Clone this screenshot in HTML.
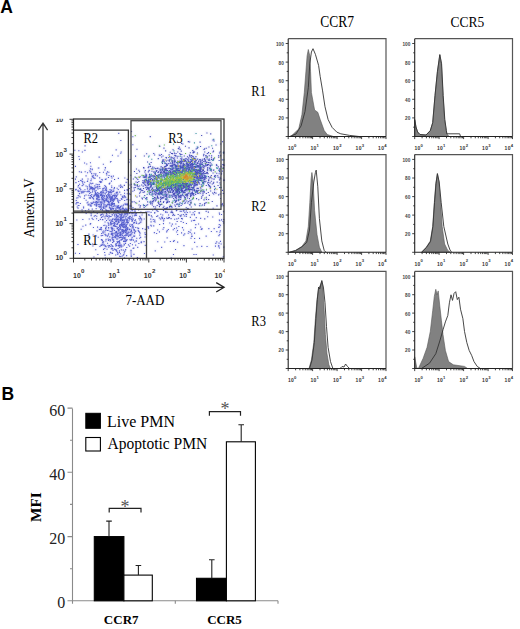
<!DOCTYPE html>
<html><head><meta charset="utf-8"><style>
html,body{margin:0;padding:0;background:#fff;width:520px;height:629px;overflow:hidden;}
svg{display:block;font-family:"Liberation Serif",serif;}
</style></head><body>
<svg width="520" height="629" viewBox="0 0 520 629">
<text x="0.3" y="12.6" font-family="Liberation Sans" font-weight="bold" font-size="17.5">A</text>
<text x="1.5" y="399.6" font-family="Liberation Sans" font-weight="bold" font-size="17.5">B</text>
<defs><filter id="bl" x="-5%" y="-5%" width="110%" height="110%"><feGaussianBlur stdDeviation="0.55"/></filter><filter id="hz" x="-5%" y="-5%" width="110%" height="110%"><feGaussianBlur stdDeviation="1.3"/></filter></defs>
<path filter="url(#hz)" fill="rgb(130,130,230)" opacity="0.75" d="M179 175h1v1h-1zM185 199h1v1h-1zM174 160h1v1h-1zM161 203h1v1h-1zM170 173h1v1h-1zM159 146h1v1h-1zM180 216h1v1h-1zM206 197h1v1h-1zM169 168h1v1h-1zM167 184h1v1h-1zM189 175h1v1h-1zM186 180h1v1h-1zM181 160h1v1h-1zM160 174h1v1h-1zM178 186h1v1h-1zM193 181h1v1h-1zM152 201h1v1h-1zM170 183h1v1h-1zM141 218h1v1h-1zM153 175h1v1h-1zM142 190h1v1h-1zM174 155h1v1h-1zM154 167h1v1h-1zM184 197h1v1h-1zM182 167h1v1h-1zM175 188h1v1h-1zM129 188h1v1h-1zM168 168h1v1h-1zM178 175h1v1h-1zM181 173h1v1h-1zM148 179h1v1h-1zM169 192h1v1h-1zM159 192h1v1h-1zM163 175h1v1h-1zM200 164h1v1h-1zM163 187h1v1h-1zM178 179h1v1h-1zM197 191h1v1h-1zM167 218h1v1h-1zM177 192h1v1h-1zM181 179h1v1h-1zM180 177h1v1h-1zM154 173h1v1h-1zM181 167h1v1h-1zM206 162h1v1h-1zM148 180h1v1h-1zM196 171h1v1h-1zM181 190h1v1h-1zM166 177h1v1h-1zM219 170h1v1h-1zM194 161h1v1h-1zM155 206h1v1h-1zM180 187h1v1h-1zM191 202h1v1h-1zM175 191h1v1h-1zM193 198h1v1h-1zM178 177h1v1h-1zM192 187h1v1h-1zM208 212h1v1h-1zM165 166h1v1h-1zM183 195h1v1h-1zM170 205h1v1h-1zM182 185h1v1h-1zM155 195h1v1h-1zM167 199h1v1h-1zM175 172h1v1h-1zM197 183h1v1h-1zM202 164h1v1h-1zM153 175h1v1h-1zM163 174h1v1h-1zM192 176h1v1h-1zM139 189h1v1h-1zM170 188h1v1h-1zM177 161h1v1h-1zM204 203h1v1h-1zM193 194h1v1h-1zM172 191h1v1h-1zM172 176h1v1h-1zM174 180h1v1h-1zM209 182h1v1h-1zM170 187h1v1h-1zM173 158h1v1h-1zM186 189h1v1h-1zM177 221h1v1h-1zM175 155h1v1h-1zM157 198h1v1h-1zM179 185h1v1h-1zM170 180h1v1h-1zM202 195h1v1h-1zM192 161h1v1h-1zM179 182h1v1h-1zM192 198h1v1h-1zM172 178h1v1h-1zM200 170h1v1h-1zM179 182h1v1h-1zM191 172h1v1h-1zM153 206h1v1h-1zM186 166h1v1h-1zM145 198h1v1h-1zM138 170h1v1h-1zM173 190h1v1h-1zM161 182h1v1h-1zM182 143h1v1h-1zM162 168h1v1h-1zM167 176h1v1h-1zM183 201h1v1h-1zM189 163h1v1h-1zM175 166h1v1h-1zM175 201h1v1h-1zM193 179h1v1h-1zM189 200h1v1h-1zM158 188h1v1h-1zM177 168h1v1h-1zM180 179h1v1h-1zM158 201h1v1h-1zM184 192h1v1h-1zM162 183h1v1h-1zM198 177h1v1h-1zM183 178h1v1h-1zM181 172h1v1h-1zM167 209h1v1h-1zM177 181h1v1h-1zM139 171h1v1h-1zM156 177h1v1h-1zM186 189h1v1h-1zM136 196h1v1h-1zM196 175h1v1h-1zM144 177h1v1h-1zM194 178h1v1h-1zM162 160h1v1h-1zM195 159h1v1h-1zM182 191h1v1h-1zM148 179h1v1h-1zM204 181h1v1h-1zM208 192h1v1h-1zM178 189h1v1h-1zM174 181h1v1h-1zM176 210h1v1h-1zM159 193h1v1h-1zM201 171h1v1h-1zM168 192h1v1h-1zM178 186h1v1h-1zM163 171h1v1h-1zM166 183h1v1h-1zM153 182h1v1h-1zM204 148h1v1h-1zM176 178h1v1h-1zM198 173h1v1h-1zM179 174h1v1h-1zM165 160h1v1h-1zM172 176h1v1h-1zM168 181h1v1h-1zM179 181h1v1h-1zM171 165h1v1h-1zM173 190h1v1h-1zM151 168h1v1h-1zM163 180h1v1h-1zM212 192h1v1h-1zM166 173h1v1h-1zM158 177h1v1h-1zM186 194h1v1h-1zM207 170h1v1h-1zM150 181h1v1h-1zM175 184h1v1h-1zM166 197h1v1h-1zM144 155h1v1h-1zM194 166h1v1h-1zM179 166h1v1h-1zM180 165h1v1h-1zM164 171h1v1h-1zM188 167h1v1h-1zM168 186h1v1h-1zM176 168h1v1h-1zM157 186h1v1h-1zM155 190h1v1h-1zM206 165h1v1h-1zM169 184h1v1h-1zM185 202h1v1h-1zM178 185h1v1h-1zM170 173h1v1h-1zM169 181h1v1h-1zM192 165h1v1h-1zM173 185h1v1h-1zM176 192h1v1h-1zM179 169h1v1h-1zM203 173h1v1h-1zM193 193h1v1h-1zM187 172h1v1h-1zM168 185h1v1h-1zM151 171h1v1h-1zM198 165h1v1h-1zM198 170h1v1h-1zM176 210h1v1h-1zM190 173h1v1h-1zM195 170h1v1h-1zM196 169h1v1h-1zM197 175h1v1h-1zM170 190h1v1h-1zM209 177h1v1h-1zM154 212h1v1h-1zM196 180h1v1h-1zM189 198h1v1h-1zM196 181h1v1h-1zM217 182h1v1h-1zM209 155h1v1h-1zM156 182h1v1h-1zM145 185h1v1h-1zM195 174h1v1h-1zM159 154h1v1h-1zM179 192h1v1h-1zM196 172h1v1h-1zM146 180h1v1h-1zM137 184h1v1h-1zM184 176h1v1h-1zM180 185h1v1h-1zM174 164h1v1h-1zM180 167h1v1h-1zM162 187h1v1h-1zM149 187h1v1h-1zM176 175h1v1h-1zM160 176h1v1h-1zM146 174h1v1h-1zM189 177h1v1h-1zM178 196h1v1h-1zM187 164h1v1h-1zM159 204h1v1h-1zM166 194h1v1h-1zM159 177h1v1h-1zM161 194h1v1h-1zM183 159h1v1h-1zM163 159h1v1h-1zM186 161h1v1h-1zM186 173h1v1h-1zM220 169h1v1h-1zM151 178h1v1h-1zM197 178h1v1h-1zM177 151h1v1h-1zM179 187h1v1h-1zM150 166h1v1h-1zM170 173h1v1h-1zM194 172h1v1h-1zM177 165h1v1h-1zM181 161h1v1h-1zM173 167h1v1h-1zM202 176h1v1h-1zM179 188h1v1h-1zM135 195h1v1h-1zM165 169h1v1h-1zM140 176h1v1h-1zM114 179h1v1h-1zM168 188h1v1h-1zM206 148h1v1h-1zM180 197h1v1h-1zM156 178h1v1h-1zM160 173h1v1h-1zM202 181h1v1h-1zM182 193h1v1h-1zM180 184h1v1h-1zM178 194h1v1h-1zM180 182h1v1h-1zM195 194h1v1h-1zM190 195h1v1h-1zM183 178h1v1h-1zM158 203h1v1h-1zM189 180h1v1h-1zM165 184h1v1h-1zM201 164h1v1h-1zM154 181h1v1h-1zM176 191h1v1h-1zM179 162h1v1h-1zM153 193h1v1h-1zM213 179h1v1h-1zM208 179h1v1h-1zM170 152h1v1h-1zM194 176h1v1h-1zM187 187h1v1h-1zM127 179h1v1h-1zM184 180h1v1h-1zM178 148h1v1h-1zM181 189h1v1h-1zM157 175h1v1h-1zM174 193h1v1h-1zM175 156h1v1h-1zM203 185h1v1h-1zM186 176h1v1h-1zM179 191h1v1h-1zM210 162h1v1h-1zM168 174h1v1h-1zM171 212h1v1h-1zM143 175h1v1h-1zM210 165h1v1h-1zM198 173h1v1h-1zM197 163h1v1h-1zM192 194h1v1h-1zM181 203h1v1h-1zM183 170h1v1h-1zM174 157h1v1h-1zM175 197h1v1h-1zM180 195h1v1h-1zM209 186h1v1h-1zM190 194h1v1h-1zM178 168h1v1h-1zM167 180h1v1h-1zM166 163h1v1h-1zM211 155h1v1h-1zM189 192h1v1h-1zM180 171h1v1h-1zM172 212h1v1h-1zM157 185h1v1h-1zM178 172h1v1h-1zM196 188h1v1h-1zM171 206h1v1h-1zM174 187h1v1h-1zM175 164h1v1h-1zM181 185h1v1h-1zM147 204h1v1h-1zM174 174h1v1h-1zM162 173h1v1h-1zM197 191h1v1h-1zM164 185h1v1h-1zM191 163h1v1h-1zM209 170h1v1h-1zM173 171h1v1h-1zM167 186h1v1h-1zM183 181h1v1h-1zM179 196h1v1h-1zM159 193h1v1h-1zM188 157h1v1h-1zM219 178h1v1h-1zM174 193h1v1h-1zM175 187h1v1h-1zM158 198h1v1h-1zM185 171h1v1h-1zM154 171h1v1h-1zM157 196h1v1h-1zM205 161h1v1h-1zM161 154h1v1h-1zM201 190h1v1h-1zM209 165h1v1h-1zM184 175h1v1h-1zM190 159h1v1h-1zM218 155h1v1h-1zM175 165h1v1h-1zM167 177h1v1h-1zM152 190h1v1h-1zM180 149h1v1h-1zM209 185h1v1h-1zM198 161h1v1h-1zM160 169h1v1h-1zM162 192h1v1h-1zM169 181h1v1h-1zM185 158h1v1h-1zM175 206h1v1h-1zM183 168h1v1h-1zM185 182h1v1h-1zM173 184h1v1h-1zM178 199h1v1h-1zM183 173h1v1h-1zM177 194h1v1h-1zM189 168h1v1h-1zM216 189h1v1h-1zM191 168h1v1h-1zM180 175h1v1h-1zM145 212h1v1h-1zM187 183h1v1h-1zM140 188h1v1h-1zM151 215h1v1h-1zM196 182h1v1h-1zM193 166h1v1h-1zM176 190h1v1h-1zM145 170h1v1h-1zM172 197h1v1h-1zM165 199h1v1h-1zM192 170h1v1h-1zM183 182h1v1h-1zM163 183h1v1h-1zM156 171h1v1h-1zM178 188h1v1h-1zM175 153h1v1h-1zM156 178h1v1h-1zM181 174h1v1h-1zM156 180h1v1h-1zM201 180h1v1h-1zM200 160h1v1h-1zM201 184h1v1h-1zM170 179h1v1h-1zM189 169h1v1h-1zM176 162h1v1h-1zM171 165h1v1h-1zM172 186h1v1h-1zM153 171h1v1h-1zM150 186h1v1h-1zM195 192h1v1h-1zM175 195h1v1h-1zM183 200h1v1h-1zM199 172h1v1h-1zM144 171h1v1h-1zM163 197h1v1h-1zM183 184h1v1h-1zM187 194h1v1h-1zM171 181h1v1h-1zM200 193h1v1h-1zM183 191h1v1h-1zM155 194h1v1h-1zM160 190h1v1h-1zM195 183h1v1h-1zM188 182h1v1h-1zM141 190h1v1h-1zM206 189h1v1h-1zM191 171h1v1h-1zM206 199h1v1h-1zM171 180h1v1h-1zM173 194h1v1h-1zM156 183h1v1h-1zM175 208h1v1h-1zM211 170h1v1h-1zM166 165h1v1h-1zM182 170h1v1h-1zM146 182h1v1h-1zM171 211h1v1h-1zM199 179h1v1h-1zM154 197h1v1h-1zM200 163h1v1h-1zM186 184h1v1h-1zM158 193h1v1h-1zM169 206h1v1h-1zM170 172h1v1h-1zM178 188h1v1h-1zM168 186h1v1h-1zM162 169h1v1h-1zM173 181h1v1h-1zM158 180h1v1h-1zM153 153h1v1h-1zM178 188h1v1h-1zM197 184h1v1h-1zM148 179h1v1h-1zM179 162h1v1h-1zM166 202h1v1h-1zM159 187h1v1h-1zM196 191h1v1h-1zM169 201h1v1h-1zM209 168h1v1h-1zM163 194h1v1h-1zM187 175h1v1h-1zM174 180h1v1h-1zM164 181h1v1h-1zM191 178h1v1h-1zM176 196h1v1h-1zM191 180h1v1h-1zM178 178h1v1h-1zM157 180h1v1h-1zM177 185h1v1h-1zM180 168h1v1h-1zM198 170h1v1h-1zM161 182h1v1h-1zM178 172h1v1h-1zM145 184h1v1h-1zM192 169h1v1h-1zM157 211h1v1h-1zM143 204h1v1h-1zM178 186h1v1h-1zM201 175h1v1h-1zM149 215h1v1h-1zM157 188h1v1h-1zM164 181h1v1h-1zM156 188h1v1h-1zM187 183h1v1h-1zM163 202h1v1h-1zM165 182h1v1h-1zM191 206h1v1h-1zM164 171h1v1h-1zM188 188h1v1h-1zM160 170h1v1h-1zM155 209h1v1h-1zM142 182h1v1h-1zM216 173h1v1h-1zM173 194h1v1h-1zM184 196h1v1h-1zM178 165h1v1h-1zM182 175h1v1h-1zM180 161h1v1h-1zM217 175h1v1h-1zM158 182h1v1h-1zM148 181h1v1h-1zM159 174h1v1h-1zM152 179h1v1h-1zM194 167h1v1h-1zM195 184h1v1h-1zM160 204h1v1h-1zM151 159h1v1h-1zM172 180h1v1h-1zM207 169h1v1h-1zM123 197h1v1h-1zM190 165h1v1h-1zM157 182h1v1h-1zM200 162h1v1h-1zM157 193h1v1h-1zM173 182h1v1h-1zM149 183h1v1h-1zM159 188h1v1h-1zM207 172h1v1h-1zM195 156h1v1h-1zM171 189h1v1h-1zM162 187h1v1h-1zM141 185h1v1h-1zM171 195h1v1h-1zM178 197h1v1h-1zM177 165h1v1h-1zM177 170h1v1h-1zM157 205h1v1h-1zM178 199h1v1h-1zM178 170h1v1h-1zM205 159h1v1h-1zM216 165h1v1h-1zM176 174h1v1h-1zM164 161h1v1h-1zM178 181h1v1h-1zM167 165h1v1h-1zM164 166h1v1h-1zM178 193h1v1h-1zM158 174h1v1h-1zM191 177h1v1h-1zM177 189h1v1h-1zM184 190h1v1h-1zM175 176h1v1h-1zM164 183h1v1h-1zM160 172h1v1h-1zM174 205h1v1h-1zM168 191h1v1h-1zM184 164h1v1h-1zM179 180h1v1h-1zM152 194h1v1h-1zM180 186h1v1h-1zM152 209h1v1h-1zM167 201h1v1h-1zM173 174h1v1h-1zM137 186h1v1h-1zM181 162h1v1h-1zM182 183h1v1h-1zM176 183h1v1h-1zM171 218h1v1h-1zM172 183h1v1h-1zM159 155h1v1h-1zM174 172h1v1h-1zM168 183h1v1h-1zM181 163h1v1h-1zM155 172h1v1h-1zM184 174h1v1h-1zM182 184h1v1h-1zM176 178h1v1h-1zM170 169h1v1h-1zM190 189h1v1h-1zM146 179h1v1h-1zM188 172h1v1h-1zM184 160h1v1h-1zM185 168h1v1h-1zM187 187h1v1h-1zM166 160h1v1h-1zM174 180h1v1h-1zM192 187h1v1h-1zM188 173h1v1h-1zM183 183h1v1h-1zM149 170h1v1h-1zM190 196h1v1h-1zM202 191h1v1h-1zM199 180h1v1h-1zM184 155h1v1h-1zM148 171h1v1h-1zM198 190h1v1h-1zM176 204h1v1h-1zM128 193h1v1h-1zM187 196h1v1h-1zM149 177h1v1h-1zM153 182h1v1h-1zM166 182h1v1h-1zM204 181h1v1h-1zM172 161h1v1h-1zM184 192h1v1h-1zM214 192h1v1h-1zM211 159h1v1h-1zM177 162h1v1h-1zM174 186h1v1h-1zM154 176h1v1h-1zM165 150h1v1h-1zM188 189h1v1h-1zM187 181h1v1h-1zM181 173h1v1h-1zM199 205h1v1h-1zM164 185h1v1h-1zM178 170h1v1h-1zM194 179h1v1h-1zM191 164h1v1h-1zM200 166h1v1h-1zM187 184h1v1h-1zM173 174h1v1h-1zM186 173h1v1h-1zM159 206h1v1h-1zM146 197h1v1h-1zM191 189h1v1h-1zM178 187h1v1h-1zM185 185h1v1h-1zM145 206h1v1h-1zM172 181h1v1h-1zM167 207h1v1h-1zM162 170h1v1h-1zM134 184h1v1h-1zM172 162h1v1h-1zM197 172h1v1h-1zM187 186h1v1h-1zM167 202h1v1h-1zM179 171h1v1h-1zM194 177h1v1h-1zM124 185h1v1h-1zM177 170h1v1h-1zM190 162h1v1h-1zM193 178h1v1h-1zM213 151h1v1h-1zM202 178h1v1h-1zM185 179h1v1h-1zM185 170h1v1h-1zM195 164h1v1h-1zM168 163h1v1h-1zM178 206h1v1h-1zM197 159h1v1h-1zM218 194h1v1h-1zM176 189h1v1h-1zM178 175h1v1h-1zM183 164h1v1h-1zM206 189h1v1h-1zM178 204h1v1h-1zM208 162h1v1h-1zM160 179h1v1h-1zM175 195h1v1h-1zM175 185h1v1h-1zM195 204h1v1h-1zM200 169h1v1h-1zM149 193h1v1h-1zM161 166h1v1h-1zM186 207h1v1h-1zM166 172h1v1h-1zM149 155h1v1h-1zM200 175h1v1h-1zM189 176h1v1h-1zM189 204h1v1h-1zM169 177h1v1h-1zM200 176h1v1h-1zM174 189h1v1h-1zM201 198h1v1h-1zM161 182h1v1h-1zM162 197h1v1h-1zM183 186h1v1h-1zM165 178h1v1h-1zM193 179h1v1h-1zM184 179h1v1h-1zM161 171h1v1h-1zM180 196h1v1h-1zM172 162h1v1h-1zM197 193h1v1h-1zM166 195h1v1h-1zM170 180h1v1h-1zM203 165h1v1h-1zM219 179h1v1h-1zM180 190h1v1h-1zM183 183h1v1h-1zM210 188h1v1h-1zM177 173h1v1h-1zM159 187h1v1h-1zM181 158h1v1h-1zM188 189h1v1h-1zM162 185h1v1h-1zM146 180h1v1h-1zM150 201h1v1h-1zM192 187h1v1h-1zM164 144h1v1h-1zM176 181h1v1h-1zM183 160h1v1h-1zM191 192h1v1h-1zM172 215h1v1h-1zM189 171h1v1h-1zM161 184h1v1h-1zM172 178h1v1h-1zM159 188h1v1h-1zM202 185h1v1h-1zM178 198h1v1h-1zM164 169h1v1h-1zM172 203h1v1h-1zM175 168h1v1h-1zM193 181h1v1h-1zM147 201h1v1h-1zM158 193h1v1h-1zM171 169h1v1h-1zM198 170h1v1h-1zM177 180h1v1h-1zM193 193h1v1h-1zM220 155h1v1h-1zM174 187h1v1h-1zM172 190h1v1h-1zM203 183h1v1h-1zM189 185h1v1h-1zM192 198h1v1h-1zM169 188h1v1h-1zM217 185h1v1h-1zM213 182h1v1h-1zM190 202h1v1h-1zM193 152h1v1h-1zM138 204h1v1h-1zM192 174h1v1h-1zM175 177h1v1h-1zM188 165h1v1h-1zM193 152h1v1h-1zM172 176h1v1h-1zM145 177h1v1h-1zM186 185h1v1h-1zM164 163h1v1h-1zM172 201h1v1h-1zM167 186h1v1h-1zM172 178h1v1h-1zM133 178h1v1h-1zM203 165h1v1h-1zM184 164h1v1h-1zM201 169h1v1h-1zM219 173h1v1h-1zM179 178h1v1h-1zM143 167h1v1h-1zM161 180h1v1h-1zM155 172h1v1h-1zM169 184h1v1h-1zM181 205h1v1h-1zM139 195h1v1h-1zM186 175h1v1h-1zM149 163h1v1h-1zM185 160h1v1h-1zM177 158h1v1h-1zM173 191h1v1h-1zM178 170h1v1h-1zM168 183h1v1h-1zM167 174h1v1h-1zM145 187h1v1h-1zM178 199h1v1h-1zM216 164h1v1h-1zM219 168h1v1h-1zM205 164h1v1h-1zM193 189h1v1h-1zM165 168h1v1h-1zM208 160h1v1h-1zM178 161h1v1h-1zM178 161h1v1h-1zM173 187h1v1h-1zM181 215h1v1h-1zM170 168h1v1h-1zM177 193h1v1h-1zM157 187h1v1h-1zM172 166h1v1h-1zM178 177h1v1h-1zM174 171h1v1h-1zM190 204h1v1h-1zM193 152h1v1h-1zM157 189h1v1h-1zM175 185h1v1h-1zM197 169h1v1h-1zM184 181h1v1h-1zM181 191h1v1h-1zM210 177h1v1h-1zM165 188h1v1h-1zM181 189h1v1h-1zM169 154h1v1h-1zM209 195h1v1h-1zM140 218h1v1h-1zM166 196h1v1h-1zM168 196h1v1h-1zM192 159h1v1h-1zM191 176h1v1h-1zM207 164h1v1h-1zM148 178h1v1h-1zM194 190h1v1h-1zM173 170h1v1h-1zM166 181h1v1h-1zM190 152h1v1h-1zM161 181h1v1h-1zM137 188h1v1h-1zM172 172h1v1h-1zM149 175h1v1h-1zM166 208h1v1h-1zM186 162h1v1h-1zM185 165h1v1h-1zM211 163h1v1h-1zM175 197h1v1h-1zM148 214h1v1h-1zM164 187h1v1h-1zM161 173h1v1h-1zM155 178h1v1h-1zM188 193h1v1h-1zM166 170h1v1h-1zM139 207h1v1h-1zM193 197h1v1h-1zM177 181h1v1h-1zM186 188h1v1h-1zM181 190h1v1h-1zM192 199h1v1h-1zM180 166h1v1h-1zM204 192h1v1h-1zM187 173h1v1h-1zM187 168h1v1h-1zM187 180h1v1h-1zM150 182h1v1h-1zM176 167h1v1h-1zM174 159h1v1h-1zM183 167h1v1h-1zM152 204h1v1h-1zM212 201h1v1h-1zM181 188h1v1h-1zM155 200h1v1h-1zM145 179h1v1h-1zM173 180h1v1h-1zM177 184h1v1h-1zM165 168h1v1h-1zM181 166h1v1h-1zM166 184h1v1h-1zM190 174h1v1h-1zM165 168h1v1h-1zM178 185h1v1h-1zM199 173h1v1h-1zM159 183h1v1h-1zM170 178h1v1h-1zM162 185h1v1h-1zM195 175h1v1h-1zM156 175h1v1h-1zM169 176h1v1h-1zM178 190h1v1h-1zM159 192h1v1h-1zM160 201h1v1h-1zM169 159h1v1h-1zM137 182h1v1h-1zM150 179h1v1h-1zM171 184h1v1h-1zM182 173h1v1h-1zM175 174h1v1h-1zM144 197h1v1h-1zM170 184h1v1h-1zM195 161h1v1h-1zM190 196h1v1h-1zM177 194h1v1h-1zM161 175h1v1h-1zM192 189h1v1h-1zM167 172h1v1h-1zM156 199h1v1h-1zM163 180h1v1h-1zM208 164h1v1h-1zM183 174h1v1h-1zM202 166h1v1h-1zM169 184h1v1h-1zM198 179h1v1h-1zM167 183h1v1h-1zM176 173h1v1h-1zM194 179h1v1h-1zM169 156h1v1h-1zM177 184h1v1h-1zM186 194h1v1h-1zM203 179h1v1h-1zM169 176h1v1h-1zM144 184h1v1h-1zM173 179h1v1h-1zM179 173h1v1h-1zM181 172h1v1h-1zM205 163h1v1h-1zM185 195h1v1h-1zM195 177h1v1h-1zM157 197h1v1h-1zM196 174h1v1h-1zM221 174h1v1h-1zM194 175h1v1h-1zM184 185h1v1h-1zM182 191h1v1h-1zM215 177h1v1h-1zM160 174h1v1h-1zM177 170h1v1h-1zM188 201h1v1h-1zM194 174h1v1h-1zM170 178h1v1h-1zM185 199h1v1h-1zM173 196h1v1h-1zM181 187h1v1h-1zM176 175h1v1h-1zM156 216h1v1h-1zM179 185h1v1h-1zM197 184h1v1h-1zM160 181h1v1h-1zM174 162h1v1h-1zM192 160h1v1h-1zM158 189h1v1h-1zM183 185h1v1h-1zM158 180h1v1h-1zM202 160h1v1h-1zM219 168h1v1h-1zM175 161h1v1h-1zM194 190h1v1h-1zM181 195h1v1h-1zM181 218h1v1h-1zM210 186h1v1h-1zM153 177h1v1h-1zM200 164h1v1h-1zM178 133h1v1h-1zM207 167h1v1h-1zM183 177h1v1h-1zM166 195h1v1h-1zM185 187h1v1h-1zM194 185h1v1h-1zM180 183h1v1h-1zM189 187h1v1h-1zM169 201h1v1h-1zM136 173h1v1h-1zM197 171h1v1h-1zM193 159h1v1h-1zM182 201h1v1h-1zM180 197h1v1h-1zM200 187h1v1h-1zM170 165h1v1h-1zM165 185h1v1h-1zM175 177h1v1h-1zM203 177h1v1h-1zM151 182h1v1h-1zM203 183h1v1h-1zM166 177h1v1h-1zM157 195h1v1h-1zM204 179h1v1h-1zM177 176h1v1h-1zM153 183h1v1h-1zM172 175h1v1h-1zM198 188h1v1h-1zM203 172h1v1h-1zM170 185h1v1h-1zM187 173h1v1h-1zM193 157h1v1h-1zM166 195h1v1h-1zM186 164h1v1h-1zM178 189h1v1h-1zM168 188h1v1h-1zM169 159h1v1h-1zM180 167h1v1h-1zM180 173h1v1h-1zM168 171h1v1h-1zM170 165h1v1h-1zM201 186h1v1h-1zM183 176h1v1h-1zM197 182h1v1h-1zM203 170h1v1h-1zM191 182h1v1h-1zM162 183h1v1h-1zM195 185h1v1h-1zM173 182h1v1h-1zM216 167h1v1h-1zM213 159h1v1h-1zM140 189h1v1h-1zM160 188h1v1h-1zM192 174h1v1h-1zM195 167h1v1h-1zM194 185h1v1h-1zM178 214h1v1h-1zM188 174h1v1h-1zM192 182h1v1h-1zM177 185h1v1h-1zM200 142h1v1h-1zM134 190h1v1h-1zM192 168h1v1h-1zM158 202h1v1h-1zM198 173h1v1h-1zM174 170h1v1h-1zM161 180h1v1h-1zM186 181h1v1h-1zM161 176h1v1h-1zM161 182h1v1h-1zM148 167h1v1h-1zM178 177h1v1h-1zM189 189h1v1h-1zM199 203h1v1h-1zM176 190h1v1h-1zM200 180h1v1h-1zM179 196h1v1h-1zM177 194h1v1h-1zM190 201h1v1h-1zM200 191h1v1h-1zM172 180h1v1h-1zM174 184h1v1h-1zM176 183h1v1h-1zM181 184h1v1h-1zM161 186h1v1h-1zM200 166h1v1h-1zM171 153h1v1h-1zM188 169h1v1h-1zM162 155h1v1h-1zM186 180h1v1h-1zM187 179h1v1h-1zM171 159h1v1h-1zM219 182h1v1h-1zM186 190h1v1h-1zM215 175h1v1h-1zM198 199h1v1h-1zM166 208h1v1h-1zM171 165h1v1h-1zM188 193h1v1h-1zM180 186h1v1h-1zM180 185h1v1h-1zM173 194h1v1h-1zM143 177h1v1h-1zM174 173h1v1h-1zM135 177h1v1h-1zM186 168h1v1h-1zM164 181h1v1h-1zM165 163h1v1h-1zM175 167h1v1h-1zM184 187h1v1h-1zM150 184h1v1h-1zM144 191h1v1h-1zM158 158h1v1h-1zM138 177h1v1h-1zM160 176h1v1h-1zM211 175h1v1h-1zM158 176h1v1h-1zM192 190h1v1h-1zM152 184h1v1h-1zM185 179h1v1h-1zM173 181h1v1h-1zM178 190h1v1h-1zM190 172h1v1h-1zM214 189h1v1h-1zM183 186h1v1h-1zM181 182h1v1h-1zM160 184h1v1h-1zM191 185h1v1h-1zM174 195h1v1h-1zM196 190h1v1h-1zM178 185h1v1h-1zM214 186h1v1h-1zM139 189h1v1h-1zM173 198h1v1h-1zM197 177h1v1h-1zM172 153h1v1h-1zM163 201h1v1h-1zM174 182h1v1h-1zM151 169h1v1h-1zM181 177h1v1h-1zM202 204h1v1h-1zM157 191h1v1h-1zM162 162h1v1h-1zM171 189h1v1h-1zM199 171h1v1h-1zM163 209h1v1h-1zM165 168h1v1h-1zM197 146h1v1h-1zM196 178h1v1h-1zM172 177h1v1h-1zM157 178h1v1h-1zM148 156h1v1h-1zM165 188h1v1h-1zM134 210h1v1h-1zM194 151h1v1h-1zM166 198h1v1h-1zM189 171h1v1h-1zM216 205h1v1h-1zM202 182h1v1h-1zM156 181h1v1h-1zM196 192h1v1h-1zM202 183h1v1h-1zM164 175h1v1h-1zM160 193h1v1h-1zM177 173h1v1h-1zM147 161h1v1h-1zM208 202h1v1h-1zM131 184h1v1h-1zM157 176h1v1h-1zM174 186h1v1h-1zM174 160h1v1h-1zM182 161h1v1h-1zM184 172h1v1h-1zM175 174h1v1h-1zM202 177h1v1h-1zM136 203h1v1h-1zM179 174h1v1h-1zM165 189h1v1h-1zM182 188h1v1h-1zM183 165h1v1h-1zM161 186h1v1h-1zM166 169h1v1h-1zM195 192h1v1h-1zM186 185h1v1h-1zM165 183h1v1h-1zM220 155h1v1h-1zM150 175h1v1h-1zM185 189h1v1h-1zM195 166h1v1h-1zM183 192h1v1h-1zM175 191h1v1h-1zM168 174h1v1h-1zM175 196h1v1h-1zM168 178h1v1h-1zM194 173h1v1h-1zM171 183h1v1h-1zM170 171h1v1h-1zM155 178h1v1h-1zM178 178h1v1h-1zM161 204h1v1h-1zM175 201h1v1h-1zM200 173h1v1h-1zM186 201h1v1h-1zM189 178h1v1h-1zM186 184h1v1h-1zM180 192h1v1h-1zM176 184h1v1h-1zM173 214h1v1h-1zM194 181h1v1h-1zM157 168h1v1h-1zM206 193h1v1h-1zM180 174h1v1h-1zM164 178h1v1h-1zM169 141h1v1h-1zM165 196h1v1h-1zM182 191h1v1h-1zM165 193h1v1h-1zM202 189h1v1h-1zM163 206h1v1h-1zM134 187h1v1h-1zM164 195h1v1h-1zM139 177h1v1h-1zM178 175h1v1h-1zM200 191h1v1h-1zM192 183h1v1h-1zM152 167h1v1h-1zM164 188h1v1h-1zM215 171h1v1h-1zM185 168h1v1h-1zM179 186h1v1h-1zM200 171h1v1h-1zM205 160h1v1h-1zM182 203h1v1h-1zM186 158h1v1h-1zM191 181h1v1h-1zM167 190h1v1h-1zM158 192h1v1h-1zM180 163h1v1h-1zM160 179h1v1h-1zM178 182h1v1h-1zM181 191h1v1h-1zM162 167h1v1h-1zM177 194h1v1h-1zM176 196h1v1h-1zM188 183h1v1h-1zM200 168h1v1h-1zM169 187h1v1h-1zM163 184h1v1h-1zM146 197h1v1h-1zM160 166h1v1h-1zM190 180h1v1h-1zM180 178h1v1h-1zM159 169h1v1h-1zM172 184h1v1h-1zM180 180h1v1h-1zM189 173h1v1h-1zM167 187h1v1h-1zM174 162h1v1h-1zM143 186h1v1h-1zM156 190h1v1h-1zM211 178h1v1h-1zM135 202h1v1h-1zM172 165h1v1h-1zM183 159h1v1h-1zM172 185h1v1h-1zM163 189h1v1h-1zM178 209h1v1h-1zM179 188h1v1h-1zM177 168h1v1h-1zM141 197h1v1h-1zM176 169h1v1h-1zM162 163h1v1h-1zM168 217h1v1h-1zM184 184h1v1h-1zM192 187h1v1h-1zM197 185h1v1h-1zM169 206h1v1h-1zM197 181h1v1h-1zM202 192h1v1h-1zM202 162h1v1h-1zM207 156h1v1h-1zM176 200h1v1h-1zM176 201h1v1h-1zM196 184h1v1h-1zM152 188h1v1h-1zM183 182h1v1h-1zM168 173h1v1h-1zM172 202h1v1h-1zM144 195h1v1h-1zM161 190h1v1h-1zM179 185h1v1h-1zM197 191h1v1h-1zM199 183h1v1h-1zM177 190h1v1h-1zM175 165h1v1h-1zM162 190h1v1h-1zM187 208h1v1h-1zM174 174h1v1h-1zM191 176h1v1h-1zM214 186h1v1h-1zM178 193h1v1h-1zM149 194h1v1h-1zM162 161h1v1h-1zM150 192h1v1h-1zM155 168h1v1h-1zM205 164h1v1h-1zM184 187h1v1h-1zM149 181h1v1h-1zM192 189h1v1h-1zM204 218h1v1h-1zM172 192h1v1h-1zM165 192h1v1h-1zM172 169h1v1h-1zM185 170h1v1h-1zM192 163h1v1h-1zM203 169h1v1h-1zM203 161h1v1h-1zM203 167h1v1h-1zM206 172h1v1h-1zM192 164h1v1h-1zM148 166h1v1h-1zM176 162h1v1h-1zM185 185h1v1h-1zM171 182h1v1h-1zM197 191h1v1h-1zM172 195h1v1h-1zM160 179h1v1h-1zM208 184h1v1h-1zM192 158h1v1h-1zM183 210h1v1h-1zM198 193h1v1h-1zM200 173h1v1h-1zM186 163h1v1h-1zM130 194h1v1h-1zM165 157h1v1h-1zM170 171h1v1h-1zM159 194h1v1h-1zM183 180h1v1h-1zM203 169h1v1h-1zM169 195h1v1h-1zM156 170h1v1h-1zM220 177h1v1h-1zM170 175h1v1h-1zM154 173h1v1h-1zM184 185h1v1h-1zM188 165h1v1h-1zM165 208h1v1h-1zM195 169h1v1h-1zM169 209h1v1h-1zM161 168h1v1h-1zM183 188h1v1h-1zM194 161h1v1h-1zM166 164h1v1h-1zM186 181h1v1h-1zM177 190h1v1h-1zM165 199h1v1h-1zM207 164h1v1h-1zM178 182h1v1h-1zM176 186h1v1h-1zM193 186h1v1h-1zM197 153h1v1h-1zM204 198h1v1h-1zM186 186h1v1h-1zM167 176h1v1h-1zM168 168h1v1h-1zM189 155h1v1h-1zM191 160h1v1h-1zM207 182h1v1h-1zM187 174h1v1h-1zM200 161h1v1h-1zM209 168h1v1h-1zM182 201h1v1h-1zM149 181h1v1h-1zM155 176h1v1h-1zM150 203h1v1h-1zM211 181h1v1h-1zM162 184h1v1h-1zM204 167h1v1h-1zM191 157h1v1h-1zM213 158h1v1h-1zM199 170h1v1h-1zM177 177h1v1h-1zM175 186h1v1h-1zM181 187h1v1h-1zM183 182h1v1h-1zM168 185h1v1h-1zM178 166h1v1h-1zM211 145h1v1h-1zM145 179h1v1h-1zM184 166h1v1h-1zM161 174h1v1h-1zM183 176h1v1h-1zM196 160h1v1h-1zM178 165h1v1h-1zM194 176h1v1h-1zM147 187h1v1h-1zM201 167h1v1h-1zM167 189h1v1h-1zM191 175h1v1h-1zM183 166h1v1h-1zM127 190h1v1h-1zM164 208h1v1h-1zM183 170h1v1h-1zM210 190h1v1h-1zM185 198h1v1h-1zM184 199h1v1h-1zM151 174h1v1h-1zM208 202h1v1h-1zM215 175h1v1h-1zM180 176h1v1h-1zM175 178h1v1h-1zM147 194h1v1h-1zM197 178h1v1h-1zM193 195h1v1h-1zM204 166h1v1h-1zM190 164h1v1h-1zM159 194h1v1h-1zM206 185h1v1h-1zM154 199h1v1h-1zM175 166h1v1h-1zM185 194h1v1h-1zM197 183h1v1h-1zM187 202h1v1h-1zM187 162h1v1h-1zM164 186h1v1h-1zM153 181h1v1h-1zM180 158h1v1h-1zM165 173h1v1h-1zM153 200h1v1h-1zM154 178h1v1h-1zM169 172h1v1h-1zM142 198h1v1h-1zM152 198h1v1h-1zM146 199h1v1h-1zM183 169h1v1h-1zM187 178h1v1h-1zM219 187h1v1h-1zM149 176h1v1h-1zM165 172h1v1h-1zM197 188h1v1h-1zM175 202h1v1h-1zM172 166h1v1h-1zM213 139h1v1h-1zM172 162h1v1h-1zM156 170h1v1h-1zM153 183h1v1h-1zM186 187h1v1h-1zM185 177h1v1h-1zM152 175h1v1h-1zM159 186h1v1h-1zM190 165h1v1h-1zM191 177h1v1h-1zM166 174h1v1h-1zM191 214h1v1h-1zM190 189h1v1h-1zM143 175h1v1h-1zM173 168h1v1h-1zM187 173h1v1h-1zM168 160h1v1h-1zM136 178h1v1h-1zM173 171h1v1h-1zM194 189h1v1h-1zM211 169h1v1h-1zM135 177h1v1h-1zM156 168h1v1h-1zM198 176h1v1h-1zM204 173h1v1h-1zM199 192h1v1h-1zM182 171h1v1h-1zM156 198h1v1h-1zM192 181h1v1h-1zM165 182h1v1h-1zM129 162h1v1h-1zM193 188h1v1h-1zM215 193h1v1h-1zM161 186h1v1h-1zM208 185h1v1h-1zM211 169h1v1h-1zM210 170h1v1h-1zM179 171h1v1h-1zM155 197h1v1h-1zM175 185h1v1h-1zM135 185h1v1h-1zM145 182h1v1h-1zM181 187h1v1h-1zM159 188h1v1h-1zM176 169h1v1h-1zM177 204h1v1h-1zM218 177h1v1h-1zM205 176h1v1h-1zM178 200h1v1h-1zM203 190h1v1h-1zM163 182h1v1h-1zM172 188h1v1h-1zM197 162h1v1h-1zM154 176h1v1h-1zM173 150h1v1h-1zM153 201h1v1h-1zM181 154h1v1h-1zM212 184h1v1h-1zM164 171h1v1h-1zM184 166h1v1h-1zM161 180h1v1h-1zM156 188h1v1h-1zM154 193h1v1h-1zM208 199h1v1h-1zM189 190h1v1h-1zM165 174h1v1h-1zM193 187h1v1h-1zM172 183h1v1h-1zM195 171h1v1h-1zM185 178h1v1h-1zM185 178h1v1h-1zM191 180h1v1h-1zM167 187h1v1h-1zM171 175h1v1h-1zM145 176h1v1h-1zM170 192h1v1h-1zM151 162h1v1h-1zM176 172h1v1h-1zM160 204h1v1h-1zM181 143h1v1h-1zM188 169h1v1h-1zM151 194h1v1h-1zM163 160h1v1h-1zM160 219h1v1h-1zM194 142h1v1h-1zM213 194h1v1h-1zM196 198h1v1h-1zM199 164h1v1h-1zM185 169h1v1h-1zM192 169h1v1h-1zM177 173h1v1h-1zM198 167h1v1h-1zM175 182h1v1h-1zM185 170h1v1h-1zM200 170h1v1h-1zM175 172h1v1h-1zM184 161h1v1h-1zM190 162h1v1h-1zM172 162h1v1h-1zM202 170h1v1h-1zM192 162h1v1h-1zM170 163h1v1h-1zM187 172h1v1h-1zM179 177h1v1h-1zM180 154h1v1h-1zM189 186h1v1h-1zM179 172h1v1h-1zM200 167h1v1h-1zM180 182h1v1h-1zM200 169h1v1h-1zM187 164h1v1h-1zM198 190h1v1h-1zM182 161h1v1h-1zM182 170h1v1h-1zM174 181h1v1h-1zM195 158h1v1h-1zM199 167h1v1h-1zM213 170h1v1h-1zM203 191h1v1h-1zM191 161h1v1h-1zM185 170h1v1h-1zM193 176h1v1h-1zM188 171h1v1h-1zM206 155h1v1h-1zM199 172h1v1h-1zM178 173h1v1h-1zM180 176h1v1h-1zM204 178h1v1h-1zM192 179h1v1h-1zM185 174h1v1h-1zM202 171h1v1h-1zM183 160h1v1h-1zM185 169h1v1h-1zM182 173h1v1h-1zM164 170h1v1h-1zM198 169h1v1h-1zM173 164h1v1h-1zM181 186h1v1h-1zM179 193h1v1h-1zM197 165h1v1h-1zM187 174h1v1h-1zM188 168h1v1h-1zM168 186h1v1h-1zM187 174h1v1h-1zM170 174h1v1h-1zM192 167h1v1h-1zM192 171h1v1h-1zM188 160h1v1h-1zM213 173h1v1h-1zM194 162h1v1h-1zM195 174h1v1h-1zM190 171h1v1h-1zM186 181h1v1h-1zM200 168h1v1h-1zM201 178h1v1h-1zM172 164h1v1h-1zM201 174h1v1h-1zM194 167h1v1h-1zM200 170h1v1h-1zM194 170h1v1h-1zM173 182h1v1h-1zM174 153h1v1h-1zM210 170h1v1h-1zM191 155h1v1h-1zM171 185h1v1h-1zM192 150h1v1h-1zM184 161h1v1h-1zM166 157h1v1h-1zM161 191h1v1h-1zM169 161h1v1h-1zM191 171h1v1h-1zM187 165h1v1h-1zM185 153h1v1h-1zM191 166h1v1h-1zM195 175h1v1h-1zM163 172h1v1h-1zM184 180h1v1h-1zM178 168h1v1h-1zM173 173h1v1h-1zM181 167h1v1h-1zM187 174h1v1h-1zM185 189h1v1h-1zM171 176h1v1h-1zM182 173h1v1h-1zM212 160h1v1h-1zM175 165h1v1h-1zM168 188h1v1h-1zM191 159h1v1h-1zM195 160h1v1h-1zM194 168h1v1h-1zM175 168h1v1h-1zM200 187h1v1h-1zM179 148h1v1h-1zM174 176h1v1h-1zM181 178h1v1h-1zM187 159h1v1h-1zM197 162h1v1h-1zM195 173h1v1h-1zM188 186h1v1h-1zM199 159h1v1h-1zM189 154h1v1h-1zM199 178h1v1h-1zM171 188h1v1h-1zM169 170h1v1h-1zM197 147h1v1h-1zM171 187h1v1h-1zM184 169h1v1h-1zM187 181h1v1h-1zM182 171h1v1h-1zM183 167h1v1h-1zM205 163h1v1h-1zM158 189h1v1h-1zM199 182h1v1h-1zM216 144h1v1h-1zM188 161h1v1h-1zM188 187h1v1h-1zM197 165h1v1h-1zM210 153h1v1h-1zM174 172h1v1h-1zM189 169h1v1h-1zM186 169h1v1h-1zM195 164h1v1h-1zM190 167h1v1h-1zM196 164h1v1h-1zM183 174h1v1h-1zM189 162h1v1h-1zM180 169h1v1h-1zM180 170h1v1h-1zM186 183h1v1h-1zM186 174h1v1h-1zM174 171h1v1h-1zM207 172h1v1h-1zM186 174h1v1h-1zM171 183h1v1h-1zM201 173h1v1h-1zM179 189h1v1h-1zM194 182h1v1h-1zM188 170h1v1h-1zM191 165h1v1h-1zM190 178h1v1h-1zM181 176h1v1h-1zM188 169h1v1h-1zM212 151h1v1h-1zM161 157h1v1h-1zM189 173h1v1h-1zM193 177h1v1h-1zM175 180h1v1h-1zM172 160h1v1h-1zM214 176h1v1h-1zM184 166h1v1h-1zM213 170h1v1h-1zM194 173h1v1h-1zM189 162h1v1h-1zM194 163h1v1h-1zM196 148h1v1h-1zM202 159h1v1h-1zM193 151h1v1h-1zM190 174h1v1h-1zM190 170h1v1h-1zM204 176h1v1h-1zM198 172h1v1h-1zM176 166h1v1h-1zM180 175h1v1h-1zM192 166h1v1h-1zM181 177h1v1h-1zM183 174h1v1h-1zM177 162h1v1h-1zM185 171h1v1h-1zM193 170h1v1h-1zM200 165h1v1h-1zM188 179h1v1h-1zM213 183h1v1h-1zM187 167h1v1h-1zM200 146h1v1h-1zM194 168h1v1h-1zM182 167h1v1h-1zM154 154h1v1h-1zM186 173h1v1h-1zM190 175h1v1h-1zM211 159h1v1h-1zM171 169h1v1h-1zM211 157h1v1h-1zM185 178h1v1h-1zM197 154h1v1h-1zM158 172h1v1h-1zM190 189h1v1h-1zM184 171h1v1h-1zM196 173h1v1h-1zM189 168h1v1h-1zM174 161h1v1h-1zM199 168h1v1h-1zM196 173h1v1h-1zM195 159h1v1h-1zM200 171h1v1h-1zM201 180h1v1h-1zM188 181h1v1h-1zM172 157h1v1h-1zM171 163h1v1h-1zM204 151h1v1h-1zM197 179h1v1h-1zM189 176h1v1h-1zM183 178h1v1h-1zM188 161h1v1h-1zM188 159h1v1h-1zM184 171h1v1h-1zM180 172h1v1h-1zM214 157h1v1h-1zM191 171h1v1h-1zM181 178h1v1h-1zM172 175h1v1h-1zM179 161h1v1h-1zM197 148h1v1h-1zM197 166h1v1h-1zM185 172h1v1h-1zM189 167h1v1h-1zM184 166h1v1h-1zM175 165h1v1h-1zM204 174h1v1h-1zM192 169h1v1h-1zM218 166h1v1h-1zM179 162h1v1h-1zM186 164h1v1h-1zM199 170h1v1h-1zM185 161h1v1h-1zM171 160h1v1h-1zM177 169h1v1h-1zM189 182h1v1h-1zM192 171h1v1h-1zM187 184h1v1h-1zM200 167h1v1h-1zM200 165h1v1h-1zM192 156h1v1h-1zM188 164h1v1h-1zM185 185h1v1h-1zM195 172h1v1h-1zM199 175h1v1h-1zM189 177h1v1h-1zM193 169h1v1h-1zM184 169h1v1h-1zM171 174h1v1h-1zM176 179h1v1h-1zM197 173h1v1h-1zM193 174h1v1h-1zM207 168h1v1h-1zM189 162h1v1h-1zM198 166h1v1h-1zM204 158h1v1h-1zM200 178h1v1h-1zM181 151h1v1h-1zM186 168h1v1h-1zM190 193h1v1h-1zM176 169h1v1h-1zM194 158h1v1h-1zM200 168h1v1h-1zM182 184h1v1h-1zM212 164h1v1h-1zM185 177h1v1h-1zM186 171h1v1h-1zM185 167h1v1h-1zM180 202h1v1h-1zM193 170h1v1h-1zM188 165h1v1h-1zM208 162h1v1h-1zM195 173h1v1h-1zM194 173h1v1h-1zM185 178h1v1h-1zM171 174h1v1h-1zM187 156h1v1h-1zM178 177h1v1h-1zM199 165h1v1h-1zM188 167h1v1h-1zM208 152h1v1h-1zM197 163h1v1h-1zM198 161h1v1h-1zM191 169h1v1h-1zM191 155h1v1h-1zM196 169h1v1h-1zM199 169h1v1h-1zM179 160h1v1h-1zM194 163h1v1h-1zM219 156h1v1h-1zM187 179h1v1h-1zM185 146h1v1h-1zM180 168h1v1h-1zM171 157h1v1h-1zM202 163h1v1h-1zM189 178h1v1h-1zM192 163h1v1h-1zM210 168h1v1h-1zM218 157h1v1h-1zM177 191h1v1h-1zM201 177h1v1h-1zM195 180h1v1h-1zM193 156h1v1h-1zM194 158h1v1h-1zM188 181h1v1h-1zM207 165h1v1h-1zM195 166h1v1h-1zM192 173h1v1h-1zM203 155h1v1h-1zM199 176h1v1h-1zM194 169h1v1h-1zM192 174h1v1h-1zM209 160h1v1h-1zM194 174h1v1h-1zM187 163h1v1h-1zM178 181h1v1h-1zM184 182h1v1h-1zM175 181h1v1h-1zM189 175h1v1h-1zM191 176h1v1h-1zM163 148h1v1h-1zM188 178h1v1h-1zM196 166h1v1h-1zM190 171h1v1h-1zM177 169h1v1h-1zM203 154h1v1h-1zM180 166h1v1h-1zM173 179h1v1h-1zM175 186h1v1h-1zM188 164h1v1h-1zM200 159h1v1h-1zM202 182h1v1h-1zM191 161h1v1h-1zM174 193h1v1h-1zM180 172h1v1h-1zM177 163h1v1h-1zM186 180h1v1h-1zM167 190h1v1h-1zM189 156h1v1h-1zM196 184h1v1h-1zM186 168h1v1h-1zM194 184h1v1h-1zM177 168h1v1h-1zM171 157h1v1h-1zM180 176h1v1h-1zM202 177h1v1h-1zM200 188h1v1h-1zM183 188h1v1h-1zM202 174h1v1h-1zM184 168h1v1h-1zM206 162h1v1h-1zM194 166h1v1h-1zM183 163h1v1h-1zM198 166h1v1h-1zM179 147h1v1h-1zM177 174h1v1h-1zM171 173h1v1h-1zM191 195h1v1h-1zM187 178h1v1h-1zM187 165h1v1h-1zM183 176h1v1h-1zM205 155h1v1h-1zM183 165h1v1h-1zM179 153h1v1h-1zM203 182h1v1h-1zM205 173h1v1h-1zM192 158h1v1h-1zM167 173h1v1h-1zM181 181h1v1h-1zM195 174h1v1h-1zM188 174h1v1h-1zM207 158h1v1h-1zM172 166h1v1h-1zM196 170h1v1h-1zM180 180h1v1h-1zM204 159h1v1h-1zM187 159h1v1h-1zM200 179h1v1h-1zM180 162h1v1h-1zM171 183h1v1h-1zM175 175h1v1h-1zM181 180h1v1h-1zM176 189h1v1h-1zM202 174h1v1h-1zM204 175h1v1h-1zM191 160h1v1h-1zM176 165h1v1h-1zM187 177h1v1h-1zM180 186h1v1h-1zM205 181h1v1h-1zM192 192h1v1h-1zM194 172h1v1h-1zM183 173h1v1h-1zM164 184h1v1h-1zM179 172h1v1h-1zM175 172h1v1h-1zM192 159h1v1h-1zM189 180h1v1h-1zM178 161h1v1h-1zM183 176h1v1h-1zM207 153h1v1h-1zM176 183h1v1h-1zM177 162h1v1h-1zM185 179h1v1h-1zM180 156h1v1h-1zM183 167h1v1h-1zM194 180h1v1h-1zM209 159h1v1h-1zM167 174h1v1h-1zM188 165h1v1h-1zM188 147h1v1h-1zM187 173h1v1h-1zM186 175h1v1h-1zM184 160h1v1h-1zM200 174h1v1h-1zM161 179h1v1h-1zM158 184h1v1h-1zM172 183h1v1h-1zM162 195h1v1h-1zM204 171h1v1h-1zM150 180h1v1h-1zM182 168h1v1h-1zM186 184h1v1h-1zM144 182h1v1h-1zM148 188h1v1h-1zM180 173h1v1h-1zM165 180h1v1h-1zM177 190h1v1h-1zM188 179h1v1h-1zM167 187h1v1h-1zM157 188h1v1h-1zM134 184h1v1h-1zM175 169h1v1h-1zM159 191h1v1h-1zM176 183h1v1h-1zM175 189h1v1h-1zM153 168h1v1h-1zM196 166h1v1h-1zM187 163h1v1h-1zM184 174h1v1h-1zM155 192h1v1h-1zM166 187h1v1h-1zM164 183h1v1h-1zM166 184h1v1h-1zM156 190h1v1h-1zM178 179h1v1h-1zM175 185h1v1h-1zM177 183h1v1h-1zM165 166h1v1h-1zM190 177h1v1h-1zM175 192h1v1h-1zM134 183h1v1h-1zM163 182h1v1h-1zM171 177h1v1h-1zM186 177h1v1h-1zM168 191h1v1h-1zM168 180h1v1h-1zM163 175h1v1h-1zM181 157h1v1h-1zM166 178h1v1h-1zM164 168h1v1h-1zM162 169h1v1h-1zM180 187h1v1h-1zM165 188h1v1h-1zM149 170h1v1h-1zM181 188h1v1h-1zM162 187h1v1h-1zM177 175h1v1h-1zM177 187h1v1h-1zM189 167h1v1h-1zM187 171h1v1h-1zM164 172h1v1h-1zM170 174h1v1h-1zM154 191h1v1h-1zM195 169h1v1h-1zM178 172h1v1h-1zM192 172h1v1h-1zM168 184h1v1h-1zM143 183h1v1h-1zM193 186h1v1h-1zM173 176h1v1h-1zM174 172h1v1h-1zM173 178h1v1h-1zM181 181h1v1h-1zM179 174h1v1h-1zM150 187h1v1h-1zM187 194h1v1h-1zM165 178h1v1h-1zM165 183h1v1h-1zM196 190h1v1h-1zM185 175h1v1h-1zM167 176h1v1h-1zM146 176h1v1h-1zM174 185h1v1h-1zM180 185h1v1h-1zM171 181h1v1h-1zM155 184h1v1h-1zM161 193h1v1h-1zM154 191h1v1h-1zM175 171h1v1h-1zM183 180h1v1h-1zM186 181h1v1h-1zM162 189h1v1h-1zM175 180h1v1h-1zM180 176h1v1h-1zM165 179h1v1h-1zM170 168h1v1h-1zM202 178h1v1h-1zM175 177h1v1h-1zM184 184h1v1h-1zM166 174h1v1h-1zM173 178h1v1h-1zM148 177h1v1h-1zM172 173h1v1h-1zM189 185h1v1h-1zM201 175h1v1h-1zM189 183h1v1h-1zM182 172h1v1h-1zM173 182h1v1h-1zM164 169h1v1h-1zM170 178h1v1h-1zM181 177h1v1h-1zM161 188h1v1h-1zM185 182h1v1h-1zM158 182h1v1h-1zM147 191h1v1h-1zM158 185h1v1h-1zM149 189h1v1h-1zM153 190h1v1h-1zM188 179h1v1h-1zM169 180h1v1h-1zM175 184h1v1h-1zM188 177h1v1h-1zM190 183h1v1h-1zM165 191h1v1h-1zM191 186h1v1h-1zM177 178h1v1h-1zM172 172h1v1h-1zM178 181h1v1h-1zM152 183h1v1h-1zM161 192h1v1h-1zM170 179h1v1h-1zM181 179h1v1h-1zM167 188h1v1h-1zM170 178h1v1h-1zM186 179h1v1h-1zM192 193h1v1h-1zM183 192h1v1h-1zM190 185h1v1h-1zM166 184h1v1h-1zM168 175h1v1h-1zM176 185h1v1h-1zM168 183h1v1h-1zM165 184h1v1h-1zM195 175h1v1h-1zM169 182h1v1h-1zM158 182h1v1h-1zM179 183h1v1h-1zM198 190h1v1h-1zM173 184h1v1h-1zM189 167h1v1h-1zM166 175h1v1h-1zM165 170h1v1h-1zM162 177h1v1h-1zM170 186h1v1h-1zM198 182h1v1h-1zM156 179h1v1h-1zM195 181h1v1h-1zM158 177h1v1h-1zM169 171h1v1h-1zM184 169h1v1h-1zM181 174h1v1h-1zM176 192h1v1h-1zM149 174h1v1h-1zM177 191h1v1h-1zM158 194h1v1h-1zM208 176h1v1h-1zM169 182h1v1h-1zM175 177h1v1h-1zM156 183h1v1h-1zM165 188h1v1h-1zM154 184h1v1h-1zM186 188h1v1h-1zM168 191h1v1h-1zM180 183h1v1h-1zM162 185h1v1h-1zM165 182h1v1h-1zM190 182h1v1h-1zM158 174h1v1h-1zM147 188h1v1h-1zM178 183h1v1h-1zM156 177h1v1h-1zM166 199h1v1h-1zM185 173h1v1h-1zM161 176h1v1h-1zM184 182h1v1h-1zM162 168h1v1h-1zM193 173h1v1h-1zM191 168h1v1h-1zM165 175h1v1h-1zM169 181h1v1h-1zM160 185h1v1h-1zM175 190h1v1h-1zM188 186h1v1h-1zM152 193h1v1h-1zM185 185h1v1h-1zM153 180h1v1h-1zM160 192h1v1h-1zM147 181h1v1h-1zM201 173h1v1h-1zM173 193h1v1h-1zM175 187h1v1h-1zM163 184h1v1h-1zM187 186h1v1h-1zM143 192h1v1h-1zM172 171h1v1h-1zM203 177h1v1h-1zM167 173h1v1h-1zM172 182h1v1h-1zM181 175h1v1h-1zM161 194h1v1h-1zM172 186h1v1h-1zM185 174h1v1h-1zM175 181h1v1h-1zM177 171h1v1h-1zM167 182h1v1h-1zM176 185h1v1h-1zM173 184h1v1h-1zM192 164h1v1h-1zM182 178h1v1h-1zM169 186h1v1h-1zM138 188h1v1h-1zM182 189h1v1h-1zM183 170h1v1h-1zM159 187h1v1h-1zM144 180h1v1h-1zM156 185h1v1h-1zM185 183h1v1h-1zM157 189h1v1h-1zM166 178h1v1h-1zM175 183h1v1h-1zM189 170h1v1h-1zM172 171h1v1h-1zM171 186h1v1h-1zM164 182h1v1h-1zM195 166h1v1h-1zM187 173h1v1h-1zM171 182h1v1h-1zM152 196h1v1h-1zM161 191h1v1h-1zM180 187h1v1h-1zM162 169h1v1h-1zM184 179h1v1h-1zM177 185h1v1h-1zM176 184h1v1h-1zM181 184h1v1h-1zM179 179h1v1h-1zM160 197h1v1h-1zM167 194h1v1h-1zM205 177h1v1h-1zM155 176h1v1h-1zM165 198h1v1h-1zM187 176h1v1h-1zM170 191h1v1h-1zM161 198h1v1h-1zM153 176h1v1h-1zM180 183h1v1h-1zM186 177h1v1h-1zM192 183h1v1h-1zM173 184h1v1h-1zM187 195h1v1h-1zM158 188h1v1h-1zM174 181h1v1h-1zM163 191h1v1h-1zM174 179h1v1h-1zM183 177h1v1h-1zM187 197h1v1h-1zM158 177h1v1h-1zM190 176h1v1h-1zM165 183h1v1h-1zM158 175h1v1h-1zM170 165h1v1h-1zM152 192h1v1h-1zM172 175h1v1h-1zM176 177h1v1h-1zM169 179h1v1h-1zM180 173h1v1h-1zM168 174h1v1h-1zM172 183h1v1h-1zM152 203h1v1h-1zM173 187h1v1h-1zM160 189h1v1h-1zM166 170h1v1h-1zM171 181h1v1h-1zM175 172h1v1h-1zM149 190h1v1h-1zM150 182h1v1h-1zM168 182h1v1h-1zM179 180h1v1h-1zM177 176h1v1h-1zM184 168h1v1h-1zM190 184h1v1h-1zM179 170h1v1h-1zM172 172h1v1h-1zM158 181h1v1h-1zM159 178h1v1h-1zM165 184h1v1h-1zM176 189h1v1h-1zM175 183h1v1h-1zM172 183h1v1h-1zM170 182h1v1h-1zM181 187h1v1h-1zM175 167h1v1h-1zM176 184h1v1h-1zM176 174h1v1h-1zM164 173h1v1h-1zM158 183h1v1h-1zM179 178h1v1h-1zM178 185h1v1h-1zM169 191h1v1h-1zM166 164h1v1h-1zM204 177h1v1h-1zM161 198h1v1h-1zM169 189h1v1h-1zM176 192h1v1h-1zM156 184h1v1h-1zM174 170h1v1h-1zM197 170h1v1h-1zM185 186h1v1h-1zM181 188h1v1h-1zM180 175h1v1h-1zM174 179h1v1h-1zM185 182h1v1h-1zM170 168h1v1h-1zM166 179h1v1h-1zM173 194h1v1h-1zM185 197h1v1h-1zM177 180h1v1h-1zM181 195h1v1h-1zM144 181h1v1h-1zM189 173h1v1h-1zM205 160h1v1h-1zM191 187h1v1h-1zM168 179h1v1h-1zM160 201h1v1h-1zM176 184h1v1h-1zM158 185h1v1h-1zM182 166h1v1h-1zM165 194h1v1h-1zM185 177h1v1h-1zM191 178h1v1h-1zM144 168h1v1h-1zM176 188h1v1h-1zM162 190h1v1h-1zM152 179h1v1h-1zM163 183h1v1h-1zM169 185h1v1h-1zM186 187h1v1h-1zM151 185h1v1h-1zM187 193h1v1h-1zM200 176h1v1h-1zM180 176h1v1h-1zM180 177h1v1h-1zM172 162h1v1h-1zM156 177h1v1h-1zM179 189h1v1h-1zM177 183h1v1h-1zM182 174h1v1h-1zM208 180h1v1h-1zM182 165h1v1h-1zM178 179h1v1h-1zM194 183h1v1h-1zM153 189h1v1h-1zM156 177h1v1h-1zM167 189h1v1h-1zM163 197h1v1h-1zM182 177h1v1h-1zM168 188h1v1h-1zM196 167h1v1h-1zM193 164h1v1h-1zM183 185h1v1h-1zM167 183h1v1h-1zM181 182h1v1h-1zM183 176h1v1h-1zM157 181h1v1h-1zM177 187h1v1h-1zM182 194h1v1h-1zM175 180h1v1h-1zM194 166h1v1h-1zM189 190h1v1h-1zM160 188h1v1h-1zM174 187h1v1h-1zM160 184h1v1h-1zM180 199h1v1h-1zM160 184h1v1h-1zM185 184h1v1h-1zM177 166h1v1h-1zM186 176h1v1h-1zM170 176h1v1h-1zM152 184h1v1h-1zM197 182h1v1h-1zM170 176h1v1h-1zM191 193h1v1h-1zM178 173h1v1h-1zM181 177h1v1h-1zM198 181h1v1h-1zM177 171h1v1h-1zM192 184h1v1h-1zM151 189h1v1h-1zM184 178h1v1h-1zM169 197h1v1h-1zM170 182h1v1h-1zM172 184h1v1h-1zM177 174h1v1h-1zM195 166h1v1h-1zM146 180h1v1h-1zM173 179h1v1h-1zM162 179h1v1h-1zM188 186h1v1h-1zM166 164h1v1h-1zM178 172h1v1h-1zM166 168h1v1h-1zM181 191h1v1h-1zM186 176h1v1h-1zM166 178h1v1h-1zM173 173h1v1h-1zM152 191h1v1h-1zM176 178h1v1h-1zM184 182h1v1h-1zM164 167h1v1h-1zM188 189h1v1h-1zM143 188h1v1h-1zM146 189h1v1h-1zM153 194h1v1h-1zM165 181h1v1h-1zM172 180h1v1h-1zM171 187h1v1h-1zM171 185h1v1h-1zM182 179h1v1h-1zM165 183h1v1h-1zM154 180h1v1h-1zM155 189h1v1h-1zM202 186h1v1h-1zM139 185h1v1h-1zM170 197h1v1h-1zM192 167h1v1h-1zM179 179h1v1h-1zM160 196h1v1h-1zM172 178h1v1h-1zM184 168h1v1h-1zM189 191h1v1h-1zM159 187h1v1h-1zM183 171h1v1h-1zM176 187h1v1h-1zM187 172h1v1h-1zM191 169h1v1h-1zM167 181h1v1h-1zM152 180h1v1h-1zM178 172h1v1h-1zM197 176h1v1h-1zM182 173h1v1h-1zM175 182h1v1h-1zM206 178h1v1h-1zM157 189h1v1h-1zM185 177h1v1h-1zM148 184h1v1h-1zM148 187h1v1h-1zM165 184h1v1h-1zM194 177h1v1h-1zM183 179h1v1h-1zM159 190h1v1h-1zM184 176h1v1h-1zM151 184h1v1h-1zM185 186h1v1h-1zM163 183h1v1h-1zM182 170h1v1h-1zM179 181h1v1h-1zM165 179h1v1h-1zM175 179h1v1h-1zM152 188h1v1h-1zM168 183h1v1h-1zM187 177h1v1h-1zM181 181h1v1h-1zM171 181h1v1h-1zM153 184h1v1h-1zM186 180h1v1h-1zM143 182h1v1h-1zM156 180h1v1h-1zM175 180h1v1h-1zM150 179h1v1h-1zM194 172h1v1h-1zM187 184h1v1h-1zM160 181h1v1h-1zM160 182h1v1h-1zM148 183h1v1h-1zM147 184h1v1h-1zM176 180h1v1h-1zM179 180h1v1h-1zM175 176h1v1h-1zM174 184h1v1h-1zM160 179h1v1h-1zM175 185h1v1h-1zM146 175h1v1h-1zM169 176h1v1h-1zM193 182h1v1h-1zM190 177h1v1h-1zM162 178h1v1h-1zM164 183h1v1h-1zM191 173h1v1h-1zM198 177h1v1h-1zM145 173h1v1h-1zM162 179h1v1h-1zM173 177h1v1h-1zM189 181h1v1h-1zM156 186h1v1h-1zM180 175h1v1h-1zM164 189h1v1h-1zM207 173h1v1h-1zM176 170h1v1h-1zM167 170h1v1h-1zM164 188h1v1h-1zM186 178h1v1h-1zM180 176h1v1h-1zM152 179h1v1h-1zM173 175h1v1h-1zM148 189h1v1h-1zM157 182h1v1h-1zM148 191h1v1h-1zM148 182h1v1h-1zM158 171h1v1h-1zM154 186h1v1h-1zM178 178h1v1h-1zM182 178h1v1h-1zM165 188h1v1h-1zM151 182h1v1h-1zM182 184h1v1h-1zM137 185h1v1h-1zM138 181h1v1h-1zM181 181h1v1h-1zM180 177h1v1h-1zM185 184h1v1h-1zM166 185h1v1h-1zM149 183h1v1h-1zM161 184h1v1h-1zM178 182h1v1h-1zM157 181h1v1h-1zM158 186h1v1h-1zM147 182h1v1h-1zM151 186h1v1h-1zM183 175h1v1h-1zM177 180h1v1h-1zM151 185h1v1h-1zM152 179h1v1h-1zM160 180h1v1h-1zM178 177h1v1h-1zM151 186h1v1h-1zM167 178h1v1h-1zM135 187h1v1h-1zM149 190h1v1h-1zM176 181h1v1h-1zM184 171h1v1h-1zM151 184h1v1h-1zM157 187h1v1h-1zM182 178h1v1h-1zM163 186h1v1h-1zM161 185h1v1h-1zM178 182h1v1h-1zM172 179h1v1h-1zM187 176h1v1h-1zM182 178h1v1h-1zM160 182h1v1h-1zM167 183h1v1h-1zM168 183h1v1h-1zM148 182h1v1h-1zM154 183h1v1h-1zM185 180h1v1h-1zM144 176h1v1h-1zM185 175h1v1h-1zM174 176h1v1h-1zM167 180h1v1h-1zM178 178h1v1h-1zM177 179h1v1h-1zM189 174h1v1h-1zM163 185h1v1h-1zM166 182h1v1h-1zM165 174h1v1h-1zM200 177h1v1h-1zM185 174h1v1h-1zM154 190h1v1h-1zM164 179h1v1h-1zM158 180h1v1h-1zM170 181h1v1h-1zM173 179h1v1h-1zM206 176h1v1h-1zM140 191h1v1h-1zM186 180h1v1h-1zM176 184h1v1h-1zM158 187h1v1h-1zM167 176h1v1h-1zM161 189h1v1h-1zM170 184h1v1h-1zM186 183h1v1h-1zM145 180h1v1h-1zM190 182h1v1h-1zM163 183h1v1h-1zM193 175h1v1h-1zM176 190h1v1h-1zM189 181h1v1h-1zM178 178h1v1h-1zM187 179h1v1h-1zM170 185h1v1h-1zM156 188h1v1h-1zM180 182h1v1h-1zM181 185h1v1h-1zM203 183h1v1h-1zM137 179h1v1h-1zM166 179h1v1h-1zM186 174h1v1h-1zM149 184h1v1h-1zM166 188h1v1h-1zM203 179h1v1h-1zM192 173h1v1h-1zM155 181h1v1h-1zM192 183h1v1h-1zM188 176h1v1h-1zM182 179h1v1h-1zM176 181h1v1h-1zM173 172h1v1h-1zM156 186h1v1h-1zM161 183h1v1h-1zM181 182h1v1h-1zM172 176h1v1h-1zM199 173h1v1h-1zM164 179h1v1h-1zM131 187h1v1h-1zM164 182h1v1h-1zM174 181h1v1h-1zM176 188h1v1h-1zM171 186h1v1h-1zM156 179h1v1h-1zM193 175h1v1h-1zM159 190h1v1h-1zM181 178h1v1h-1zM165 188h1v1h-1zM150 190h1v1h-1zM192 175h1v1h-1zM129 184h1v1h-1zM156 183h1v1h-1zM177 176h1v1h-1zM164 177h1v1h-1zM182 177h1v1h-1zM168 185h1v1h-1zM162 179h1v1h-1zM204 175h1v1h-1zM166 179h1v1h-1zM167 175h1v1h-1zM152 190h1v1h-1zM158 171h1v1h-1zM180 176h1v1h-1zM179 182h1v1h-1zM170 174h1v1h-1zM158 185h1v1h-1zM181 185h1v1h-1zM142 180h1v1h-1zM164 182h1v1h-1zM166 176h1v1h-1zM156 185h1v1h-1zM172 181h1v1h-1zM159 183h1v1h-1zM157 188h1v1h-1zM199 179h1v1h-1zM182 185h1v1h-1zM189 181h1v1h-1zM171 175h1v1h-1zM185 180h1v1h-1zM182 181h1v1h-1zM189 172h1v1h-1zM208 182h1v1h-1zM166 181h1v1h-1zM174 182h1v1h-1zM169 177h1v1h-1zM114 188h1v1h-1zM147 185h1v1h-1zM170 179h1v1h-1zM180 180h1v1h-1zM161 172h1v1h-1zM188 185h1v1h-1zM190 173h1v1h-1zM163 171h1v1h-1zM193 173h1v1h-1zM198 173h1v1h-1zM177 182h1v1h-1zM154 178h1v1h-1zM193 179h1v1h-1zM167 177h1v1h-1zM164 191h1v1h-1zM172 183h1v1h-1zM161 191h1v1h-1zM187 174h1v1h-1zM182 182h1v1h-1zM189 174h1v1h-1zM179 182h1v1h-1zM157 185h1v1h-1zM167 174h1v1h-1zM184 174h1v1h-1zM163 176h1v1h-1zM217 168h1v1h-1zM166 178h1v1h-1zM161 177h1v1h-1zM188 172h1v1h-1zM182 180h1v1h-1zM170 183h1v1h-1zM166 175h1v1h-1zM177 177h1v1h-1zM183 179h1v1h-1zM182 178h1v1h-1zM165 178h1v1h-1zM177 183h1v1h-1zM184 183h1v1h-1zM182 182h1v1h-1zM121 186h1v1h-1zM156 191h1v1h-1zM158 190h1v1h-1zM166 179h1v1h-1zM186 176h1v1h-1zM191 179h1v1h-1zM182 176h1v1h-1zM188 173h1v1h-1zM186 177h1v1h-1zM183 171h1v1h-1zM185 177h1v1h-1zM179 181h1v1h-1zM184 178h1v1h-1zM177 180h1v1h-1zM196 177h1v1h-1zM193 178h1v1h-1zM192 176h1v1h-1zM187 174h1v1h-1zM191 175h1v1h-1zM192 176h1v1h-1zM191 180h1v1h-1zM190 181h1v1h-1zM182 178h1v1h-1zM188 174h1v1h-1zM184 175h1v1h-1zM181 177h1v1h-1zM181 181h1v1h-1zM188 177h1v1h-1zM191 176h1v1h-1zM180 175h1v1h-1zM194 178h1v1h-1zM193 176h1v1h-1zM184 177h1v1h-1zM184 177h1v1h-1zM124 193h1v1h-1zM94 178h1v1h-1zM124 190h1v1h-1zM117 198h1v1h-1zM98 168h1v1h-1zM111 197h1v1h-1zM95 192h1v1h-1zM84 198h1v1h-1zM93 188h1v1h-1zM82 191h1v1h-1zM105 186h1v1h-1zM97 187h1v1h-1zM106 173h1v1h-1zM110 198h1v1h-1zM102 196h1v1h-1zM100 181h1v1h-1zM83 207h1v1h-1zM99 184h1v1h-1zM119 208h1v1h-1zM100 182h1v1h-1zM96 205h1v1h-1zM107 198h1v1h-1zM98 199h1v1h-1zM89 191h1v1h-1zM85 185h1v1h-1zM148 211h1v1h-1zM91 186h1v1h-1zM82 181h1v1h-1zM91 173h1v1h-1zM91 183h1v1h-1zM96 187h1v1h-1zM80 189h1v1h-1zM106 210h1v1h-1zM89 170h1v1h-1zM75 189h1v1h-1zM84 162h1v1h-1zM91 179h1v1h-1zM111 190h1v1h-1zM105 167h1v1h-1zM92 169h1v1h-1zM97 195h1v1h-1zM100 195h1v1h-1zM130 200h1v1h-1zM87 181h1v1h-1zM104 222h1v1h-1zM109 194h1v1h-1zM82 179h1v1h-1zM100 215h1v1h-1zM100 201h1v1h-1zM89 187h1v1h-1zM106 210h1v1h-1zM113 199h1v1h-1zM115 205h1v1h-1zM94 195h1v1h-1zM100 181h1v1h-1zM135 214h1v1h-1zM79 191h1v1h-1zM101 181h1v1h-1zM111 187h1v1h-1zM99 205h1v1h-1zM107 191h1v1h-1zM100 194h1v1h-1zM109 204h1v1h-1zM118 200h1v1h-1zM93 173h1v1h-1zM100 202h1v1h-1zM96 204h1v1h-1zM91 202h1v1h-1zM97 213h1v1h-1zM79 193h1v1h-1zM109 206h1v1h-1zM124 219h1v1h-1zM124 196h1v1h-1zM117 220h1v1h-1zM82 211h1v1h-1zM121 209h1v1h-1zM86 213h1v1h-1zM96 203h1v1h-1zM127 189h1v1h-1zM80 203h1v1h-1zM110 200h1v1h-1zM102 199h1v1h-1zM95 194h1v1h-1zM83 206h1v1h-1zM104 201h1v1h-1zM90 183h1v1h-1zM114 203h1v1h-1zM117 207h1v1h-1zM75 179h1v1h-1zM89 186h1v1h-1zM92 187h1v1h-1zM78 181h1v1h-1zM79 193h1v1h-1zM98 206h1v1h-1zM94 216h1v1h-1zM88 204h1v1h-1zM105 209h1v1h-1zM78 205h1v1h-1zM82 185h1v1h-1zM122 208h1v1h-1zM118 202h1v1h-1zM75 182h1v1h-1zM103 188h1v1h-1zM78 185h1v1h-1zM93 177h1v1h-1zM90 198h1v1h-1zM106 195h1v1h-1zM77 197h1v1h-1zM113 190h1v1h-1zM95 191h1v1h-1zM105 167h1v1h-1zM108 172h1v1h-1zM93 211h1v1h-1zM92 169h1v1h-1zM104 201h1v1h-1zM116 216h1v1h-1zM99 188h1v1h-1zM106 215h1v1h-1zM96 216h1v1h-1zM91 203h1v1h-1zM82 219h1v1h-1zM101 202h1v1h-1zM92 183h1v1h-1zM93 199h1v1h-1zM112 191h1v1h-1zM105 179h1v1h-1zM111 181h1v1h-1zM106 189h1v1h-1zM88 190h1v1h-1zM84 182h1v1h-1zM83 191h1v1h-1zM116 195h1v1h-1zM110 191h1v1h-1zM86 175h1v1h-1zM79 171h1v1h-1zM97 184h1v1h-1zM90 195h1v1h-1zM124 225h1v1h-1zM93 198h1v1h-1zM97 192h1v1h-1zM99 177h1v1h-1zM109 196h1v1h-1zM130 175h1v1h-1zM92 188h1v1h-1zM88 211h1v1h-1zM101 208h1v1h-1zM111 192h1v1h-1zM93 175h1v1h-1zM116 192h1v1h-1zM97 188h1v1h-1zM121 214h1v1h-1zM102 219h1v1h-1zM80 180h1v1h-1zM87 186h1v1h-1zM101 179h1v1h-1zM111 198h1v1h-1zM128 205h1v1h-1zM96 198h1v1h-1zM93 177h1v1h-1zM79 188h1v1h-1zM113 176h1v1h-1zM103 206h1v1h-1zM87 178h1v1h-1zM108 193h1v1h-1zM106 190h1v1h-1zM109 183h1v1h-1zM99 172h1v1h-1zM91 213h1v1h-1zM90 195h1v1h-1zM125 203h1v1h-1zM122 225h1v1h-1zM126 199h1v1h-1zM79 196h1v1h-1zM87 191h1v1h-1zM111 212h1v1h-1zM78 195h1v1h-1zM85 194h1v1h-1zM127 204h1v1h-1zM114 212h1v1h-1zM104 169h1v1h-1zM101 193h1v1h-1zM90 187h1v1h-1zM91 188h1v1h-1zM107 171h1v1h-1zM86 200h1v1h-1zM117 188h1v1h-1zM89 189h1v1h-1zM83 184h1v1h-1zM118 178h1v1h-1zM95 187h1v1h-1zM106 173h1v1h-1zM90 180h1v1h-1zM106 195h1v1h-1zM75 189h1v1h-1zM114 196h1v1h-1zM102 179h1v1h-1zM104 187h1v1h-1zM99 186h1v1h-1zM78 186h1v1h-1zM111 189h1v1h-1zM90 212h1v1h-1zM84 191h1v1h-1zM91 188h1v1h-1zM111 194h1v1h-1zM87 188h1v1h-1zM106 213h1v1h-1zM108 202h1v1h-1zM78 150h1v1h-1zM91 196h1v1h-1zM88 204h1v1h-1zM102 219h1v1h-1zM109 175h1v1h-1zM109 204h1v1h-1zM94 185h1v1h-1zM75 166h1v1h-1zM97 186h1v1h-1zM88 204h1v1h-1zM106 211h1v1h-1zM96 202h1v1h-1zM109 183h1v1h-1zM90 223h1v1h-1zM120 185h1v1h-1zM81 172h1v1h-1zM105 212h1v1h-1zM109 207h1v1h-1zM78 190h1v1h-1zM98 193h1v1h-1zM82 192h1v1h-1zM90 168h1v1h-1zM100 206h1v1h-1zM95 204h1v1h-1zM91 187h1v1h-1zM131 202h1v1h-1zM97 197h1v1h-1zM81 209h1v1h-1zM112 202h1v1h-1zM110 197h1v1h-1zM117 192h1v1h-1zM126 182h1v1h-1zM82 182h1v1h-1zM114 199h1v1h-1zM115 195h1v1h-1zM97 194h1v1h-1zM101 204h1v1h-1zM88 195h1v1h-1zM126 209h1v1h-1zM88 191h1v1h-1zM102 201h1v1h-1zM106 174h1v1h-1zM123 215h1v1h-1zM98 204h1v1h-1zM111 197h1v1h-1zM76 202h1v1h-1zM96 194h1v1h-1zM127 189h1v1h-1zM118 212h1v1h-1zM106 198h1v1h-1zM95 194h1v1h-1zM103 208h1v1h-1zM92 203h1v1h-1zM96 196h1v1h-1zM146 186h1v1h-1zM94 188h1v1h-1zM81 191h1v1h-1zM101 217h1v1h-1zM92 197h1v1h-1zM92 191h1v1h-1zM96 208h1v1h-1zM109 195h1v1h-1zM101 194h1v1h-1zM78 191h1v1h-1zM95 175h1v1h-1zM105 207h1v1h-1zM90 197h1v1h-1zM115 195h1v1h-1zM109 183h1v1h-1zM81 192h1v1h-1zM102 212h1v1h-1zM129 193h1v1h-1zM122 187h1v1h-1zM96 199h1v1h-1zM111 177h1v1h-1zM86 164h1v1h-1zM106 187h1v1h-1zM101 191h1v1h-1zM105 189h1v1h-1zM97 198h1v1h-1zM102 192h1v1h-1zM89 184h1v1h-1zM105 190h1v1h-1zM110 205h1v1h-1zM96 205h1v1h-1zM110 208h1v1h-1zM84 150h1v1h-1zM120 187h1v1h-1zM125 197h1v1h-1zM101 197h1v1h-1zM95 173h1v1h-1zM77 206h1v1h-1zM103 199h1v1h-1zM109 189h1v1h-1zM106 192h1v1h-1zM105 186h1v1h-1zM104 202h1v1h-1zM79 184h1v1h-1zM106 178h1v1h-1zM121 198h1v1h-1zM99 181h1v1h-1zM78 205h1v1h-1zM119 185h1v1h-1zM115 220h1v1h-1zM87 202h1v1h-1zM132 191h1v1h-1zM81 191h1v1h-1zM102 210h1v1h-1zM116 196h1v1h-1zM113 199h1v1h-1zM96 218h1v1h-1zM97 175h1v1h-1zM80 196h1v1h-1zM102 195h1v1h-1zM79 188h1v1h-1zM82 185h1v1h-1zM90 188h1v1h-1zM77 202h1v1h-1zM122 207h1v1h-1zM76 176h1v1h-1zM85 210h1v1h-1zM92 177h1v1h-1zM97 202h1v1h-1zM110 199h1v1h-1zM110 212h1v1h-1zM92 197h1v1h-1zM91 205h1v1h-1zM98 194h1v1h-1zM110 209h1v1h-1zM108 201h1v1h-1zM89 219h1v1h-1zM131 217h1v1h-1zM112 203h1v1h-1zM101 197h1v1h-1zM102 188h1v1h-1zM89 197h1v1h-1zM81 172h1v1h-1zM92 176h1v1h-1zM93 202h1v1h-1zM87 172h1v1h-1zM92 189h1v1h-1zM106 199h1v1h-1zM89 193h1v1h-1zM97 199h1v1h-1zM94 189h1v1h-1zM95 192h1v1h-1zM77 202h1v1h-1zM104 211h1v1h-1zM84 195h1v1h-1zM105 193h1v1h-1zM90 171h1v1h-1zM107 204h1v1h-1zM92 203h1v1h-1zM96 204h1v1h-1zM92 209h1v1h-1zM108 198h1v1h-1zM90 205h1v1h-1zM91 196h1v1h-1zM111 176h1v1h-1zM116 193h1v1h-1zM109 192h1v1h-1zM114 205h1v1h-1zM104 185h1v1h-1zM109 192h1v1h-1zM111 185h1v1h-1zM103 195h1v1h-1zM98 195h1v1h-1zM99 207h1v1h-1zM135 213h1v1h-1zM97 196h1v1h-1zM93 196h1v1h-1zM91 194h1v1h-1zM96 195h1v1h-1zM101 214h1v1h-1zM79 159h1v1h-1zM102 199h1v1h-1zM101 181h1v1h-1zM99 199h1v1h-1zM115 209h1v1h-1zM124 195h1v1h-1zM103 172h1v1h-1zM107 200h1v1h-1zM100 195h1v1h-1zM117 210h1v1h-1zM103 191h1v1h-1zM127 199h1v1h-1zM112 203h1v1h-1zM103 203h1v1h-1zM106 206h1v1h-1zM101 202h1v1h-1zM114 214h1v1h-1zM124 200h1v1h-1zM109 202h1v1h-1zM119 207h1v1h-1zM102 198h1v1h-1zM113 200h1v1h-1zM131 201h1v1h-1zM98 195h1v1h-1zM122 196h1v1h-1zM121 199h1v1h-1zM94 190h1v1h-1zM98 201h1v1h-1zM102 190h1v1h-1zM119 214h1v1h-1zM107 210h1v1h-1zM109 207h1v1h-1zM117 200h1v1h-1zM112 198h1v1h-1zM113 208h1v1h-1zM108 202h1v1h-1zM121 205h1v1h-1zM104 196h1v1h-1zM126 209h1v1h-1zM108 196h1v1h-1zM104 200h1v1h-1zM117 191h1v1h-1zM115 198h1v1h-1zM93 201h1v1h-1zM113 198h1v1h-1zM99 197h1v1h-1zM103 204h1v1h-1zM118 201h1v1h-1zM103 207h1v1h-1zM114 187h1v1h-1zM107 204h1v1h-1zM128 206h1v1h-1zM110 192h1v1h-1zM100 192h1v1h-1zM101 205h1v1h-1zM102 193h1v1h-1zM112 197h1v1h-1zM111 204h1v1h-1zM119 200h1v1h-1zM112 204h1v1h-1zM112 196h1v1h-1zM114 203h1v1h-1zM109 207h1v1h-1zM113 203h1v1h-1zM118 189h1v1h-1zM118 206h1v1h-1zM106 200h1v1h-1zM95 193h1v1h-1zM103 208h1v1h-1zM113 191h1v1h-1zM88 209h1v1h-1zM106 196h1v1h-1zM115 211h1v1h-1zM105 200h1v1h-1zM101 192h1v1h-1zM126 203h1v1h-1zM123 204h1v1h-1zM108 204h1v1h-1zM122 209h1v1h-1zM122 197h1v1h-1zM100 202h1v1h-1zM135 208h1v1h-1zM102 198h1v1h-1zM108 195h1v1h-1zM101 194h1v1h-1zM111 205h1v1h-1zM99 204h1v1h-1zM110 196h1v1h-1zM120 194h1v1h-1zM112 208h1v1h-1zM108 191h1v1h-1zM124 204h1v1h-1zM102 195h1v1h-1zM119 192h1v1h-1zM108 201h1v1h-1zM112 200h1v1h-1zM111 209h1v1h-1zM112 214h1v1h-1zM110 200h1v1h-1zM103 206h1v1h-1zM105 206h1v1h-1zM114 198h1v1h-1zM109 196h1v1h-1zM100 209h1v1h-1zM104 198h1v1h-1zM104 200h1v1h-1zM110 199h1v1h-1zM112 200h1v1h-1zM111 197h1v1h-1zM105 204h1v1h-1zM111 208h1v1h-1zM98 197h1v1h-1zM84 189h1v1h-1zM110 201h1v1h-1zM95 190h1v1h-1zM102 196h1v1h-1zM99 206h1v1h-1zM116 215h1v1h-1zM99 201h1v1h-1zM113 195h1v1h-1zM106 205h1v1h-1zM99 186h1v1h-1zM96 195h1v1h-1zM114 210h1v1h-1zM114 206h1v1h-1zM117 194h1v1h-1zM127 193h1v1h-1zM113 206h1v1h-1zM113 201h1v1h-1zM109 197h1v1h-1zM111 203h1v1h-1zM107 197h1v1h-1zM102 188h1v1h-1zM128 208h1v1h-1zM93 195h1v1h-1zM112 195h1v1h-1zM114 193h1v1h-1zM111 202h1v1h-1zM101 195h1v1h-1zM108 204h1v1h-1zM106 199h1v1h-1zM100 206h1v1h-1zM110 198h1v1h-1zM106 196h1v1h-1zM105 188h1v1h-1zM116 195h1v1h-1zM101 204h1v1h-1zM114 219h1v1h-1zM105 193h1v1h-1zM114 195h1v1h-1zM111 203h1v1h-1zM112 204h1v1h-1zM101 196h1v1h-1zM103 200h1v1h-1zM102 190h1v1h-1zM112 199h1v1h-1zM117 207h1v1h-1zM120 212h1v1h-1zM105 199h1v1h-1zM111 199h1v1h-1zM95 201h1v1h-1zM90 204h1v1h-1zM102 202h1v1h-1zM104 195h1v1h-1zM96 201h1v1h-1zM94 204h1v1h-1zM115 197h1v1h-1zM103 192h1v1h-1zM95 202h1v1h-1zM131 206h1v1h-1zM111 207h1v1h-1zM107 201h1v1h-1zM116 198h1v1h-1zM103 197h1v1h-1zM124 197h1v1h-1zM96 193h1v1h-1zM98 196h1v1h-1zM112 229h1v1h-1zM131 231h1v1h-1zM103 232h1v1h-1zM117 219h1v1h-1zM110 219h1v1h-1zM135 245h1v1h-1zM121 245h1v1h-1zM113 225h1v1h-1zM127 215h1v1h-1zM112 248h1v1h-1zM136 241h1v1h-1zM126 220h1v1h-1zM138 228h1v1h-1zM131 238h1v1h-1zM127 221h1v1h-1zM119 256h1v1h-1zM104 234h1v1h-1zM126 240h1v1h-1zM118 219h1v1h-1zM126 222h1v1h-1zM117 223h1v1h-1zM109 236h1v1h-1zM105 228h1v1h-1zM126 230h1v1h-1zM133 240h1v1h-1zM114 236h1v1h-1zM123 254h1v1h-1zM134 233h1v1h-1zM108 218h1v1h-1zM113 233h1v1h-1zM104 252h1v1h-1zM132 228h1v1h-1zM121 235h1v1h-1zM112 228h1v1h-1zM98 237h1v1h-1zM115 237h1v1h-1zM129 224h1v1h-1zM114 230h1v1h-1zM112 246h1v1h-1zM125 249h1v1h-1zM103 244h1v1h-1zM118 245h1v1h-1zM125 230h1v1h-1zM108 227h1v1h-1zM108 245h1v1h-1zM120 218h1v1h-1zM116 233h1v1h-1zM115 208h1v1h-1zM120 229h1v1h-1zM120 224h1v1h-1zM107 216h1v1h-1zM110 240h1v1h-1zM123 224h1v1h-1zM131 230h1v1h-1zM134 232h1v1h-1zM107 222h1v1h-1zM131 254h1v1h-1zM127 228h1v1h-1zM117 236h1v1h-1zM123 216h1v1h-1zM127 228h1v1h-1zM139 232h1v1h-1zM105 228h1v1h-1zM125 226h1v1h-1zM116 235h1v1h-1zM115 255h1v1h-1zM131 233h1v1h-1zM127 233h1v1h-1zM106 227h1v1h-1zM120 256h1v1h-1zM101 239h1v1h-1zM128 244h1v1h-1zM117 224h1v1h-1zM120 232h1v1h-1zM122 237h1v1h-1zM139 238h1v1h-1zM118 222h1v1h-1zM113 222h1v1h-1zM138 243h1v1h-1zM112 237h1v1h-1zM111 204h1v1h-1zM101 233h1v1h-1zM130 252h1v1h-1zM121 225h1v1h-1zM123 237h1v1h-1zM120 214h1v1h-1zM116 245h1v1h-1zM108 217h1v1h-1zM108 215h1v1h-1zM123 230h1v1h-1zM137 227h1v1h-1zM109 215h1v1h-1zM112 239h1v1h-1zM106 235h1v1h-1zM103 214h1v1h-1zM127 213h1v1h-1zM135 231h1v1h-1zM116 239h1v1h-1zM126 239h1v1h-1zM92 245h1v1h-1zM113 213h1v1h-1zM98 220h1v1h-1zM120 232h1v1h-1zM118 245h1v1h-1zM109 239h1v1h-1zM129 229h1v1h-1zM122 220h1v1h-1zM111 245h1v1h-1zM112 246h1v1h-1zM115 231h1v1h-1zM109 216h1v1h-1zM123 227h1v1h-1zM111 224h1v1h-1zM127 228h1v1h-1zM123 222h1v1h-1zM115 226h1v1h-1zM97 230h1v1h-1zM112 227h1v1h-1zM132 244h1v1h-1zM115 232h1v1h-1zM125 234h1v1h-1zM112 253h1v1h-1zM96 235h1v1h-1zM123 236h1v1h-1zM121 234h1v1h-1zM111 234h1v1h-1zM113 241h1v1h-1zM121 223h1v1h-1zM111 248h1v1h-1zM122 255h1v1h-1zM115 249h1v1h-1zM90 224h1v1h-1zM116 212h1v1h-1zM111 227h1v1h-1zM108 234h1v1h-1zM122 245h1v1h-1zM112 230h1v1h-1zM124 230h1v1h-1zM131 256h1v1h-1zM119 225h1v1h-1zM99 246h1v1h-1zM109 245h1v1h-1zM129 217h1v1h-1zM115 237h1v1h-1zM108 225h1v1h-1zM117 220h1v1h-1zM124 209h1v1h-1zM121 213h1v1h-1zM125 240h1v1h-1zM108 227h1v1h-1zM114 237h1v1h-1zM115 219h1v1h-1zM117 229h1v1h-1zM93 227h1v1h-1zM115 212h1v1h-1zM102 209h1v1h-1zM134 241h1v1h-1zM136 238h1v1h-1zM138 223h1v1h-1zM127 233h1v1h-1zM112 242h1v1h-1zM115 221h1v1h-1zM125 243h1v1h-1zM111 234h1v1h-1zM123 254h1v1h-1zM139 201h1v1h-1zM117 253h1v1h-1zM145 237h1v1h-1zM150 212h1v1h-1zM103 242h1v1h-1zM117 248h1v1h-1zM106 249h1v1h-1zM116 250h1v1h-1zM111 232h1v1h-1zM117 223h1v1h-1zM129 229h1v1h-1zM129 234h1v1h-1zM121 239h1v1h-1zM118 227h1v1h-1zM119 234h1v1h-1zM119 246h1v1h-1zM125 239h1v1h-1zM102 216h1v1h-1zM127 227h1v1h-1zM139 218h1v1h-1zM120 218h1v1h-1zM101 239h1v1h-1zM134 222h1v1h-1zM114 219h1v1h-1zM82 226h1v1h-1zM115 244h1v1h-1zM125 230h1v1h-1zM122 229h1v1h-1zM133 248h1v1h-1zM125 241h1v1h-1zM119 240h1v1h-1zM94 244h1v1h-1zM105 218h1v1h-1zM120 237h1v1h-1zM126 226h1v1h-1zM106 246h1v1h-1zM111 244h1v1h-1zM123 220h1v1h-1zM95 249h1v1h-1zM95 215h1v1h-1zM115 249h1v1h-1zM121 237h1v1h-1zM112 221h1v1h-1zM91 215h1v1h-1zM118 229h1v1h-1zM102 231h1v1h-1zM126 225h1v1h-1zM117 241h1v1h-1zM121 215h1v1h-1zM125 234h1v1h-1zM112 233h1v1h-1zM128 209h1v1h-1zM133 240h1v1h-1zM123 217h1v1h-1zM134 201h1v1h-1zM110 224h1v1h-1zM129 232h1v1h-1zM121 246h1v1h-1zM106 226h1v1h-1zM117 254h1v1h-1zM112 253h1v1h-1zM111 248h1v1h-1zM119 252h1v1h-1zM130 240h1v1h-1zM114 225h1v1h-1zM119 243h1v1h-1zM100 245h1v1h-1zM119 237h1v1h-1zM132 232h1v1h-1zM127 213h1v1h-1zM124 244h1v1h-1zM112 238h1v1h-1zM106 214h1v1h-1zM117 235h1v1h-1zM102 242h1v1h-1zM103 230h1v1h-1zM129 246h1v1h-1zM107 243h1v1h-1zM139 216h1v1h-1zM101 227h1v1h-1zM123 241h1v1h-1zM104 245h1v1h-1zM120 253h1v1h-1zM106 206h1v1h-1zM118 233h1v1h-1zM116 243h1v1h-1zM112 250h1v1h-1zM124 257h1v1h-1zM136 223h1v1h-1zM111 228h1v1h-1zM128 220h1v1h-1zM119 245h1v1h-1zM118 215h1v1h-1zM144 253h1v1h-1zM92 243h1v1h-1zM110 239h1v1h-1zM96 201h1v1h-1zM114 224h1v1h-1zM115 244h1v1h-1zM163 219h1v1h-1zM122 231h1v1h-1zM139 235h1v1h-1zM133 248h1v1h-1zM113 237h1v1h-1zM124 238h1v1h-1zM138 230h1v1h-1zM120 234h1v1h-1zM120 232h1v1h-1zM124 244h1v1h-1zM100 229h1v1h-1zM108 247h1v1h-1zM122 211h1v1h-1zM124 251h1v1h-1zM107 230h1v1h-1zM114 249h1v1h-1zM116 235h1v1h-1zM116 245h1v1h-1zM126 255h1v1h-1zM119 226h1v1h-1zM120 235h1v1h-1zM101 229h1v1h-1zM105 235h1v1h-1zM122 212h1v1h-1zM99 229h1v1h-1zM121 230h1v1h-1zM110 222h1v1h-1zM108 230h1v1h-1zM126 213h1v1h-1zM110 252h1v1h-1zM108 238h1v1h-1zM118 222h1v1h-1zM151 221h1v1h-1zM93 234h1v1h-1zM118 211h1v1h-1zM115 236h1v1h-1zM129 225h1v1h-1zM113 228h1v1h-1zM88 234h1v1h-1zM134 236h1v1h-1zM105 258h1v1h-1zM117 242h1v1h-1zM101 214h1v1h-1zM105 245h1v1h-1zM112 214h1v1h-1zM128 236h1v1h-1zM128 217h1v1h-1zM111 221h1v1h-1zM124 252h1v1h-1zM113 225h1v1h-1zM119 225h1v1h-1zM120 226h1v1h-1zM125 230h1v1h-1zM110 252h1v1h-1zM116 217h1v1h-1zM120 217h1v1h-1zM119 242h1v1h-1zM108 210h1v1h-1zM138 231h1v1h-1zM112 248h1v1h-1zM127 235h1v1h-1zM120 227h1v1h-1zM132 225h1v1h-1zM92 218h1v1h-1zM142 228h1v1h-1zM115 235h1v1h-1zM103 249h1v1h-1zM119 247h1v1h-1zM145 229h1v1h-1zM124 224h1v1h-1zM103 241h1v1h-1zM112 208h1v1h-1zM134 229h1v1h-1zM101 227h1v1h-1zM115 218h1v1h-1zM114 219h1v1h-1zM143 241h1v1h-1zM114 210h1v1h-1zM133 223h1v1h-1zM110 223h1v1h-1zM108 233h1v1h-1zM130 216h1v1h-1zM125 249h1v1h-1zM97 227h1v1h-1zM125 231h1v1h-1zM125 229h1v1h-1zM110 223h1v1h-1zM120 220h1v1h-1zM121 249h1v1h-1zM112 235h1v1h-1zM111 231h1v1h-1zM110 246h1v1h-1zM114 223h1v1h-1zM102 240h1v1h-1zM117 233h1v1h-1zM100 219h1v1h-1zM119 244h1v1h-1zM117 212h1v1h-1zM105 241h1v1h-1zM128 222h1v1h-1zM141 241h1v1h-1zM133 254h1v1h-1zM101 239h1v1h-1zM133 226h1v1h-1zM120 233h1v1h-1zM117 228h1v1h-1zM111 216h1v1h-1zM118 218h1v1h-1zM134 235h1v1h-1zM124 241h1v1h-1zM113 208h1v1h-1zM110 231h1v1h-1zM113 239h1v1h-1zM125 235h1v1h-1zM140 222h1v1h-1zM105 246h1v1h-1zM118 216h1v1h-1zM113 241h1v1h-1zM109 254h1v1h-1zM122 205h1v1h-1zM124 237h1v1h-1zM101 235h1v1h-1zM105 234h1v1h-1zM132 224h1v1h-1zM121 229h1v1h-1zM124 214h1v1h-1zM112 234h1v1h-1zM113 240h1v1h-1zM123 224h1v1h-1zM112 219h1v1h-1zM104 225h1v1h-1zM118 233h1v1h-1zM128 235h1v1h-1zM105 230h1v1h-1zM130 235h1v1h-1zM126 216h1v1h-1zM107 194h1v1h-1zM118 241h1v1h-1zM117 252h1v1h-1zM125 214h1v1h-1zM126 224h1v1h-1zM102 235h1v1h-1zM102 244h1v1h-1zM130 243h1v1h-1zM119 250h1v1h-1zM123 232h1v1h-1zM122 239h1v1h-1zM136 240h1v1h-1zM103 225h1v1h-1zM131 251h1v1h-1zM108 240h1v1h-1zM126 247h1v1h-1zM134 229h1v1h-1zM101 245h1v1h-1zM122 219h1v1h-1zM125 232h1v1h-1zM104 231h1v1h-1zM115 221h1v1h-1zM127 218h1v1h-1zM119 225h1v1h-1zM124 226h1v1h-1zM111 220h1v1h-1zM133 227h1v1h-1zM126 232h1v1h-1zM122 231h1v1h-1zM125 218h1v1h-1zM125 210h1v1h-1zM132 226h1v1h-1zM124 221h1v1h-1zM112 230h1v1h-1zM121 239h1v1h-1zM131 239h1v1h-1zM126 228h1v1h-1zM119 235h1v1h-1zM126 239h1v1h-1zM123 227h1v1h-1zM126 228h1v1h-1zM111 233h1v1h-1zM116 226h1v1h-1zM127 222h1v1h-1zM121 221h1v1h-1zM125 226h1v1h-1zM136 222h1v1h-1zM120 232h1v1h-1zM124 224h1v1h-1zM118 238h1v1h-1zM118 236h1v1h-1zM122 217h1v1h-1zM112 235h1v1h-1zM108 223h1v1h-1zM132 237h1v1h-1zM122 230h1v1h-1zM130 226h1v1h-1zM123 232h1v1h-1zM123 222h1v1h-1zM127 229h1v1h-1zM127 229h1v1h-1zM114 225h1v1h-1zM131 229h1v1h-1zM116 219h1v1h-1zM124 231h1v1h-1zM140 217h1v1h-1zM123 231h1v1h-1zM134 230h1v1h-1zM120 232h1v1h-1zM127 222h1v1h-1zM123 250h1v1h-1zM125 225h1v1h-1zM116 228h1v1h-1zM116 221h1v1h-1zM125 237h1v1h-1zM112 223h1v1h-1zM117 234h1v1h-1zM127 219h1v1h-1zM118 229h1v1h-1zM116 224h1v1h-1zM115 234h1v1h-1zM123 224h1v1h-1zM120 220h1v1h-1zM123 230h1v1h-1zM121 217h1v1h-1zM135 219h1v1h-1zM119 232h1v1h-1zM109 212h1v1h-1zM123 232h1v1h-1zM122 224h1v1h-1zM123 220h1v1h-1zM111 228h1v1h-1zM130 231h1v1h-1zM122 222h1v1h-1zM122 225h1v1h-1zM112 233h1v1h-1zM126 232h1v1h-1zM122 226h1v1h-1zM132 221h1v1h-1zM119 219h1v1h-1zM114 222h1v1h-1zM123 232h1v1h-1zM116 231h1v1h-1zM125 229h1v1h-1zM115 237h1v1h-1zM121 224h1v1h-1zM121 224h1v1h-1zM122 224h1v1h-1zM119 241h1v1h-1zM117 211h1v1h-1zM122 229h1v1h-1zM118 230h1v1h-1zM123 227h1v1h-1zM120 244h1v1h-1zM107 236h1v1h-1zM122 233h1v1h-1zM132 220h1v1h-1zM124 231h1v1h-1zM126 224h1v1h-1zM125 227h1v1h-1zM119 228h1v1h-1zM113 223h1v1h-1zM128 232h1v1h-1zM129 239h1v1h-1zM126 235h1v1h-1zM125 228h1v1h-1zM125 212h1v1h-1zM122 235h1v1h-1zM124 235h1v1h-1zM122 225h1v1h-1zM125 223h1v1h-1zM116 232h1v1h-1zM118 221h1v1h-1zM126 233h1v1h-1zM120 219h1v1h-1zM106 220h1v1h-1zM123 227h1v1h-1zM107 216h1v1h-1zM135 227h1v1h-1zM130 206h1v1h-1zM112 218h1v1h-1zM134 212h1v1h-1zM120 207h1v1h-1zM130 204h1v1h-1zM127 220h1v1h-1zM121 219h1v1h-1zM120 206h1v1h-1zM109 220h1v1h-1zM118 213h1v1h-1zM118 211h1v1h-1zM140 212h1v1h-1zM134 211h1v1h-1zM112 219h1v1h-1zM132 213h1v1h-1zM127 203h1v1h-1zM121 222h1v1h-1zM129 216h1v1h-1zM132 207h1v1h-1zM120 210h1v1h-1zM122 208h1v1h-1zM126 212h1v1h-1zM116 214h1v1h-1zM127 213h1v1h-1zM124 209h1v1h-1zM119 208h1v1h-1zM117 216h1v1h-1zM128 212h1v1h-1zM133 223h1v1h-1zM128 208h1v1h-1zM117 216h1v1h-1zM132 212h1v1h-1zM127 208h1v1h-1zM131 218h1v1h-1zM136 213h1v1h-1zM117 208h1v1h-1zM124 211h1v1h-1zM119 217h1v1h-1zM117 206h1v1h-1zM144 218h1v1h-1zM134 215h1v1h-1zM108 211h1v1h-1zM129 218h1v1h-1zM120 220h1v1h-1zM136 215h1v1h-1zM126 213h1v1h-1zM123 221h1v1h-1zM126 219h1v1h-1zM129 208h1v1h-1zM125 211h1v1h-1zM123 211h1v1h-1zM124 210h1v1h-1zM130 205h1v1h-1zM114 216h1v1h-1zM125 212h1v1h-1zM124 212h1v1h-1zM120 219h1v1h-1zM132 209h1v1h-1zM113 212h1v1h-1zM122 213h1v1h-1zM117 210h1v1h-1zM130 211h1v1h-1zM121 216h1v1h-1zM125 212h1v1h-1zM129 218h1v1h-1zM110 208h1v1h-1zM129 213h1v1h-1zM118 205h1v1h-1zM123 211h1v1h-1zM124 209h1v1h-1zM133 218h1v1h-1zM132 215h1v1h-1zM141 214h1v1h-1zM127 221h1v1h-1zM121 219h1v1h-1zM120 215h1v1h-1zM131 209h1v1h-1zM140 205h1v1h-1zM128 212h1v1h-1zM120 210h1v1h-1zM128 209h1v1h-1zM127 211h1v1h-1zM125 204h1v1h-1zM118 219h1v1h-1zM101 207h1v1h-1zM120 209h1v1h-1zM135 215h1v1h-1zM127 204h1v1h-1zM104 216h1v1h-1zM125 216h1v1h-1zM108 211h1v1h-1zM144 207h1v1h-1zM127 210h1v1h-1zM114 203h1v1h-1zM132 219h1v1h-1zM118 212h1v1h-1zM130 209h1v1h-1zM125 208h1v1h-1zM114 215h1v1h-1zM131 219h1v1h-1zM146 229h1v1h-1zM160 199h1v1h-1zM135 181h1v1h-1zM186 214h1v1h-1zM175 224h1v1h-1zM219 214h1v1h-1zM169 206h1v1h-1zM163 223h1v1h-1zM157 241h1v1h-1zM190 217h1v1h-1zM138 209h1v1h-1zM188 208h1v1h-1zM177 242h1v1h-1zM161 218h1v1h-1zM153 225h1v1h-1zM194 233h1v1h-1zM211 231h1v1h-1zM163 207h1v1h-1zM183 229h1v1h-1zM208 228h1v1h-1zM159 224h1v1h-1zM167 230h1v1h-1zM147 211h1v1h-1zM169 217h1v1h-1zM170 212h1v1h-1zM163 227h1v1h-1zM157 210h1v1h-1zM139 223h1v1h-1zM144 205h1v1h-1zM152 217h1v1h-1zM185 214h1v1h-1zM161 217h1v1h-1zM154 220h1v1h-1zM186 216h1v1h-1zM184 215h1v1h-1zM156 193h1v1h-1zM159 231h1v1h-1zM186 211h1v1h-1zM180 215h1v1h-1zM155 208h1v1h-1zM177 230h1v1h-1zM171 207h1v1h-1zM195 224h1v1h-1zM154 232h1v1h-1zM190 238h1v1h-1zM181 232h1v1h-1zM151 225h1v1h-1zM194 204h1v1h-1zM191 233h1v1h-1zM144 232h1v1h-1zM214 228h1v1h-1zM148 228h1v1h-1zM153 219h1v1h-1zM165 212h1v1h-1zM188 231h1v1h-1zM184 233h1v1h-1zM170 206h1v1h-1zM201 229h1v1h-1zM181 221h1v1h-1zM201 229h1v1h-1zM176 231h1v1h-1zM118 230h1v1h-1zM162 229h1v1h-1zM149 202h1v1h-1zM174 228h1v1h-1zM174 219h1v1h-1zM146 205h1v1h-1zM148 227h1v1h-1zM166 202h1v1h-1zM168 229h1v1h-1zM117 238h1v1h-1zM193 212h1v1h-1zM173 229h1v1h-1zM172 224h1v1h-1zM178 226h1v1h-1zM150 202h1v1h-1zM171 225h1v1h-1zM194 220h1v1h-1zM195 227h1v1h-1zM182 218h1v1h-1zM166 231h1v1h-1zM155 222h1v1h-1zM200 226h1v1h-1zM183 235h1v1h-1zM163 220h1v1h-1zM126 230h1v1h-1zM153 221h1v1h-1zM131 225h1v1h-1zM199 212h1v1h-1zM176 228h1v1h-1zM156 233h1v1h-1zM166 217h1v1h-1zM198 223h1v1h-1zM143 205h1v1h-1zM169 223h1v1h-1zM146 234h1v1h-1zM135 213h1v1h-1zM176 197h1v1h-1zM206 211h1v1h-1zM173 241h1v1h-1zM164 218h1v1h-1zM176 218h1v1h-1zM194 211h1v1h-1zM141 221h1v1h-1zM132 212h1v1h-1zM213 208h1v1h-1zM178 218h1v1h-1zM207 209h1v1h-1zM177 234h1v1h-1zM204 205h1v1h-1zM159 218h1v1h-1zM183 210h1v1h-1zM206 202h1v1h-1zM194 238h1v1h-1zM162 194h1v1h-1zM191 236h1v1h-1zM158 202h1v1h-1zM141 219h1v1h-1zM183 245h1v1h-1zM202 193h1v1h-1zM190 202h1v1h-1zM145 234h1v1h-1zM191 220h1v1h-1zM187 212h1v1h-1zM162 218h1v1h-1zM118 207h1v1h-1zM194 220h1v1h-1zM191 236h1v1h-1zM183 214h1v1h-1zM134 220h1v1h-1zM140 233h1v1h-1zM194 242h1v1h-1zM190 212h1v1h-1zM183 222h1v1h-1zM167 212h1v1h-1zM181 211h1v1h-1zM160 214h1v1h-1zM165 211h1v1h-1zM153 198h1v1h-1zM178 195h1v1h-1zM163 210h1v1h-1zM193 220h1v1h-1zM188 233h1v1h-1zM154 212h1v1h-1zM212 216h1v1h-1zM147 226h1v1h-1zM182 227h1v1h-1zM196 217h1v1h-1zM200 218h1v1h-1zM124 240h1v1h-1zM194 214h1v1h-1zM199 213h1v1h-1zM204 199h1v1h-1zM123 224h1v1h-1zM157 215h1v1h-1zM170 241h1v1h-1zM162 214h1v1h-1zM201 228h1v1h-1zM157 229h1v1h-1zM199 238h1v1h-1zM184 203h1v1h-1zM140 237h1v1h-1zM150 219h1v1h-1zM162 217h1v1h-1zM174 215h1v1h-1zM194 214h1v1h-1zM168 214h1v1h-1zM186 223h1v1h-1zM99 157h1v1h-1zM172 168h1v1h-1zM136 149h1v1h-1zM206 172h1v1h-1zM167 237h1v1h-1zM196 254h1v1h-1zM195 133h1v1h-1zM106 239h1v1h-1zM85 225h1v1h-1zM188 141h1v1h-1zM82 151h1v1h-1zM216 241h1v1h-1zM177 156h1v1h-1zM137 247h1v1h-1zM174 200h1v1h-1zM93 257h1v1h-1zM170 195h1v1h-1zM212 148h1v1h-1zM215 188h1v1h-1zM120 140h1v1h-1zM133 235h1v1h-1zM215 246h1v1h-1zM193 254h1v1h-1zM131 213h1v1h-1zM221 205h1v1h-1zM78 156h1v1h-1zM173 254h1v1h-1zM150 225h1v1h-1zM207 216h1v1h-1zM76 220h1v1h-1zM122 238h1v1h-1zM145 175h1v1h-1zM85 145h1v1h-1zM171 257h1v1h-1zM201 135h1v1h-1zM210 166h1v1h-1zM95 194h1v1h-1zM150 136h1v1h-1zM222 171h1v1h-1zM84 242h1v1h-1zM180 211h1v1h-1zM117 205h1v1h-1zM210 133h1v1h-1zM165 185h1v1h-1zM208 147h1v1h-1zM81 180h1v1h-1zM165 181h1v1h-1zM137 185h1v1h-1zM90 171h1v1h-1zM135 231h1v1h-1zM185 190h1v1h-1zM161 247h1v1h-1zM163 175h1v1h-1zM116 149h1v1h-1zM150 176h1v1h-1zM141 242h1v1h-1zM210 177h1v1h-1zM206 236h1v1h-1zM139 219h1v1h-1zM149 164h1v1h-1zM118 155h1v1h-1zM159 145h1v1h-1zM93 188h1v1h-1zM219 220h1v1h-1zM136 168h1v1h-1zM75 253h1v1h-1zM118 133h1v1h-1zM216 231h1v1h-1zM120 153h1v1h-1zM220 144h1v1h-1zM192 248h1v1h-1zM128 182h1v1h-1zM98 168h1v1h-1zM132 136h1v1h-1zM130 159h1v1h-1zM208 180h1v1h-1zM155 250h1v1h-1zM213 254h1v1h-1zM222 141h1v1h-1zM204 203h1v1h-1zM135 135h1v1h-1zM132 144h1v1h-1zM156 210h1v1h-1zM176 198h1v1h-1zM201 246h1v1h-1zM197 246h1v1h-1zM121 151h1v1h-1zM184 212h1v1h-1zM130 234h1v1h-1zM190 229h1v1h-1zM76 203h1v1h-1zM201 196h1v1h-1zM179 204h1v1h-1zM96 184h1v1h-1zM111 203h1v1h-1zM120 245h1v1h-1zM151 175h1v1h-1zM210 187h1v1h-1zM220 187h1v1h-1zM164 241h1v1h-1zM90 162h1v1h-1zM221 187h1v1h-1zM218 227h1v1h-1zM87 181h1v1h-1zM174 240h1v1h-1zM174 200h1v1h-1zM173 144h1v1h-1zM183 178h1v1h-1zM74 150h1v1h-1zM120 187h1v1h-1zM124 177h1v1h-1zM171 174h1v1h-1zM88 237h1v1h-1zM115 245h1v1h-1zM100 227h1v1h-1zM81 229h1v1h-1zM145 245h1v1h-1zM104 248h1v1h-1zM146 153h1v1h-1zM105 245h1v1h-1zM193 152h1v1h-1zM90 166h1v1h-1zM190 232h1v1h-1zM172 149h1v1h-1zM97 254h1v1h-1zM130 250h1v1h-1zM131 131h1v1h-1zM142 212h1v1h-1zM175 249h1v1h-1zM76 200h1v1h-1zM98 200h1v1h-1zM179 206h1v1h-1zM87 202h1v1h-1zM201 205h1v1h-1zM129 218h1v1h-1zM79 253h1v1h-1zM189 141h1v1h-1zM110 161h1v1h-1zM212 140h1v1h-1zM207 157h1v1h-1zM207 246h1v1h-1zM85 171h1v1h-1zM78 208h1v1h-1zM134 171h1v1h-1zM137 257h1v1h-1zM135 156h1v1h-1zM163 181h1v1h-1zM191 178h1v1h-1zM192 158h1v1h-1zM213 140h1v1h-1zM175 181h1v1h-1zM206 157h1v1h-1zM87 134h1v1h-1zM77 244h1v1h-1zM141 175h1v1h-1zM206 132h1v1h-1zM132 210h1v1h-1zM90 192h1v1h-1zM93 219h1v1h-1zM108 177h1v1h-1zM203 149h1v1h-1zM124 213h1v1h-1zM203 182h1v1h-1zM215 243h1v1h-1zM190 173h1v1h-1zM212 159h1v1h-1zM112 155h1v1h-1zM103 164h1v1h-1zM110 161h1v1h-1zM76 198h1v1h-1zM214 178h1v1h-1zM105 255h1v1h-1zM168 157h1v1h-1zM116 251h1v1h-1zM155 174h1v1h-1zM139 193h1v1h-1zM223 159h1v1h-1zM222 164h1v1h-1zM223 152h1v1h-1zM221 214h1v1h-1zM220 194h1v1h-1zM222 159h1v1h-1zM222 203h1v1h-1zM218 245h1v1h-1zM219 160h1v1h-1zM223 219h1v1h-1zM222 168h1v1h-1zM223 205h1v1h-1zM219 187h1v1h-1zM223 180h1v1h-1zM220 151h1v1h-1zM219 212h1v1h-1zM220 198h1v1h-1zM220 225h1v1h-1zM218 170h1v1h-1zM223 256h1v1h-1zM223 152h1v1h-1zM219 171h1v1h-1zM221 219h1v1h-1zM223 164h1v1h-1zM220 178h1v1h-1zM221 204h1v1h-1zM219 232h1v1h-1zM221 243h1v1h-1zM220 184h1v1h-1zM223 221h1v1h-1zM219 152h1v1h-1zM218 246h1v1h-1zM223 223h1v1h-1zM219 247h1v1h-1zM221 173h1v1h-1zM222 204h1v1h-1zM220 230h1v1h-1zM223 153h1v1h-1zM220 241h1v1h-1zM219 226h1v1h-1zM218 235h1v1h-1zM223 168h1v1h-1zM219 234h1v1h-1zM223 211h1v1h-1zM221 166h1v1h-1zM223 164h1v1h-1zM218 243h1v1h-1zM223 193h1v1h-1zM223 179h1v1h-1zM222 190h1v1h-1zM219 224h1v1h-1zM223 165h1v1h-1zM222 167h1v1h-1zM219 220h1v1h-1zM223 247h1v1h-1z"/><g filter="url(#bl)"><path fill="rgb(70, 78, 185)" d="M148.5 215.0h1.1v1.1h-1.1zM164.7 189.2h1.1v1.1h-1.1zM187.1 159.2h1.1v1.1h-1.1zM158.3 202.4h1.1v1.1h-1.1zM144.3 171.4h1.1v1.1h-1.1zM195.2 185.1h1.1v1.1h-1.1zM214.0 191.8h1.1v1.1h-1.1zM172.2 161.5h1.1v1.1h-1.1zM186.1 183.9h1.1v1.1h-1.1zM191.3 180.9h1.1v1.1h-1.1zM161.8 183.0h1.1v1.1h-1.1zM174.9 166.7h1.1v1.1h-1.1zM200.3 176.4h1.1v1.1h-1.1zM185.0 198.8h1.1v1.1h-1.1zM153.0 183.0h1.1v1.1h-1.1zM176.1 199.8h1.1v1.1h-1.1zM173.1 198.0h1.1v1.1h-1.1zM181.3 158.3h1.1v1.1h-1.1zM154.8 173.8h1.1v1.1h-1.1zM218.6 159.9h1.1v1.1h-1.1zM223.1 164.3h1.1v1.1h-1.1zM213.1 193.5h1.1v1.1h-1.1zM194.1 177.4h1.1v1.1h-1.1zM159.9 200.8h1.1v1.1h-1.1zM165.8 193.7h1.1v1.1h-1.1zM189.5 165.3h1.1v1.1h-1.1zM163.4 205.7h1.1v1.1h-1.1zM185.7 183.6h1.1v1.1h-1.1zM158.1 203.2h1.1v1.1h-1.1zM174.6 168.1h1.1v1.1h-1.1zM142.2 190.0h1.1v1.1h-1.1zM196.4 191.9h1.1v1.1h-1.1zM190.1 193.7h1.1v1.1h-1.1zM181.1 189.8h1.1v1.1h-1.1zM175.0 185.2h1.1v1.1h-1.1zM215.5 144.5h1.1v1.1h-1.1zM189.3 169.4h1.1v1.1h-1.1zM164.6 167.9h1.1v1.1h-1.1zM197.4 174.5h1.1v1.1h-1.1zM169.3 194.6h1.1v1.1h-1.1zM182.5 187.8h1.1v1.1h-1.1zM178.7 171.1h1.1v1.1h-1.1zM210.1 190.4h1.1v1.1h-1.1zM148.3 178.7h1.1v1.1h-1.1zM188.3 158.5h1.1v1.1h-1.1zM168.9 190.5h1.1v1.1h-1.1zM193.2 151.7h1.1v1.1h-1.1zM162.4 168.0h1.1v1.1h-1.1zM218.0 155.2h1.1v1.1h-1.1zM193.9 171.8h1.1v1.1h-1.1zM179.1 185.9h1.1v1.1h-1.1zM184.4 184.0h1.1v1.1h-1.1zM198.0 165.3h1.1v1.1h-1.1zM145.2 185.0h1.1v1.1h-1.1zM206.2 161.6h1.1v1.1h-1.1zM165.5 192.2h1.1v1.1h-1.1zM166.8 173.7h1.1v1.1h-1.1zM177.7 199.5h1.1v1.1h-1.1zM175.7 189.1h1.1v1.1h-1.1zM160.6 181.1h1.1v1.1h-1.1zM168.3 187.6h1.1v1.1h-1.1zM174.6 168.1h1.1v1.1h-1.1zM205.7 165.2h1.1v1.1h-1.1zM182.2 164.6h1.1v1.1h-1.1zM197.6 180.5h1.1v1.1h-1.1zM169.2 167.7h1.1v1.1h-1.1zM170.0 186.2h1.1v1.1h-1.1zM169.7 187.9h1.1v1.1h-1.1zM213.4 178.7h1.1v1.1h-1.1zM203.2 183.3h1.1v1.1h-1.1zM197.2 169.8h1.1v1.1h-1.1zM172.0 162.4h1.1v1.1h-1.1zM187.7 187.9h1.1v1.1h-1.1zM185.2 185.5h1.1v1.1h-1.1zM200.7 176.8h1.1v1.1h-1.1zM136.2 177.6h1.1v1.1h-1.1zM176.9 188.9h1.1v1.1h-1.1zM180.6 205.0h1.1v1.1h-1.1zM179.3 161.3h1.1v1.1h-1.1zM163.5 176.0h1.1v1.1h-1.1zM185.8 169.4h1.1v1.1h-1.1zM184.1 168.3h1.1v1.1h-1.1zM198.8 175.8h1.1v1.1h-1.1zM160.5 176.1h1.1v1.1h-1.1zM187.1 164.2h1.1v1.1h-1.1zM177.2 151.4h1.1v1.1h-1.1zM181.2 171.7h1.1v1.1h-1.1zM206.8 156.3h1.1v1.1h-1.1zM187.5 189.5h1.1v1.1h-1.1zM187.1 166.5h1.1v1.1h-1.1zM160.4 174.0h1.1v1.1h-1.1zM164.5 188.4h1.1v1.1h-1.1zM163.9 170.7h1.1v1.1h-1.1zM182.3 169.7h1.1v1.1h-1.1zM167.5 159.7h1.1v1.1h-1.1zM219.7 193.6h1.1v1.1h-1.1zM141.0 218.5h1.1v1.1h-1.1zM179.0 173.6h1.1v1.1h-1.1zM152.1 187.6h1.1v1.1h-1.1zM169.1 206.3h1.1v1.1h-1.1zM138.3 169.7h1.1v1.1h-1.1zM145.5 174.7h1.1v1.1h-1.1zM202.5 173.0h1.1v1.1h-1.1zM191.6 189.1h1.1v1.1h-1.1zM200.1 171.3h1.1v1.1h-1.1zM177.9 161.4h1.1v1.1h-1.1zM186.9 156.2h1.1v1.1h-1.1zM167.4 172.1h1.1v1.1h-1.1zM169.9 171.0h1.1v1.1h-1.1zM218.9 152.5h1.1v1.1h-1.1zM167.6 173.6h1.1v1.1h-1.1zM153.1 198.1h1.1v1.1h-1.1zM183.9 171.2h1.1v1.1h-1.1zM173.9 171.3h1.1v1.1h-1.1zM211.1 155.2h1.1v1.1h-1.1zM177.1 182.5h1.1v1.1h-1.1zM191.3 160.5h1.1v1.1h-1.1zM176.2 183.9h1.1v1.1h-1.1zM166.4 167.9h1.1v1.1h-1.1zM139.1 185.4h1.1v1.1h-1.1zM154.3 192.6h1.1v1.1h-1.1zM197.5 193.0h1.1v1.1h-1.1zM210.9 158.8h1.1v1.1h-1.1zM178.4 165.0h1.1v1.1h-1.1zM191.4 214.2h1.1v1.1h-1.1zM205.7 147.7h1.1v1.1h-1.1zM160.9 193.1h1.1v1.1h-1.1zM164.8 179.0h1.1v1.1h-1.1zM167.5 184.0h1.1v1.1h-1.1zM167.0 201.8h1.1v1.1h-1.1zM192.6 152.3h1.1v1.1h-1.1zM149.9 178.6h1.1v1.1h-1.1zM161.0 191.6h1.1v1.1h-1.1zM222.8 164.5h1.1v1.1h-1.1zM159.9 193.0h1.1v1.1h-1.1zM180.1 154.1h1.1v1.1h-1.1zM180.3 167.0h1.1v1.1h-1.1zM178.6 203.8h1.1v1.1h-1.1zM165.2 168.9h1.1v1.1h-1.1zM199.5 141.6h1.1v1.1h-1.1zM169.9 165.4h1.1v1.1h-1.1zM199.9 168.1h1.1v1.1h-1.1zM202.0 169.6h1.1v1.1h-1.1zM215.9 164.3h1.1v1.1h-1.1zM144.8 179.0h1.1v1.1h-1.1zM188.7 162.3h1.1v1.1h-1.1zM205.9 189.4h1.1v1.1h-1.1zM167.4 187.5h1.1v1.1h-1.1zM181.4 191.5h1.1v1.1h-1.1zM176.4 162.0h1.1v1.1h-1.1zM114.0 178.9h1.1v1.1h-1.1zM162.9 201.9h1.1v1.1h-1.1zM173.0 189.9h1.1v1.1h-1.1zM160.5 170.8h1.1v1.1h-1.1zM188.9 162.7h1.1v1.1h-1.1zM158.9 206.1h1.1v1.1h-1.1zM137.7 187.9h1.1v1.1h-1.1zM196.5 187.8h1.1v1.1h-1.1zM220.2 143.5h1.1v1.1h-1.1zM165.1 150.3h1.1v1.1h-1.1zM153.2 206.1h1.1v1.1h-1.1zM201.9 204.5h1.1v1.1h-1.1zM219.4 168.5h1.1v1.1h-1.1zM150.1 182.3h1.1v1.1h-1.1zM175.6 165.3h1.1v1.1h-1.1zM168.0 190.7h1.1v1.1h-1.1zM177.1 189.5h1.1v1.1h-1.1zM208.0 180.2h1.1v1.1h-1.1zM198.2 160.6h1.1v1.1h-1.1zM193.8 189.6h1.1v1.1h-1.1zM150.2 203.3h1.1v1.1h-1.1zM176.2 190.1h1.1v1.1h-1.1zM157.8 192.4h1.1v1.1h-1.1zM154.3 172.8h1.1v1.1h-1.1zM204.2 176.3h1.1v1.1h-1.1zM193.4 185.5h1.1v1.1h-1.1zM171.8 195.4h1.1v1.1h-1.1zM174.2 180.6h1.1v1.1h-1.1zM155.9 170.3h1.1v1.1h-1.1zM195.4 173.6h1.1v1.1h-1.1zM182.9 164.9h1.1v1.1h-1.1zM157.3 167.6h1.1v1.1h-1.1zM190.4 202.3h1.1v1.1h-1.1zM211.7 200.9h1.1v1.1h-1.1zM186.7 159.2h1.1v1.1h-1.1zM141.0 189.7h1.1v1.1h-1.1zM172.8 167.6h1.1v1.1h-1.1zM160.0 196.7h1.1v1.1h-1.1zM159.2 145.8h1.1v1.1h-1.1zM201.1 167.2h1.1v1.1h-1.1zM195.4 184.3h1.1v1.1h-1.1zM202.4 174.3h1.1v1.1h-1.1zM187.1 165.4h1.1v1.1h-1.1zM194.4 173.0h1.1v1.1h-1.1zM190.6 188.9h1.1v1.1h-1.1zM191.6 165.1h1.1v1.1h-1.1zM156.9 196.5h1.1v1.1h-1.1zM198.8 183.4h1.1v1.1h-1.1zM192.1 162.3h1.1v1.1h-1.1zM156.7 197.7h1.1v1.1h-1.1zM150.3 200.8h1.1v1.1h-1.1zM185.1 185.6h1.1v1.1h-1.1zM181.1 159.5h1.1v1.1h-1.1zM218.6 173.2h1.1v1.1h-1.1zM194.1 177.7h1.1v1.1h-1.1zM197.7 189.9h1.1v1.1h-1.1zM192.9 182.2h1.1v1.1h-1.1zM190.1 170.2h1.1v1.1h-1.1zM166.8 187.5h1.1v1.1h-1.1zM196.3 172.6h1.1v1.1h-1.1zM181.4 167.3h1.1v1.1h-1.1zM199.8 168.7h1.1v1.1h-1.1zM174.6 161.0h1.1v1.1h-1.1zM180.7 150.6h1.1v1.1h-1.1zM188.8 187.3h1.1v1.1h-1.1zM166.3 175.0h1.1v1.1h-1.1zM202.8 182.9h1.1v1.1h-1.1zM209.2 185.8h1.1v1.1h-1.1zM150.8 215.3h1.1v1.1h-1.1zM209.6 162.1h1.1v1.1h-1.1zM158.3 193.3h1.1v1.1h-1.1zM175.8 188.7h1.1v1.1h-1.1zM180.7 187.2h1.1v1.1h-1.1zM133.8 189.6h1.1v1.1h-1.1zM175.4 201.0h1.1v1.1h-1.1zM205.4 164.4h1.1v1.1h-1.1zM180.0 163.2h1.1v1.1h-1.1zM193.4 186.3h1.1v1.1h-1.1zM157.7 171.4h1.1v1.1h-1.1zM136.4 196.4h1.1v1.1h-1.1zM155.6 170.8h1.1v1.1h-1.1zM174.6 171.6h1.1v1.1h-1.1zM159.5 188.4h1.1v1.1h-1.1zM204.1 171.0h1.1v1.1h-1.1zM159.6 169.8h1.1v1.1h-1.1zM143.7 180.7h1.1v1.1h-1.1zM154.0 197.1h1.1v1.1h-1.1zM156.5 168.0h1.1v1.1h-1.1zM133.6 201.2h1.1v1.1h-1.1zM171.4 169.1h1.1v1.1h-1.1zM177.2 172.8h1.1v1.1h-1.1zM187.7 170.8h1.1v1.1h-1.1zM171.6 196.6h1.1v1.1h-1.1zM174.9 205.7h1.1v1.1h-1.1zM162.7 206.9h1.1v1.1h-1.1zM174.3 160.8h1.1v1.1h-1.1zM163.4 147.6h1.1v1.1h-1.1zM180.8 184.8h1.1v1.1h-1.1zM187.0 208.2h1.1v1.1h-1.1zM177.1 169.7h1.1v1.1h-1.1zM192.1 158.2h1.1v1.1h-1.1zM171.6 171.7h1.1v1.1h-1.1zM135.5 181.4h1.1v1.1h-1.1zM200.0 187.2h1.1v1.1h-1.1zM210.4 164.9h1.1v1.1h-1.1zM186.3 200.5h1.1v1.1h-1.1zM195.6 148.4h1.1v1.1h-1.1zM154.9 172.5h1.1v1.1h-1.1zM145.7 178.5h1.1v1.1h-1.1zM200.9 163.7h1.1v1.1h-1.1zM162.0 167.2h1.1v1.1h-1.1zM186.9 184.5h1.1v1.1h-1.1zM134.8 186.9h1.1v1.1h-1.1zM207.0 182.5h1.1v1.1h-1.1zM205.6 177.6h1.1v1.1h-1.1zM136.7 185.1h1.1v1.1h-1.1zM198.1 170.4h1.1v1.1h-1.1zM202.5 174.4h1.1v1.1h-1.1zM207.9 184.0h1.1v1.1h-1.1zM176.6 180.2h1.1v1.1h-1.1zM179.5 171.7h1.1v1.1h-1.1zM178.8 183.3h1.1v1.1h-1.1zM192.8 156.2h1.1v1.1h-1.1zM154.7 194.0h1.1v1.1h-1.1zM144.6 184.4h1.1v1.1h-1.1zM166.1 163.6h1.1v1.1h-1.1zM221.9 203.6h1.1v1.1h-1.1zM128.3 192.9h1.1v1.1h-1.1zM186.0 184.9h1.1v1.1h-1.1zM155.8 191.4h1.1v1.1h-1.1zM192.3 158.1h1.1v1.1h-1.1zM160.1 218.5h1.1v1.1h-1.1zM150.3 202.1h1.1v1.1h-1.1zM144.8 170.0h1.1v1.1h-1.1zM208.4 146.5h1.1v1.1h-1.1zM180.9 188.0h1.1v1.1h-1.1zM220.9 173.6h1.1v1.1h-1.1zM157.3 180.1h1.1v1.1h-1.1zM200.3 159.6h1.1v1.1h-1.1zM168.2 163.1h1.1v1.1h-1.1zM133.5 187.3h1.1v1.1h-1.1zM151.4 167.9h1.1v1.1h-1.1zM179.8 165.6h1.1v1.1h-1.1zM156.9 188.5h1.1v1.1h-1.1zM189.1 191.5h1.1v1.1h-1.1zM187.5 165.1h1.1v1.1h-1.1zM187.8 160.2h1.1v1.1h-1.1zM202.8 172.1h1.1v1.1h-1.1zM192.0 165.5h1.1v1.1h-1.1zM167.4 193.6h1.1v1.1h-1.1zM195.2 165.8h1.1v1.1h-1.1zM158.7 168.5h1.1v1.1h-1.1zM181.5 160.6h1.1v1.1h-1.1zM159.8 204.4h1.1v1.1h-1.1zM178.4 182.0h1.1v1.1h-1.1zM164.4 195.3h1.1v1.1h-1.1zM184.9 182.3h1.1v1.1h-1.1zM146.0 176.3h1.1v1.1h-1.1zM150.4 190.4h1.1v1.1h-1.1zM165.5 195.9h1.1v1.1h-1.1zM197.7 166.7h1.1v1.1h-1.1zM190.5 160.9h1.1v1.1h-1.1zM169.8 168.1h1.1v1.1h-1.1zM170.6 157.5h1.1v1.1h-1.1zM187.6 167.3h1.1v1.1h-1.1zM188.9 197.9h1.1v1.1h-1.1zM185.1 166.8h1.1v1.1h-1.1zM156.2 193.2h1.1v1.1h-1.1zM184.9 170.5h1.1v1.1h-1.1zM169.8 162.6h1.1v1.1h-1.1zM203.5 191.0h1.1v1.1h-1.1zM178.8 185.2h1.1v1.1h-1.1zM205.9 172.4h1.1v1.1h-1.1zM157.7 193.6h1.1v1.1h-1.1zM152.3 179.4h1.1v1.1h-1.1zM187.3 202.4h1.1v1.1h-1.1zM209.3 177.3h1.1v1.1h-1.1zM170.5 185.5h1.1v1.1h-1.1zM177.8 189.8h1.1v1.1h-1.1zM133.8 183.6h1.1v1.1h-1.1zM149.7 136.1h1.1v1.1h-1.1zM151.2 188.9h1.1v1.1h-1.1zM201.7 177.5h1.1v1.1h-1.1zM133.9 170.9h1.1v1.1h-1.1zM205.7 184.9h1.1v1.1h-1.1zM164.5 168.1h1.1v1.1h-1.1zM177.6 213.9h1.1v1.1h-1.1zM167.8 187.7h1.1v1.1h-1.1zM168.6 197.0h1.1v1.1h-1.1zM187.8 141.1h1.1v1.1h-1.1zM182.8 185.1h1.1v1.1h-1.1zM193.3 157.4h1.1v1.1h-1.1zM184.4 197.1h1.1v1.1h-1.1zM205.5 156.7h1.1v1.1h-1.1zM160.9 153.9h1.1v1.1h-1.1zM178.4 189.3h1.1v1.1h-1.1zM193.1 187.2h1.1v1.1h-1.1zM166.6 174.2h1.1v1.1h-1.1zM192.7 173.4h1.1v1.1h-1.1zM179.8 148.7h1.1v1.1h-1.1zM208.2 178.7h1.1v1.1h-1.1zM205.0 175.6h1.1v1.1h-1.1zM203.9 159.2h1.1v1.1h-1.1zM194.9 158.4h1.1v1.1h-1.1zM159.4 192.2h1.1v1.1h-1.1zM174.7 165.4h1.1v1.1h-1.1zM177.8 196.2h1.1v1.1h-1.1zM172.5 191.2h1.1v1.1h-1.1zM166.7 190.4h1.1v1.1h-1.1zM191.7 167.2h1.1v1.1h-1.1zM163.9 188.3h1.1v1.1h-1.1zM159.0 177.4h1.1v1.1h-1.1zM179.2 181.4h1.1v1.1h-1.1zM175.2 191.5h1.1v1.1h-1.1zM161.8 161.1h1.1v1.1h-1.1zM220.8 204.2h1.1v1.1h-1.1zM163.6 169.4h1.1v1.1h-1.1zM183.9 160.4h1.1v1.1h-1.1zM162.6 208.9h1.1v1.1h-1.1zM185.7 187.2h1.1v1.1h-1.1zM182.2 190.5h1.1v1.1h-1.1zM161.6 187.0h1.1v1.1h-1.1zM223.4 179.4h1.1v1.1h-1.1zM154.5 172.7h1.1v1.1h-1.1zM199.8 159.2h1.1v1.1h-1.1zM175.1 165.0h1.1v1.1h-1.1zM176.0 165.8h1.1v1.1h-1.1zM147.9 180.7h1.1v1.1h-1.1zM182.1 166.7h1.1v1.1h-1.1zM195.1 182.6h1.1v1.1h-1.1zM203.9 204.6h1.1v1.1h-1.1zM190.0 182.2h1.1v1.1h-1.1zM180.2 215.7h1.1v1.1h-1.1zM200.2 164.0h1.1v1.1h-1.1zM194.2 180.6h1.1v1.1h-1.1zM198.4 169.2h1.1v1.1h-1.1zM215.1 175.3h1.1v1.1h-1.1zM173.6 192.8h1.1v1.1h-1.1zM155.4 192.1h1.1v1.1h-1.1zM219.0 179.4h1.1v1.1h-1.1zM190.8 169.2h1.1v1.1h-1.1zM150.1 179.4h1.1v1.1h-1.1zM180.6 182.2h1.1v1.1h-1.1zM192.3 169.3h1.1v1.1h-1.1zM134.4 210.5h1.1v1.1h-1.1zM178.6 188.1h1.1v1.1h-1.1zM176.1 203.7h1.1v1.1h-1.1zM209.3 167.5h1.1v1.1h-1.1zM184.9 184.3h1.1v1.1h-1.1zM192.3 159.6h1.1v1.1h-1.1zM196.7 164.9h1.1v1.1h-1.1zM162.5 155.4h1.1v1.1h-1.1zM192.6 176.5h1.1v1.1h-1.1zM220.5 166.2h1.1v1.1h-1.1zM162.5 167.5h1.1v1.1h-1.1zM171.9 162.4h1.1v1.1h-1.1zM145.2 198.1h1.1v1.1h-1.1zM172.3 162.5h1.1v1.1h-1.1zM153.0 184.0h1.1v1.1h-1.1zM180.4 164.6h1.1v1.1h-1.1zM179.5 160.4h1.1v1.1h-1.1zM174.3 204.5h1.1v1.1h-1.1zM188.2 200.9h1.1v1.1h-1.1zM171.0 152.9h1.1v1.1h-1.1zM186.1 164.4h1.1v1.1h-1.1zM176.2 191.0h1.1v1.1h-1.1zM168.4 195.6h1.1v1.1h-1.1zM163.3 171.4h1.1v1.1h-1.1zM172.9 190.4h1.1v1.1h-1.1zM168.6 200.9h1.1v1.1h-1.1zM183.4 158.8h1.1v1.1h-1.1zM205.8 193.0h1.1v1.1h-1.1zM201.1 135.0h1.1v1.1h-1.1zM174.3 154.8h1.1v1.1h-1.1zM173.8 199.6h1.1v1.1h-1.1zM163.8 187.6h1.1v1.1h-1.1zM190.6 159.5h1.1v1.1h-1.1zM188.2 157.2h1.1v1.1h-1.1zM182.2 184.3h1.1v1.1h-1.1zM155.0 206.5h1.1v1.1h-1.1zM193.8 158.3h1.1v1.1h-1.1zM170.3 173.7h1.1v1.1h-1.1zM212.9 182.6h1.1v1.1h-1.1zM198.4 177.3h1.1v1.1h-1.1zM183.9 159.8h1.1v1.1h-1.1zM146.3 186.4h1.1v1.1h-1.1zM151.8 202.6h1.1v1.1h-1.1zM147.5 184.8h1.1v1.1h-1.1zM198.7 179.4h1.1v1.1h-1.1zM164.9 191.1h1.1v1.1h-1.1zM143.3 182.6h1.1v1.1h-1.1zM181.4 194.8h1.1v1.1h-1.1zM196.7 190.7h1.1v1.1h-1.1zM149.0 175.5h1.1v1.1h-1.1zM196.2 189.8h1.1v1.1h-1.1zM160.2 168.8h1.1v1.1h-1.1zM221.8 203.3h1.1v1.1h-1.1zM179.5 183.0h1.1v1.1h-1.1zM180.0 160.9h1.1v1.1h-1.1zM192.3 187.0h1.1v1.1h-1.1zM179.1 192.6h1.1v1.1h-1.1zM146.1 188.9h1.1v1.1h-1.1zM201.3 186.1h1.1v1.1h-1.1zM166.1 194.5h1.1v1.1h-1.1zM159.0 191.2h1.1v1.1h-1.1zM165.9 157.3h1.1v1.1h-1.1zM194.0 190.5h1.1v1.1h-1.1zM217.7 166.3h1.1v1.1h-1.1zM159.4 192.3h1.1v1.1h-1.1zM195.8 171.8h1.1v1.1h-1.1zM166.3 164.0h1.1v1.1h-1.1zM192.7 197.8h1.1v1.1h-1.1zM141.4 197.5h1.1v1.1h-1.1zM164.7 162.8h1.1v1.1h-1.1zM204.7 162.8h1.1v1.1h-1.1zM191.3 193.0h1.1v1.1h-1.1zM146.2 197.4h1.1v1.1h-1.1zM174.8 166.2h1.1v1.1h-1.1zM180.2 185.8h1.1v1.1h-1.1zM157.5 174.8h1.1v1.1h-1.1zM204.8 159.5h1.1v1.1h-1.1zM196.3 176.6h1.1v1.1h-1.1zM196.9 152.5h1.1v1.1h-1.1zM185.3 195.0h1.1v1.1h-1.1zM166.2 183.7h1.1v1.1h-1.1zM198.3 172.9h1.1v1.1h-1.1zM165.5 195.5h1.1v1.1h-1.1zM173.6 170.1h1.1v1.1h-1.1zM158.1 192.8h1.1v1.1h-1.1zM172.1 183.1h1.1v1.1h-1.1zM164.9 184.8h1.1v1.1h-1.1zM154.8 200.3h1.1v1.1h-1.1zM147.9 184.1h1.1v1.1h-1.1zM156.2 215.9h1.1v1.1h-1.1zM192.5 168.7h1.1v1.1h-1.1zM175.8 210.2h1.1v1.1h-1.1zM187.5 164.2h1.1v1.1h-1.1zM195.6 169.5h1.1v1.1h-1.1zM208.0 176.1h1.1v1.1h-1.1zM175.5 187.3h1.1v1.1h-1.1zM177.4 190.4h1.1v1.1h-1.1zM204.8 177.1h1.1v1.1h-1.1zM162.1 159.6h1.1v1.1h-1.1zM146.1 179.8h1.1v1.1h-1.1zM160.8 175.6h1.1v1.1h-1.1zM185.1 190.1h1.1v1.1h-1.1zM182.2 182.1h1.1v1.1h-1.1zM183.2 190.7h1.1v1.1h-1.1zM172.8 193.4h1.1v1.1h-1.1zM182.0 189.5h1.1v1.1h-1.1zM186.3 188.9h1.1v1.1h-1.1zM201.2 172.8h1.1v1.1h-1.1zM184.7 170.3h1.1v1.1h-1.1zM151.9 179.1h1.1v1.1h-1.1zM184.1 167.7h1.1v1.1h-1.1zM192.4 159.0h1.1v1.1h-1.1zM200.7 173.9h1.1v1.1h-1.1zM192.3 158.6h1.1v1.1h-1.1zM196.2 171.2h1.1v1.1h-1.1zM153.6 180.5h1.1v1.1h-1.1zM152.2 166.6h1.1v1.1h-1.1zM213.6 178.5h1.1v1.1h-1.1zM203.3 153.8h1.1v1.1h-1.1zM202.5 192.4h1.1v1.1h-1.1zM140.1 188.3h1.1v1.1h-1.1zM147.7 188.1h1.1v1.1h-1.1zM150.7 184.8h1.1v1.1h-1.1zM149.2 164.0h1.1v1.1h-1.1zM166.2 164.0h1.1v1.1h-1.1zM161.7 188.6h1.1v1.1h-1.1zM148.9 173.8h1.1v1.1h-1.1zM168.3 157.0h1.1v1.1h-1.1zM186.4 162.3h1.1v1.1h-1.1zM208.6 185.0h1.1v1.1h-1.1zM188.1 186.1h1.1v1.1h-1.1zM200.0 146.0h1.1v1.1h-1.1zM186.3 183.1h1.1v1.1h-1.1zM149.8 191.9h1.1v1.1h-1.1zM148.0 182.3h1.1v1.1h-1.1zM148.8 192.6h1.1v1.1h-1.1zM188.3 160.8h1.1v1.1h-1.1zM197.8 171.9h1.1v1.1h-1.1zM192.9 180.6h1.1v1.1h-1.1zM206.6 158.5h1.1v1.1h-1.1zM198.9 205.2h1.1v1.1h-1.1zM148.1 182.6h1.1v1.1h-1.1zM157.0 195.4h1.1v1.1h-1.1zM165.4 198.7h1.1v1.1h-1.1zM184.4 191.8h1.1v1.1h-1.1zM149.1 190.1h1.1v1.1h-1.1zM176.1 188.3h1.1v1.1h-1.1zM161.4 198.1h1.1v1.1h-1.1zM191.5 181.3h1.1v1.1h-1.1z"/>
<path fill="rgb(85, 95, 205)" d="M124.1 212.5h1.1v1.1h-1.1zM119.3 232.4h1.1v1.1h-1.1zM121.8 216.8h1.1v1.1h-1.1zM118.2 132.8h1.1v1.1h-1.1zM111.2 189.4h1.1v1.1h-1.1zM121.6 236.9h1.1v1.1h-1.1zM101.9 179.5h1.1v1.1h-1.1zM115.5 220.1h1.1v1.1h-1.1zM102.4 188.2h1.1v1.1h-1.1zM178.3 226.0h1.1v1.1h-1.1zM123.1 231.5h1.1v1.1h-1.1zM105.0 245.6h1.1v1.1h-1.1zM96.0 218.2h1.1v1.1h-1.1zM93.1 198.5h1.1v1.1h-1.1zM137.7 229.8h1.1v1.1h-1.1zM190.4 229.5h1.1v1.1h-1.1zM125.8 209.1h1.1v1.1h-1.1zM84.4 149.8h1.1v1.1h-1.1zM133.4 253.8h1.1v1.1h-1.1zM108.8 207.3h1.1v1.1h-1.1zM120.8 220.5h1.1v1.1h-1.1zM158.8 217.5h1.1v1.1h-1.1zM96.3 201.2h1.1v1.1h-1.1zM128.7 231.7h1.1v1.1h-1.1zM116.8 218.9h1.1v1.1h-1.1zM84.6 171.2h1.1v1.1h-1.1zM117.5 253.3h1.1v1.1h-1.1zM132.6 239.5h1.1v1.1h-1.1zM109.2 191.8h1.1v1.1h-1.1zM116.6 192.0h1.1v1.1h-1.1zM100.0 181.0h1.1v1.1h-1.1zM102.4 195.0h1.1v1.1h-1.1zM107.0 204.3h1.1v1.1h-1.1zM94.6 194.3h1.1v1.1h-1.1zM96.7 175.3h1.1v1.1h-1.1zM168.0 214.4h1.1v1.1h-1.1zM119.1 224.8h1.1v1.1h-1.1zM119.3 245.7h1.1v1.1h-1.1zM125.6 224.8h1.1v1.1h-1.1zM123.7 210.5h1.1v1.1h-1.1zM108.0 227.1h1.1v1.1h-1.1zM102.1 234.9h1.1v1.1h-1.1zM101.8 239.9h1.1v1.1h-1.1zM100.5 181.3h1.1v1.1h-1.1zM89.8 188.1h1.1v1.1h-1.1zM105.6 198.0h1.1v1.1h-1.1zM100.0 208.8h1.1v1.1h-1.1zM98.6 156.6h1.1v1.1h-1.1zM96.1 204.4h1.1v1.1h-1.1zM108.6 193.8h1.1v1.1h-1.1zM101.8 209.0h1.1v1.1h-1.1zM81.1 192.5h1.1v1.1h-1.1zM144.4 232.3h1.1v1.1h-1.1zM78.4 155.9h1.1v1.1h-1.1zM101.9 190.4h1.1v1.1h-1.1zM111.8 197.2h1.1v1.1h-1.1zM112.8 200.8h1.1v1.1h-1.1zM164.2 241.5h1.1v1.1h-1.1zM126.9 228.9h1.1v1.1h-1.1zM121.6 225.4h1.1v1.1h-1.1zM123.7 210.1h1.1v1.1h-1.1zM110.5 216.0h1.1v1.1h-1.1zM105.5 199.1h1.1v1.1h-1.1zM78.1 180.9h1.1v1.1h-1.1zM100.9 191.2h1.1v1.1h-1.1zM157.2 241.2h1.1v1.1h-1.1zM125.2 228.4h1.1v1.1h-1.1zM98.5 193.0h1.1v1.1h-1.1zM106.2 206.2h1.1v1.1h-1.1zM175.3 223.5h1.1v1.1h-1.1zM132.5 218.5h1.1v1.1h-1.1zM116.4 194.9h1.1v1.1h-1.1zM88.3 211.3h1.1v1.1h-1.1zM108.4 210.7h1.1v1.1h-1.1zM121.6 238.7h1.1v1.1h-1.1zM125.8 212.8h1.1v1.1h-1.1zM118.9 250.3h1.1v1.1h-1.1zM123.6 225.4h1.1v1.1h-1.1zM129.8 205.0h1.1v1.1h-1.1zM125.5 224.5h1.1v1.1h-1.1zM112.7 208.1h1.1v1.1h-1.1zM122.1 223.8h1.1v1.1h-1.1zM77.9 185.0h1.1v1.1h-1.1zM122.5 232.5h1.1v1.1h-1.1zM113.9 218.8h1.1v1.1h-1.1zM150.9 225.4h1.1v1.1h-1.1zM123.3 222.1h1.1v1.1h-1.1zM131.4 213.1h1.1v1.1h-1.1zM106.1 225.5h1.1v1.1h-1.1zM104.0 195.5h1.1v1.1h-1.1zM120.8 223.8h1.1v1.1h-1.1zM114.9 212.2h1.1v1.1h-1.1zM89.5 186.6h1.1v1.1h-1.1zM84.9 210.2h1.1v1.1h-1.1zM119.4 214.1h1.1v1.1h-1.1zM119.2 224.6h1.1v1.1h-1.1zM110.7 248.4h1.1v1.1h-1.1zM96.6 197.7h1.1v1.1h-1.1zM126.5 222.2h1.1v1.1h-1.1zM112.2 203.4h1.1v1.1h-1.1zM127.3 232.7h1.1v1.1h-1.1zM127.2 229.3h1.1v1.1h-1.1zM88.7 197.4h1.1v1.1h-1.1zM99.2 198.8h1.1v1.1h-1.1zM141.9 212.1h1.1v1.1h-1.1zM111.9 154.7h1.1v1.1h-1.1zM112.1 203.8h1.1v1.1h-1.1zM93.1 188.3h1.1v1.1h-1.1zM95.6 203.6h1.1v1.1h-1.1zM90.3 165.7h1.1v1.1h-1.1zM129.1 245.6h1.1v1.1h-1.1zM135.2 226.9h1.1v1.1h-1.1zM113.5 199.0h1.1v1.1h-1.1zM133.3 222.5h1.1v1.1h-1.1zM120.8 198.1h1.1v1.1h-1.1zM107.5 191.0h1.1v1.1h-1.1zM112.4 234.6h1.1v1.1h-1.1zM114.7 207.7h1.1v1.1h-1.1zM123.7 224.0h1.1v1.1h-1.1zM130.6 229.3h1.1v1.1h-1.1zM120.6 218.8h1.1v1.1h-1.1zM132.2 225.3h1.1v1.1h-1.1zM113.9 195.1h1.1v1.1h-1.1zM91.2 193.9h1.1v1.1h-1.1zM143.9 252.9h1.1v1.1h-1.1zM129.5 239.1h1.1v1.1h-1.1zM93.2 177.4h1.1v1.1h-1.1zM116.5 205.4h1.1v1.1h-1.1zM110.6 190.0h1.1v1.1h-1.1zM103.0 214.5h1.1v1.1h-1.1zM108.3 171.7h1.1v1.1h-1.1zM123.7 230.7h1.1v1.1h-1.1zM106.4 196.4h1.1v1.1h-1.1zM125.9 220.3h1.1v1.1h-1.1zM110.6 193.6h1.1v1.1h-1.1zM116.0 238.5h1.1v1.1h-1.1zM124.2 237.1h1.1v1.1h-1.1zM127.5 213.2h1.1v1.1h-1.1zM121.9 232.6h1.1v1.1h-1.1zM119.8 220.2h1.1v1.1h-1.1zM103.0 241.2h1.1v1.1h-1.1zM124.2 234.9h1.1v1.1h-1.1zM124.6 235.2h1.1v1.1h-1.1zM87.8 194.7h1.1v1.1h-1.1zM111.1 185.4h1.1v1.1h-1.1zM111.1 197.4h1.1v1.1h-1.1zM183.0 229.5h1.1v1.1h-1.1zM117.7 188.9h1.1v1.1h-1.1zM125.1 230.0h1.1v1.1h-1.1zM102.8 244.4h1.1v1.1h-1.1zM128.3 205.4h1.1v1.1h-1.1zM139.3 219.4h1.1v1.1h-1.1zM102.3 190.2h1.1v1.1h-1.1zM138.1 227.8h1.1v1.1h-1.1zM104.6 189.9h1.1v1.1h-1.1zM152.7 219.0h1.1v1.1h-1.1zM104.2 199.7h1.1v1.1h-1.1zM131.5 227.5h1.1v1.1h-1.1zM89.8 205.3h1.1v1.1h-1.1zM120.1 186.9h1.1v1.1h-1.1zM219.9 240.8h1.1v1.1h-1.1zM95.2 249.2h1.1v1.1h-1.1zM100.1 181.8h1.1v1.1h-1.1zM215.3 242.8h1.1v1.1h-1.1zM116.0 211.6h1.1v1.1h-1.1zM100.9 227.4h1.1v1.1h-1.1zM128.6 218.2h1.1v1.1h-1.1zM91.9 197.2h1.1v1.1h-1.1zM131.8 220.0h1.1v1.1h-1.1zM102.2 192.2h1.1v1.1h-1.1zM116.1 249.8h1.1v1.1h-1.1zM109.3 216.0h1.1v1.1h-1.1zM95.6 208.1h1.1v1.1h-1.1zM113.8 203.3h1.1v1.1h-1.1zM163.3 227.1h1.1v1.1h-1.1zM125.5 232.3h1.1v1.1h-1.1zM126.7 219.3h1.1v1.1h-1.1zM130.2 208.5h1.1v1.1h-1.1zM199.0 237.8h1.1v1.1h-1.1zM205.6 210.8h1.1v1.1h-1.1zM122.1 235.0h1.1v1.1h-1.1zM118.5 237.5h1.1v1.1h-1.1zM120.4 218.6h1.1v1.1h-1.1zM130.5 249.8h1.1v1.1h-1.1zM122.3 223.5h1.1v1.1h-1.1zM218.8 219.6h1.1v1.1h-1.1zM130.5 250.5h1.1v1.1h-1.1zM221.0 214.0h1.1v1.1h-1.1zM104.6 207.4h1.1v1.1h-1.1zM100.7 235.1h1.1v1.1h-1.1zM111.5 199.1h1.1v1.1h-1.1zM112.0 227.9h1.1v1.1h-1.1zM84.0 195.3h1.1v1.1h-1.1zM122.4 207.8h1.1v1.1h-1.1zM101.1 201.7h1.1v1.1h-1.1zM116.0 243.2h1.1v1.1h-1.1zM170.7 257.4h1.1v1.1h-1.1zM97.1 185.8h1.1v1.1h-1.1zM105.5 226.8h1.1v1.1h-1.1zM123.7 252.3h1.1v1.1h-1.1zM222.9 211.2h1.1v1.1h-1.1zM103.0 197.2h1.1v1.1h-1.1zM81.1 180.4h1.1v1.1h-1.1zM219.3 231.7h1.1v1.1h-1.1zM133.2 235.4h1.1v1.1h-1.1zM108.9 205.5h1.1v1.1h-1.1zM117.9 207.1h1.1v1.1h-1.1zM120.3 244.7h1.1v1.1h-1.1zM99.8 206.5h1.1v1.1h-1.1zM101.2 197.1h1.1v1.1h-1.1zM99.8 218.8h1.1v1.1h-1.1zM81.0 171.7h1.1v1.1h-1.1zM121.8 255.5h1.1v1.1h-1.1zM85.6 213.0h1.1v1.1h-1.1zM128.9 229.1h1.1v1.1h-1.1zM111.7 237.1h1.1v1.1h-1.1zM130.9 224.5h1.1v1.1h-1.1zM110.3 204.8h1.1v1.1h-1.1zM133.5 229.1h1.1v1.1h-1.1zM109.6 245.9h1.1v1.1h-1.1zM105.7 200.5h1.1v1.1h-1.1zM129.4 184.4h1.1v1.1h-1.1zM116.0 220.7h1.1v1.1h-1.1zM105.9 191.6h1.1v1.1h-1.1zM87.2 134.0h1.1v1.1h-1.1zM116.5 227.6h1.1v1.1h-1.1zM118.8 208.3h1.1v1.1h-1.1zM109.9 161.4h1.1v1.1h-1.1zM120.3 140.0h1.1v1.1h-1.1zM193.4 253.9h1.1v1.1h-1.1zM88.8 184.3h1.1v1.1h-1.1zM99.2 180.9h1.1v1.1h-1.1zM97.2 192.1h1.1v1.1h-1.1zM103.6 211.3h1.1v1.1h-1.1zM108.7 183.3h1.1v1.1h-1.1zM109.0 244.9h1.1v1.1h-1.1zM126.3 219.0h1.1v1.1h-1.1zM144.5 236.5h1.1v1.1h-1.1zM118.1 219.0h1.1v1.1h-1.1zM108.0 192.6h1.1v1.1h-1.1zM110.0 199.6h1.1v1.1h-1.1zM116.7 223.7h1.1v1.1h-1.1zM110.2 191.3h1.1v1.1h-1.1zM105.6 246.2h1.1v1.1h-1.1zM119.1 226.1h1.1v1.1h-1.1zM173.7 240.1h1.1v1.1h-1.1zM125.8 230.1h1.1v1.1h-1.1zM101.1 181.4h1.1v1.1h-1.1zM190.9 220.5h1.1v1.1h-1.1zM97.1 197.2h1.1v1.1h-1.1zM125.0 216.4h1.1v1.1h-1.1zM95.3 204.4h1.1v1.1h-1.1zM130.0 226.0h1.1v1.1h-1.1zM107.6 195.7h1.1v1.1h-1.1zM87.0 172.2h1.1v1.1h-1.1zM124.6 209.6h1.1v1.1h-1.1zM100.9 201.6h1.1v1.1h-1.1zM103.0 190.5h1.1v1.1h-1.1zM93.7 188.6h1.1v1.1h-1.1zM116.6 210.0h1.1v1.1h-1.1zM96.7 213.0h1.1v1.1h-1.1zM114.0 198.5h1.1v1.1h-1.1zM112.0 202.5h1.1v1.1h-1.1zM120.5 245.5h1.1v1.1h-1.1zM111.8 195.8h1.1v1.1h-1.1zM132.0 212.2h1.1v1.1h-1.1zM172.9 240.8h1.1v1.1h-1.1zM101.3 238.9h1.1v1.1h-1.1zM111.5 202.3h1.1v1.1h-1.1zM97.7 204.1h1.1v1.1h-1.1zM177.1 241.6h1.1v1.1h-1.1zM123.8 221.2h1.1v1.1h-1.1zM76.0 202.2h1.1v1.1h-1.1zM120.5 217.8h1.1v1.1h-1.1zM115.1 245.4h1.1v1.1h-1.1zM107.0 196.9h1.1v1.1h-1.1zM126.6 227.8h1.1v1.1h-1.1zM111.2 220.3h1.1v1.1h-1.1zM108.2 229.7h1.1v1.1h-1.1zM136.8 256.9h1.1v1.1h-1.1zM105.3 240.5h1.1v1.1h-1.1zM176.0 227.5h1.1v1.1h-1.1zM105.7 209.8h1.1v1.1h-1.1zM124.7 226.4h1.1v1.1h-1.1zM137.7 223.2h1.1v1.1h-1.1zM99.9 227.4h1.1v1.1h-1.1zM85.5 194.5h1.1v1.1h-1.1zM104.4 231.4h1.1v1.1h-1.1zM117.1 252.0h1.1v1.1h-1.1zM134.7 231.2h1.1v1.1h-1.1zM125.1 249.4h1.1v1.1h-1.1zM135.8 240.4h1.1v1.1h-1.1zM123.4 219.6h1.1v1.1h-1.1zM103.9 244.5h1.1v1.1h-1.1zM107.3 194.1h1.1v1.1h-1.1zM107.5 199.7h1.1v1.1h-1.1zM115.7 213.8h1.1v1.1h-1.1zM107.5 218.4h1.1v1.1h-1.1zM122.5 245.4h1.1v1.1h-1.1zM114.1 193.4h1.1v1.1h-1.1zM104.9 186.2h1.1v1.1h-1.1zM125.9 225.8h1.1v1.1h-1.1zM212.6 207.7h1.1v1.1h-1.1zM116.3 250.9h1.1v1.1h-1.1zM102.3 195.2h1.1v1.1h-1.1zM90.9 205.5h1.1v1.1h-1.1zM97.3 195.0h1.1v1.1h-1.1zM108.1 202.1h1.1v1.1h-1.1zM116.2 195.1h1.1v1.1h-1.1zM125.4 227.1h1.1v1.1h-1.1zM76.7 206.4h1.1v1.1h-1.1zM111.2 205.2h1.1v1.1h-1.1zM114.4 222.9h1.1v1.1h-1.1zM120.3 194.2h1.1v1.1h-1.1zM135.0 212.6h1.1v1.1h-1.1zM119.2 191.6h1.1v1.1h-1.1zM220.6 243.4h1.1v1.1h-1.1zM97.5 188.5h1.1v1.1h-1.1zM79.3 190.7h1.1v1.1h-1.1zM105.9 187.3h1.1v1.1h-1.1zM75.4 182.1h1.1v1.1h-1.1zM101.2 244.8h1.1v1.1h-1.1zM92.1 243.4h1.1v1.1h-1.1zM127.9 244.3h1.1v1.1h-1.1zM119.8 220.0h1.1v1.1h-1.1zM200.7 229.0h1.1v1.1h-1.1zM129.3 216.1h1.1v1.1h-1.1zM101.6 243.8h1.1v1.1h-1.1zM130.5 218.4h1.1v1.1h-1.1zM122.7 226.7h1.1v1.1h-1.1zM194.1 241.8h1.1v1.1h-1.1zM123.7 194.9h1.1v1.1h-1.1zM157.2 215.3h1.1v1.1h-1.1zM93.4 194.7h1.1v1.1h-1.1zM99.7 181.5h1.1v1.1h-1.1zM137.0 227.4h1.1v1.1h-1.1zM118.4 230.1h1.1v1.1h-1.1zM101.1 232.9h1.1v1.1h-1.1zM182.8 222.0h1.1v1.1h-1.1zM218.1 226.8h1.1v1.1h-1.1zM106.2 199.3h1.1v1.1h-1.1zM110.7 199.3h1.1v1.1h-1.1zM113.1 212.6h1.1v1.1h-1.1zM80.7 171.6h1.1v1.1h-1.1zM102.1 212.3h1.1v1.1h-1.1zM201.4 228.0h1.1v1.1h-1.1zM214.9 245.6h1.1v1.1h-1.1zM130.5 252.4h1.1v1.1h-1.1zM85.2 224.6h1.1v1.1h-1.1zM112.9 225.1h1.1v1.1h-1.1zM101.5 199.2h1.1v1.1h-1.1zM111.3 247.8h1.1v1.1h-1.1zM161.1 246.8h1.1v1.1h-1.1zM187.7 232.7h1.1v1.1h-1.1zM86.8 181.0h1.1v1.1h-1.1zM97.6 193.7h1.1v1.1h-1.1zM83.0 207.3h1.1v1.1h-1.1zM118.8 241.1h1.1v1.1h-1.1zM110.9 180.6h1.1v1.1h-1.1zM113.3 225.3h1.1v1.1h-1.1zM111.4 204.0h1.1v1.1h-1.1zM111.6 232.9h1.1v1.1h-1.1zM108.3 217.2h1.1v1.1h-1.1zM121.7 211.7h1.1v1.1h-1.1zM117.1 233.3h1.1v1.1h-1.1zM181.9 227.1h1.1v1.1h-1.1zM114.7 197.5h1.1v1.1h-1.1zM122.6 211.4h1.1v1.1h-1.1zM99.4 205.4h1.1v1.1h-1.1zM150.5 221.3h1.1v1.1h-1.1zM93.5 173.2h1.1v1.1h-1.1zM125.3 211.0h1.1v1.1h-1.1zM163.9 217.9h1.1v1.1h-1.1zM123.0 224.2h1.1v1.1h-1.1zM112.6 239.3h1.1v1.1h-1.1zM191.3 236.0h1.1v1.1h-1.1zM116.8 206.3h1.1v1.1h-1.1zM193.9 214.5h1.1v1.1h-1.1zM138.1 209.3h1.1v1.1h-1.1zM112.8 175.6h1.1v1.1h-1.1zM125.5 213.2h1.1v1.1h-1.1zM89.3 170.2h1.1v1.1h-1.1zM116.7 220.5h1.1v1.1h-1.1zM103.0 248.8h1.1v1.1h-1.1zM135.9 212.6h1.1v1.1h-1.1zM123.3 220.6h1.1v1.1h-1.1zM111.6 233.9h1.1v1.1h-1.1zM103.5 200.5h1.1v1.1h-1.1zM126.2 247.0h1.1v1.1h-1.1zM221.0 219.3h1.1v1.1h-1.1zM97.1 202.1h1.1v1.1h-1.1zM125.2 207.7h1.1v1.1h-1.1zM114.0 229.9h1.1v1.1h-1.1zM110.8 175.8h1.1v1.1h-1.1zM110.1 197.2h1.1v1.1h-1.1zM123.3 254.2h1.1v1.1h-1.1zM120.8 236.7h1.1v1.1h-1.1zM77.4 201.9h1.1v1.1h-1.1zM115.3 249.0h1.1v1.1h-1.1zM87.5 178.4h1.1v1.1h-1.1zM119.1 237.0h1.1v1.1h-1.1zM121.0 230.5h1.1v1.1h-1.1zM109.4 207.0h1.1v1.1h-1.1zM117.1 200.5h1.1v1.1h-1.1zM110.4 252.4h1.1v1.1h-1.1zM124.0 189.8h1.1v1.1h-1.1zM100.4 244.8h1.1v1.1h-1.1zM117.7 205.5h1.1v1.1h-1.1zM115.3 236.7h1.1v1.1h-1.1zM131.4 200.9h1.1v1.1h-1.1zM134.1 235.5h1.1v1.1h-1.1zM208.3 228.1h1.1v1.1h-1.1zM92.0 189.3h1.1v1.1h-1.1zM96.1 205.4h1.1v1.1h-1.1zM127.8 231.6h1.1v1.1h-1.1zM166.1 217.4h1.1v1.1h-1.1zM139.2 234.6h1.1v1.1h-1.1zM117.7 241.1h1.1v1.1h-1.1zM184.3 211.8h1.1v1.1h-1.1zM97.5 198.7h1.1v1.1h-1.1zM100.2 201.7h1.1v1.1h-1.1zM121.9 220.1h1.1v1.1h-1.1zM115.4 221.2h1.1v1.1h-1.1zM117.5 229.2h1.1v1.1h-1.1zM115.9 191.9h1.1v1.1h-1.1zM114.1 223.8h1.1v1.1h-1.1zM122.8 236.3h1.1v1.1h-1.1zM91.9 176.5h1.1v1.1h-1.1zM109.4 182.5h1.1v1.1h-1.1zM131.7 211.7h1.1v1.1h-1.1zM112.2 203.8h1.1v1.1h-1.1zM110.2 197.8h1.1v1.1h-1.1zM125.0 229.6h1.1v1.1h-1.1zM218.2 246.2h1.1v1.1h-1.1zM100.0 214.6h1.1v1.1h-1.1zM80.2 189.1h1.1v1.1h-1.1zM77.8 190.9h1.1v1.1h-1.1zM110.7 230.8h1.1v1.1h-1.1zM131.5 220.8h1.1v1.1h-1.1zM81.5 209.2h1.1v1.1h-1.1zM137.2 246.8h1.1v1.1h-1.1zM122.9 222.2h1.1v1.1h-1.1zM100.5 191.6h1.1v1.1h-1.1zM114.8 232.1h1.1v1.1h-1.1zM133.7 230.0h1.1v1.1h-1.1zM115.4 209.1h1.1v1.1h-1.1zM116.9 253.7h1.1v1.1h-1.1zM185.8 210.5h1.1v1.1h-1.1zM120.2 232.4h1.1v1.1h-1.1zM154.5 221.5h1.1v1.1h-1.1zM110.6 204.3h1.1v1.1h-1.1zM131.1 208.8h1.1v1.1h-1.1zM101.0 229.2h1.1v1.1h-1.1zM111.4 206.5h1.1v1.1h-1.1zM83.7 197.8h1.1v1.1h-1.1zM107.9 240.0h1.1v1.1h-1.1zM123.1 215.5h1.1v1.1h-1.1zM189.6 231.8h1.1v1.1h-1.1zM200.1 217.8h1.1v1.1h-1.1zM90.1 223.0h1.1v1.1h-1.1zM165.2 211.9h1.1v1.1h-1.1zM139.2 215.8h1.1v1.1h-1.1zM120.9 239.5h1.1v1.1h-1.1zM191.1 233.5h1.1v1.1h-1.1zM123.9 257.5h1.1v1.1h-1.1zM112.4 195.1h1.1v1.1h-1.1zM112.4 245.8h1.1v1.1h-1.1zM125.9 239.9h1.1v1.1h-1.1zM188.2 231.0h1.1v1.1h-1.1zM88.4 203.6h1.1v1.1h-1.1zM102.6 242.4h1.1v1.1h-1.1zM157.1 229.4h1.1v1.1h-1.1zM124.5 223.2h1.1v1.1h-1.1zM112.7 198.4h1.1v1.1h-1.1zM91.7 175.6h1.1v1.1h-1.1zM132.9 239.6h1.1v1.1h-1.1zM130.7 231.0h1.1v1.1h-1.1zM96.2 215.7h1.1v1.1h-1.1zM75.2 189.3h1.1v1.1h-1.1zM116.0 215.0h1.1v1.1h-1.1zM194.1 219.9h1.1v1.1h-1.1zM109.2 207.1h1.1v1.1h-1.1zM112.0 253.0h1.1v1.1h-1.1zM131.0 186.6h1.1v1.1h-1.1zM94.3 185.3h1.1v1.1h-1.1zM135.0 219.3h1.1v1.1h-1.1zM123.5 226.4h1.1v1.1h-1.1zM150.5 211.8h1.1v1.1h-1.1zM132.9 227.5h1.1v1.1h-1.1zM103.4 203.3h1.1v1.1h-1.1z"/>
<path fill="rgb(110, 190, 80)" d="M162.0 179.2h1.1v1.1h-1.1zM175.4 187.4h1.1v1.1h-1.1zM180.9 177.8h1.1v1.1h-1.1zM162.5 184.4h1.1v1.1h-1.1zM161.3 175.3h1.1v1.1h-1.1zM180.1 186.9h1.1v1.1h-1.1zM160.6 177.3h1.1v1.1h-1.1zM188.9 190.6h1.1v1.1h-1.1zM168.2 173.9h1.1v1.1h-1.1zM174.5 179.4h1.1v1.1h-1.1zM176.4 182.8h1.1v1.1h-1.1zM172.1 180.7h1.1v1.1h-1.1zM168.9 185.0h1.1v1.1h-1.1zM176.3 173.7h1.1v1.1h-1.1zM179.3 172.5h1.1v1.1h-1.1zM167.0 186.1h1.1v1.1h-1.1zM188.8 180.6h1.1v1.1h-1.1zM179.6 172.4h1.1v1.1h-1.1zM164.3 182.6h1.1v1.1h-1.1zM176.8 179.7h1.1v1.1h-1.1zM175.9 178.1h1.1v1.1h-1.1zM179.5 177.5h1.1v1.1h-1.1zM183.1 176.4h1.1v1.1h-1.1zM166.3 182.2h1.1v1.1h-1.1zM157.6 174.9h1.1v1.1h-1.1zM178.5 178.4h1.1v1.1h-1.1zM187.7 180.6h1.1v1.1h-1.1zM174.6 177.6h1.1v1.1h-1.1zM156.8 190.6h1.1v1.1h-1.1zM185.0 170.0h1.1v1.1h-1.1zM181.1 183.8h1.1v1.1h-1.1zM172.6 179.0h1.1v1.1h-1.1zM155.8 198.4h1.1v1.1h-1.1zM168.4 184.8h1.1v1.1h-1.1zM175.3 173.7h1.1v1.1h-1.1zM170.5 176.5h1.1v1.1h-1.1zM174.0 181.8h1.1v1.1h-1.1zM190.8 177.9h1.1v1.1h-1.1zM166.3 184.4h1.1v1.1h-1.1zM168.7 170.9h1.1v1.1h-1.1zM172.8 178.0h1.1v1.1h-1.1zM156.0 181.5h1.1v1.1h-1.1zM164.1 181.4h1.1v1.1h-1.1zM177.0 175.3h1.1v1.1h-1.1zM166.7 173.0h1.1v1.1h-1.1zM175.7 188.1h1.1v1.1h-1.1zM145.0 179.7h1.1v1.1h-1.1zM164.7 182.4h1.1v1.1h-1.1zM182.9 159.4h1.1v1.1h-1.1zM148.9 190.2h1.1v1.1h-1.1zM157.1 181.0h1.1v1.1h-1.1zM160.8 182.3h1.1v1.1h-1.1zM170.2 180.3h1.1v1.1h-1.1zM180.8 180.5h1.1v1.1h-1.1zM179.9 183.4h1.1v1.1h-1.1zM163.4 181.5h1.1v1.1h-1.1zM163.0 186.5h1.1v1.1h-1.1zM133.7 183.3h1.1v1.1h-1.1zM202.8 185.2h1.1v1.1h-1.1zM185.0 179.2h1.1v1.1h-1.1zM169.9 182.0h1.1v1.1h-1.1zM179.6 172.9h1.1v1.1h-1.1zM169.6 183.1h1.1v1.1h-1.1zM158.2 182.3h1.1v1.1h-1.1zM191.7 170.0h1.1v1.1h-1.1zM178.9 180.1h1.1v1.1h-1.1zM162.8 175.0h1.1v1.1h-1.1zM173.1 181.7h1.1v1.1h-1.1zM171.1 183.4h1.1v1.1h-1.1zM180.4 175.8h1.1v1.1h-1.1zM190.5 181.8h1.1v1.1h-1.1zM184.1 168.6h1.1v1.1h-1.1zM172.2 177.8h1.1v1.1h-1.1zM183.6 174.7h1.1v1.1h-1.1zM184.7 170.5h1.1v1.1h-1.1zM179.9 175.1h1.1v1.1h-1.1zM160.3 179.8h1.1v1.1h-1.1zM181.4 186.8h1.1v1.1h-1.1zM184.1 163.8h1.1v1.1h-1.1zM177.6 177.1h1.1v1.1h-1.1zM189.1 170.4h1.1v1.1h-1.1zM165.0 181.9h1.1v1.1h-1.1zM179.6 176.5h1.1v1.1h-1.1zM167.9 183.5h1.1v1.1h-1.1zM169.7 173.6h1.1v1.1h-1.1zM170.7 183.8h1.1v1.1h-1.1zM173.8 179.9h1.1v1.1h-1.1zM176.8 173.5h1.1v1.1h-1.1zM158.2 184.6h1.1v1.1h-1.1zM185.0 183.3h1.1v1.1h-1.1zM171.5 181.5h1.1v1.1h-1.1zM175.2 177.5h1.1v1.1h-1.1zM185.8 174.6h1.1v1.1h-1.1zM162.3 179.5h1.1v1.1h-1.1zM163.0 181.9h1.1v1.1h-1.1zM177.1 194.1h1.1v1.1h-1.1zM134.7 135.1h1.1v1.1h-1.1zM192.8 177.7h1.1v1.1h-1.1zM191.9 175.8h1.1v1.1h-1.1zM176.5 182.7h1.1v1.1h-1.1zM158.2 181.9h1.1v1.1h-1.1zM175.2 184.7h1.1v1.1h-1.1zM169.4 184.3h1.1v1.1h-1.1zM170.2 178.1h1.1v1.1h-1.1zM169.0 183.9h1.1v1.1h-1.1zM160.5 178.6h1.1v1.1h-1.1zM165.7 180.6h1.1v1.1h-1.1zM201.6 180.6h1.1v1.1h-1.1zM168.1 182.9h1.1v1.1h-1.1zM188.5 169.0h1.1v1.1h-1.1zM180.7 179.8h1.1v1.1h-1.1zM185.6 178.8h1.1v1.1h-1.1zM176.5 172.9h1.1v1.1h-1.1zM157.3 185.3h1.1v1.1h-1.1zM179.6 177.0h1.1v1.1h-1.1zM177.7 180.6h1.1v1.1h-1.1zM173.7 186.7h1.1v1.1h-1.1zM175.6 181.3h1.1v1.1h-1.1zM187.4 173.9h1.1v1.1h-1.1zM164.2 181.6h1.1v1.1h-1.1zM164.6 182.3h1.1v1.1h-1.1zM180.2 176.3h1.1v1.1h-1.1zM177.8 177.8h1.1v1.1h-1.1zM166.5 183.2h1.1v1.1h-1.1zM169.2 176.4h1.1v1.1h-1.1zM172.1 182.7h1.1v1.1h-1.1zM166.3 178.8h1.1v1.1h-1.1zM178.1 185.2h1.1v1.1h-1.1zM171.8 175.9h1.1v1.1h-1.1zM175.8 182.6h1.1v1.1h-1.1zM165.4 188.0h1.1v1.1h-1.1zM190.5 202.2h1.1v1.1h-1.1zM192.6 178.4h1.1v1.1h-1.1zM182.2 172.9h1.1v1.1h-1.1zM182.2 174.7h1.1v1.1h-1.1zM170.9 174.5h1.1v1.1h-1.1zM172.3 185.6h1.1v1.1h-1.1zM191.4 173.0h1.1v1.1h-1.1zM157.8 180.5h1.1v1.1h-1.1zM186.4 174.2h1.1v1.1h-1.1zM167.1 182.4h1.1v1.1h-1.1zM176.9 183.4h1.1v1.1h-1.1zM180.4 176.2h1.1v1.1h-1.1zM162.4 185.3h1.1v1.1h-1.1zM181.5 181.7h1.1v1.1h-1.1zM168.0 177.9h1.1v1.1h-1.1zM159.5 186.6h1.1v1.1h-1.1zM154.2 178.4h1.1v1.1h-1.1zM189.2 179.5h1.1v1.1h-1.1zM156.4 179.0h1.1v1.1h-1.1zM188.8 173.3h1.1v1.1h-1.1zM174.7 181.1h1.1v1.1h-1.1zM167.0 182.6h1.1v1.1h-1.1zM172.3 180.3h1.1v1.1h-1.1zM178.0 178.3h1.1v1.1h-1.1z"/>
<path fill="rgb(60, 155, 160)" d="M164.1 174.6h1.1v1.1h-1.1zM194.8 166.3h1.1v1.1h-1.1zM170.0 174.8h1.1v1.1h-1.1zM168.2 186.1h1.1v1.1h-1.1zM165.4 173.6h1.1v1.1h-1.1zM176.8 177.2h1.1v1.1h-1.1zM179.7 174.3h1.1v1.1h-1.1zM178.2 172.5h1.1v1.1h-1.1zM178.0 175.4h1.1v1.1h-1.1zM159.2 187.8h1.1v1.1h-1.1zM179.7 182.8h1.1v1.1h-1.1zM189.7 171.0h1.1v1.1h-1.1zM211.2 145.2h1.1v1.1h-1.1zM181.9 193.9h1.1v1.1h-1.1zM167.1 172.9h1.1v1.1h-1.1zM180.7 189.1h1.1v1.1h-1.1zM161.1 184.4h1.1v1.1h-1.1zM194.4 175.9h1.1v1.1h-1.1zM175.0 185.5h1.1v1.1h-1.1zM214.7 187.8h1.1v1.1h-1.1zM222.8 152.1h1.1v1.1h-1.1zM177.3 190.8h1.1v1.1h-1.1zM186.9 183.8h1.1v1.1h-1.1zM169.5 196.6h1.1v1.1h-1.1zM165.4 182.6h1.1v1.1h-1.1zM173.5 184.3h1.1v1.1h-1.1zM159.7 181.1h1.1v1.1h-1.1zM214.0 186.0h1.1v1.1h-1.1zM161.5 161.8h1.1v1.1h-1.1zM176.5 185.6h1.1v1.1h-1.1zM171.3 187.0h1.1v1.1h-1.1zM178.4 190.3h1.1v1.1h-1.1zM183.3 167.6h1.1v1.1h-1.1zM157.6 180.9h1.1v1.1h-1.1zM188.8 183.3h1.1v1.1h-1.1zM200.4 179.1h1.1v1.1h-1.1zM202.0 181.9h1.1v1.1h-1.1zM176.4 175.0h1.1v1.1h-1.1zM172.4 174.8h1.1v1.1h-1.1zM170.3 184.7h1.1v1.1h-1.1zM176.3 173.7h1.1v1.1h-1.1zM174.4 175.8h1.1v1.1h-1.1zM190.2 180.7h1.1v1.1h-1.1zM173.4 150.3h1.1v1.1h-1.1zM183.7 169.3h1.1v1.1h-1.1zM151.9 189.8h1.1v1.1h-1.1zM160.8 186.3h1.1v1.1h-1.1zM173.6 185.5h1.1v1.1h-1.1zM176.8 169.8h1.1v1.1h-1.1zM161.8 187.0h1.1v1.1h-1.1zM172.0 171.6h1.1v1.1h-1.1zM196.5 180.7h1.1v1.1h-1.1zM195.1 174.0h1.1v1.1h-1.1zM169.0 188.7h1.1v1.1h-1.1zM192.0 183.0h1.1v1.1h-1.1zM176.5 170.4h1.1v1.1h-1.1zM171.6 166.5h1.1v1.1h-1.1zM191.1 180.5h1.1v1.1h-1.1zM180.8 171.6h1.1v1.1h-1.1zM177.7 171.6h1.1v1.1h-1.1zM167.4 173.6h1.1v1.1h-1.1zM151.6 183.7h1.1v1.1h-1.1zM150.6 194.3h1.1v1.1h-1.1zM194.7 164.2h1.1v1.1h-1.1zM177.5 172.4h1.1v1.1h-1.1zM178.2 205.5h1.1v1.1h-1.1zM176.9 173.5h1.1v1.1h-1.1zM209.5 169.5h1.1v1.1h-1.1zM201.9 176.8h1.1v1.1h-1.1zM163.9 176.9h1.1v1.1h-1.1zM174.5 187.4h1.1v1.1h-1.1zM174.4 199.8h1.1v1.1h-1.1zM164.8 172.8h1.1v1.1h-1.1zM198.2 173.2h1.1v1.1h-1.1zM178.4 203.6h1.1v1.1h-1.1zM185.0 188.5h1.1v1.1h-1.1zM182.1 170.5h1.1v1.1h-1.1zM150.7 173.8h1.1v1.1h-1.1zM169.0 176.6h1.1v1.1h-1.1zM148.7 187.3h1.1v1.1h-1.1zM153.9 183.7h1.1v1.1h-1.1zM169.8 191.2h1.1v1.1h-1.1zM179.6 155.8h1.1v1.1h-1.1zM193.9 142.3h1.1v1.1h-1.1zM189.6 182.7h1.1v1.1h-1.1zM173.1 170.1h1.1v1.1h-1.1zM178.9 181.6h1.1v1.1h-1.1zM156.1 187.5h1.1v1.1h-1.1zM183.4 170.1h1.1v1.1h-1.1zM168.5 180.3h1.1v1.1h-1.1zM172.4 179.0h1.1v1.1h-1.1zM194.6 170.1h1.1v1.1h-1.1zM187.8 165.3h1.1v1.1h-1.1zM169.2 187.2h1.1v1.1h-1.1zM182.6 171.0h1.1v1.1h-1.1zM181.2 181.8h1.1v1.1h-1.1zM146.3 199.1h1.1v1.1h-1.1zM159.0 189.9h1.1v1.1h-1.1zM216.1 167.3h1.1v1.1h-1.1zM168.1 192.1h1.1v1.1h-1.1zM188.9 184.6h1.1v1.1h-1.1zM195.5 132.9h1.1v1.1h-1.1zM199.1 169.4h1.1v1.1h-1.1zM166.2 176.9h1.1v1.1h-1.1zM203.1 183.2h1.1v1.1h-1.1zM191.8 174.2h1.1v1.1h-1.1zM194.8 169.3h1.1v1.1h-1.1zM156.5 182.7h1.1v1.1h-1.1zM169.2 171.9h1.1v1.1h-1.1z"/>
<path fill="rgb(215, 135, 45)" d="M188.3 178.1h1.1v1.1h-1.1zM182.7 175.6h1.1v1.1h-1.1zM181.6 177.3h1.1v1.1h-1.1zM184.5 176.6h1.1v1.1h-1.1zM188.0 177.2h1.1v1.1h-1.1zM184.4 175.9h1.1v1.1h-1.1zM185.3 178.7h1.1v1.1h-1.1zM186.9 173.2h1.1v1.1h-1.1zM183.9 177.1h1.1v1.1h-1.1zM186.2 178.1h1.1v1.1h-1.1zM182.7 176.9h1.1v1.1h-1.1zM187.2 176.0h1.1v1.1h-1.1zM185.2 174.5h1.1v1.1h-1.1zM186.6 177.2h1.1v1.1h-1.1zM186.2 179.7h1.1v1.1h-1.1zM189.2 175.8h1.1v1.1h-1.1zM182.9 177.8h1.1v1.1h-1.1zM185.0 178.0h1.1v1.1h-1.1zM185.7 175.6h1.1v1.1h-1.1zM188.8 175.4h1.1v1.1h-1.1z"/>
<path fill="rgb(195, 195, 60)" d="M188.0 178.8h1.1v1.1h-1.1zM147.5 177.5h1.1v1.1h-1.1zM187.0 174.4h1.1v1.1h-1.1zM184.8 172.5h1.1v1.1h-1.1zM197.9 189.9h1.1v1.1h-1.1zM209.7 188.1h1.1v1.1h-1.1zM185.1 176.9h1.1v1.1h-1.1zM182.5 175.9h1.1v1.1h-1.1zM182.0 179.5h1.1v1.1h-1.1zM190.1 172.6h1.1v1.1h-1.1zM188.5 175.8h1.1v1.1h-1.1zM190.1 175.4h1.1v1.1h-1.1zM164.0 170.7h1.1v1.1h-1.1zM210.5 176.8h1.1v1.1h-1.1zM186.5 174.2h1.1v1.1h-1.1zM185.5 173.7h1.1v1.1h-1.1zM168.3 191.3h1.1v1.1h-1.1zM198.1 175.8h1.1v1.1h-1.1zM182.5 173.1h1.1v1.1h-1.1zM192.1 161.3h1.1v1.1h-1.1zM166.6 184.5h1.1v1.1h-1.1zM186.5 180.9h1.1v1.1h-1.1zM155.5 186.0h1.1v1.1h-1.1zM180.0 179.7h1.1v1.1h-1.1zM151.7 180.2h1.1v1.1h-1.1zM188.7 176.8h1.1v1.1h-1.1zM192.5 178.7h1.1v1.1h-1.1zM145.0 181.5h1.1v1.1h-1.1zM184.2 174.9h1.1v1.1h-1.1zM176.6 180.5h1.1v1.1h-1.1zM189.8 195.9h1.1v1.1h-1.1zM181.2 179.1h1.1v1.1h-1.1zM183.6 160.9h1.1v1.1h-1.1zM178.0 172.6h1.1v1.1h-1.1zM181.4 175.2h1.1v1.1h-1.1zM188.7 174.2h1.1v1.1h-1.1zM135.0 195.3h1.1v1.1h-1.1zM188.7 173.3h1.1v1.1h-1.1zM199.7 186.6h1.1v1.1h-1.1zM153.2 174.8h1.1v1.1h-1.1zM181.7 177.1h1.1v1.1h-1.1zM160.1 188.8h1.1v1.1h-1.1zM191.1 179.6h1.1v1.1h-1.1zM178.7 182.1h1.1v1.1h-1.1zM186.5 173.6h1.1v1.1h-1.1zM182.0 173.4h1.1v1.1h-1.1zM180.6 176.8h1.1v1.1h-1.1z"/>
<path fill="rgb(170, 200, 60)" d="M179.0 178.9h1.1v1.1h-1.1zM169.2 181.9h1.1v1.1h-1.1zM183.5 180.5h1.1v1.1h-1.1zM180.3 174.9h1.1v1.1h-1.1zM172.4 170.9h1.1v1.1h-1.1zM183.7 171.4h1.1v1.1h-1.1zM183.1 182.5h1.1v1.1h-1.1zM192.0 174.0h1.1v1.1h-1.1zM166.8 188.0h1.1v1.1h-1.1zM178.3 178.8h1.1v1.1h-1.1zM180.5 179.0h1.1v1.1h-1.1zM170.1 180.0h1.1v1.1h-1.1zM181.0 181.2h1.1v1.1h-1.1zM171.2 177.3h1.1v1.1h-1.1zM182.4 182.1h1.1v1.1h-1.1zM175.2 181.7h1.1v1.1h-1.1zM161.0 187.5h1.1v1.1h-1.1zM177.7 176.9h1.1v1.1h-1.1zM177.0 176.4h1.1v1.1h-1.1zM156.0 180.3h1.1v1.1h-1.1zM173.7 182.4h1.1v1.1h-1.1zM157.1 181.7h1.1v1.1h-1.1zM158.0 184.0h1.1v1.1h-1.1zM158.5 181.7h1.1v1.1h-1.1zM160.4 185.4h1.1v1.1h-1.1zM175.3 176.1h1.1v1.1h-1.1zM165.8 185.4h1.1v1.1h-1.1zM163.9 183.0h1.1v1.1h-1.1zM172.2 182.5h1.1v1.1h-1.1zM163.8 185.6h1.1v1.1h-1.1zM155.0 178.2h1.1v1.1h-1.1zM183.5 173.8h1.1v1.1h-1.1z"/>
<path fill="rgb(70, 78, 185)" d="M167.1 187.4h1.1v1.1h-1.1zM209.9 165.6h1.1v1.1h-1.1zM173.5 160.4h1.1v1.1h-1.1zM201.2 168.7h1.1v1.1h-1.1zM205.4 180.7h1.1v1.1h-1.1zM177.4 189.5h1.1v1.1h-1.1zM172.3 169.0h1.1v1.1h-1.1zM210.1 176.6h1.1v1.1h-1.1zM174.1 163.6h1.1v1.1h-1.1zM184.2 192.2h1.1v1.1h-1.1zM194.0 167.7h1.1v1.1h-1.1zM146.1 204.7h1.1v1.1h-1.1zM192.7 151.9h1.1v1.1h-1.1zM143.5 167.5h1.1v1.1h-1.1zM177.9 187.9h1.1v1.1h-1.1zM189.2 166.7h1.1v1.1h-1.1zM199.6 165.8h1.1v1.1h-1.1zM200.0 170.5h1.1v1.1h-1.1zM199.1 170.0h1.1v1.1h-1.1zM177.8 208.9h1.1v1.1h-1.1zM160.4 187.6h1.1v1.1h-1.1zM160.6 193.5h1.1v1.1h-1.1zM220.1 155.3h1.1v1.1h-1.1zM186.6 195.1h1.1v1.1h-1.1zM168.8 160.6h1.1v1.1h-1.1zM182.6 187.6h1.1v1.1h-1.1zM176.0 192.5h1.1v1.1h-1.1zM181.8 203.5h1.1v1.1h-1.1zM181.9 170.1h1.1v1.1h-1.1zM166.7 200.8h1.1v1.1h-1.1zM161.9 172.5h1.1v1.1h-1.1zM209.5 164.8h1.1v1.1h-1.1zM185.8 168.2h1.1v1.1h-1.1zM200.1 164.5h1.1v1.1h-1.1zM145.3 187.1h1.1v1.1h-1.1zM199.6 176.2h1.1v1.1h-1.1zM150.8 175.4h1.1v1.1h-1.1zM200.7 184.2h1.1v1.1h-1.1zM178.0 188.3h1.1v1.1h-1.1zM150.6 184.3h1.1v1.1h-1.1zM204.1 174.9h1.1v1.1h-1.1zM204.4 202.7h1.1v1.1h-1.1zM169.1 169.9h1.1v1.1h-1.1zM198.4 165.7h1.1v1.1h-1.1zM214.5 175.1h1.1v1.1h-1.1zM183.9 196.2h1.1v1.1h-1.1zM190.7 186.9h1.1v1.1h-1.1zM196.1 181.9h1.1v1.1h-1.1zM195.8 169.2h1.1v1.1h-1.1zM175.5 208.2h1.1v1.1h-1.1zM153.7 167.4h1.1v1.1h-1.1zM165.8 172.4h1.1v1.1h-1.1zM192.2 150.0h1.1v1.1h-1.1zM183.7 160.9h1.1v1.1h-1.1zM207.9 161.9h1.1v1.1h-1.1zM177.2 187.2h1.1v1.1h-1.1zM165.8 207.7h1.1v1.1h-1.1zM173.6 171.8h1.1v1.1h-1.1zM179.7 168.0h1.1v1.1h-1.1zM212.1 192.4h1.1v1.1h-1.1zM174.3 187.1h1.1v1.1h-1.1zM188.4 161.3h1.1v1.1h-1.1zM193.6 178.8h1.1v1.1h-1.1zM196.1 166.3h1.1v1.1h-1.1zM169.9 168.1h1.1v1.1h-1.1zM171.1 194.7h1.1v1.1h-1.1zM173.3 193.7h1.1v1.1h-1.1zM170.2 169.5h1.1v1.1h-1.1zM148.1 180.1h1.1v1.1h-1.1zM190.0 188.7h1.1v1.1h-1.1zM178.9 188.4h1.1v1.1h-1.1zM160.6 172.0h1.1v1.1h-1.1zM186.5 187.4h1.1v1.1h-1.1zM191.0 154.9h1.1v1.1h-1.1zM188.3 185.8h1.1v1.1h-1.1zM179.8 167.2h1.1v1.1h-1.1zM144.3 181.6h1.1v1.1h-1.1zM205.6 202.1h1.1v1.1h-1.1zM176.5 185.5h1.1v1.1h-1.1zM180.0 184.5h1.1v1.1h-1.1zM177.8 185.4h1.1v1.1h-1.1zM200.9 197.7h1.1v1.1h-1.1zM196.9 172.2h1.1v1.1h-1.1zM167.9 173.6h1.1v1.1h-1.1zM195.9 164.2h1.1v1.1h-1.1zM147.1 201.3h1.1v1.1h-1.1zM155.8 186.3h1.1v1.1h-1.1zM190.3 202.3h1.1v1.1h-1.1zM188.9 204.2h1.1v1.1h-1.1zM160.8 186.0h1.1v1.1h-1.1zM183.4 191.8h1.1v1.1h-1.1zM188.9 188.8h1.1v1.1h-1.1zM206.8 172.1h1.1v1.1h-1.1zM190.1 194.9h1.1v1.1h-1.1zM187.0 173.2h1.1v1.1h-1.1zM189.4 199.7h1.1v1.1h-1.1zM184.9 159.8h1.1v1.1h-1.1zM177.7 182.6h1.1v1.1h-1.1zM198.6 182.3h1.1v1.1h-1.1zM203.2 165.4h1.1v1.1h-1.1zM182.9 185.6h1.1v1.1h-1.1zM206.2 161.9h1.1v1.1h-1.1zM205.3 155.1h1.1v1.1h-1.1zM192.4 164.1h1.1v1.1h-1.1zM188.3 181.5h1.1v1.1h-1.1zM182.3 168.3h1.1v1.1h-1.1zM171.4 163.2h1.1v1.1h-1.1zM210.6 168.7h1.1v1.1h-1.1zM174.4 170.3h1.1v1.1h-1.1zM194.2 166.8h1.1v1.1h-1.1zM194.9 191.6h1.1v1.1h-1.1zM196.1 169.6h1.1v1.1h-1.1zM216.6 181.6h1.1v1.1h-1.1zM213.3 158.1h1.1v1.1h-1.1zM198.2 199.2h1.1v1.1h-1.1zM152.6 201.2h1.1v1.1h-1.1zM188.1 169.0h1.1v1.1h-1.1zM152.8 199.9h1.1v1.1h-1.1zM175.7 169.3h1.1v1.1h-1.1zM191.4 192.3h1.1v1.1h-1.1zM153.2 153.0h1.1v1.1h-1.1zM199.9 177.9h1.1v1.1h-1.1zM186.8 182.9h1.1v1.1h-1.1zM207.1 164.9h1.1v1.1h-1.1zM168.4 188.0h1.1v1.1h-1.1zM181.3 156.5h1.1v1.1h-1.1zM189.7 165.1h1.1v1.1h-1.1zM173.7 172.4h1.1v1.1h-1.1zM200.0 180.0h1.1v1.1h-1.1zM199.4 165.1h1.1v1.1h-1.1zM165.4 188.3h1.1v1.1h-1.1zM179.9 196.6h1.1v1.1h-1.1zM166.3 195.2h1.1v1.1h-1.1zM172.0 153.1h1.1v1.1h-1.1zM164.2 166.2h1.1v1.1h-1.1zM174.9 196.6h1.1v1.1h-1.1zM155.0 197.4h1.1v1.1h-1.1zM177.9 170.0h1.1v1.1h-1.1zM180.4 197.3h1.1v1.1h-1.1zM149.0 183.4h1.1v1.1h-1.1zM198.6 169.8h1.1v1.1h-1.1zM136.3 173.0h1.1v1.1h-1.1zM194.1 174.0h1.1v1.1h-1.1zM174.8 189.9h1.1v1.1h-1.1zM174.9 185.2h1.1v1.1h-1.1zM176.8 191.8h1.1v1.1h-1.1zM147.8 189.5h1.1v1.1h-1.1zM221.9 141.2h1.1v1.1h-1.1zM164.4 172.7h1.1v1.1h-1.1zM198.3 169.5h1.1v1.1h-1.1zM145.6 174.8h1.1v1.1h-1.1zM143.6 206.9h1.1v1.1h-1.1zM183.2 166.5h1.1v1.1h-1.1zM196.2 173.2h1.1v1.1h-1.1zM207.8 191.9h1.1v1.1h-1.1zM191.0 165.4h1.1v1.1h-1.1zM174.0 173.8h1.1v1.1h-1.1zM169.6 165.3h1.1v1.1h-1.1zM190.7 206.4h1.1v1.1h-1.1zM190.5 155.3h1.1v1.1h-1.1zM173.8 193.1h1.1v1.1h-1.1zM180.8 162.7h1.1v1.1h-1.1zM183.5 165.5h1.1v1.1h-1.1zM177.8 148.0h1.1v1.1h-1.1zM192.7 175.7h1.1v1.1h-1.1zM203.3 165.1h1.1v1.1h-1.1zM213.9 175.8h1.1v1.1h-1.1zM182.9 166.5h1.1v1.1h-1.1zM139.0 195.5h1.1v1.1h-1.1zM177.5 169.9h1.1v1.1h-1.1zM139.2 189.0h1.1v1.1h-1.1zM193.7 185.4h1.1v1.1h-1.1zM200.3 173.4h1.1v1.1h-1.1zM219.3 178.5h1.1v1.1h-1.1zM175.2 164.8h1.1v1.1h-1.1zM194.1 182.2h1.1v1.1h-1.1zM189.6 204.3h1.1v1.1h-1.1zM182.7 192.1h1.1v1.1h-1.1zM198.2 169.8h1.1v1.1h-1.1zM194.0 171.7h1.1v1.1h-1.1zM183.3 159.5h1.1v1.1h-1.1zM156.4 188.1h1.1v1.1h-1.1zM152.6 193.5h1.1v1.1h-1.1zM210.8 174.9h1.1v1.1h-1.1zM129.8 193.8h1.1v1.1h-1.1zM148.6 181.3h1.1v1.1h-1.1zM166.7 189.3h1.1v1.1h-1.1zM195.5 184.0h1.1v1.1h-1.1zM201.5 173.4h1.1v1.1h-1.1zM176.8 168.1h1.1v1.1h-1.1zM154.6 189.2h1.1v1.1h-1.1zM186.1 189.1h1.1v1.1h-1.1zM189.1 141.5h1.1v1.1h-1.1zM189.9 166.6h1.1v1.1h-1.1zM156.0 187.6h1.1v1.1h-1.1zM158.4 174.4h1.1v1.1h-1.1zM157.6 189.5h1.1v1.1h-1.1zM172.7 190.9h1.1v1.1h-1.1zM153.0 171.5h1.1v1.1h-1.1zM175.5 185.3h1.1v1.1h-1.1zM199.1 171.1h1.1v1.1h-1.1zM183.7 155.4h1.1v1.1h-1.1zM223.5 164.7h1.1v1.1h-1.1zM157.4 193.2h1.1v1.1h-1.1zM208.1 198.9h1.1v1.1h-1.1zM161.4 190.6h1.1v1.1h-1.1zM166.1 165.0h1.1v1.1h-1.1zM200.2 161.0h1.1v1.1h-1.1zM196.0 198.1h1.1v1.1h-1.1zM192.6 193.0h1.1v1.1h-1.1zM174.0 157.5h1.1v1.1h-1.1zM122.6 196.5h1.1v1.1h-1.1zM190.5 200.5h1.1v1.1h-1.1zM166.9 185.8h1.1v1.1h-1.1zM159.2 204.1h1.1v1.1h-1.1zM151.5 192.2h1.1v1.1h-1.1zM197.2 173.0h1.1v1.1h-1.1zM197.3 188.0h1.1v1.1h-1.1zM198.0 161.2h1.1v1.1h-1.1zM161.2 180.1h1.1v1.1h-1.1zM162.8 172.4h1.1v1.1h-1.1zM151.4 170.7h1.1v1.1h-1.1zM183.4 164.5h1.1v1.1h-1.1zM173.7 192.7h1.1v1.1h-1.1zM157.3 187.2h1.1v1.1h-1.1zM190.0 161.5h1.1v1.1h-1.1zM181.6 169.7h1.1v1.1h-1.1zM165.6 195.6h1.1v1.1h-1.1zM185.3 169.2h1.1v1.1h-1.1zM177.4 166.4h1.1v1.1h-1.1zM203.0 170.0h1.1v1.1h-1.1zM135.2 202.2h1.1v1.1h-1.1zM190.0 170.6h1.1v1.1h-1.1zM185.7 207.2h1.1v1.1h-1.1zM218.1 194.3h1.1v1.1h-1.1zM195.3 173.8h1.1v1.1h-1.1zM161.1 203.9h1.1v1.1h-1.1zM169.3 176.2h1.1v1.1h-1.1zM181.2 184.6h1.1v1.1h-1.1zM221.9 189.8h1.1v1.1h-1.1zM186.2 167.5h1.1v1.1h-1.1zM147.7 167.1h1.1v1.1h-1.1zM128.5 161.6h1.1v1.1h-1.1zM175.9 195.6h1.1v1.1h-1.1zM186.4 185.4h1.1v1.1h-1.1zM193.6 169.3h1.1v1.1h-1.1zM184.5 187.3h1.1v1.1h-1.1zM222.9 167.6h1.1v1.1h-1.1zM211.7 183.5h1.1v1.1h-1.1zM180.5 196.2h1.1v1.1h-1.1zM185.0 184.6h1.1v1.1h-1.1zM165.9 160.4h1.1v1.1h-1.1zM174.7 196.5h1.1v1.1h-1.1zM178.5 166.1h1.1v1.1h-1.1zM150.1 176.3h1.1v1.1h-1.1zM148.4 166.1h1.1v1.1h-1.1zM178.5 197.5h1.1v1.1h-1.1zM182.7 184.7h1.1v1.1h-1.1zM223.2 151.6h1.1v1.1h-1.1zM136.8 184.6h1.1v1.1h-1.1zM170.0 176.4h1.1v1.1h-1.1zM171.3 210.6h1.1v1.1h-1.1zM145.6 181.5h1.1v1.1h-1.1zM144.0 191.3h1.1v1.1h-1.1zM162.7 175.1h1.1v1.1h-1.1zM172.6 193.6h1.1v1.1h-1.1zM177.0 185.0h1.1v1.1h-1.1zM180.2 158.2h1.1v1.1h-1.1zM185.8 184.2h1.1v1.1h-1.1zM184.0 190.1h1.1v1.1h-1.1zM208.0 164.0h1.1v1.1h-1.1zM182.3 143.4h1.1v1.1h-1.1zM182.5 182.4h1.1v1.1h-1.1zM199.9 168.6h1.1v1.1h-1.1zM202.8 181.8h1.1v1.1h-1.1zM169.7 174.2h1.1v1.1h-1.1zM146.9 182.3h1.1v1.1h-1.1zM161.9 162.9h1.1v1.1h-1.1zM165.9 174.7h1.1v1.1h-1.1zM178.4 193.1h1.1v1.1h-1.1zM190.8 167.6h1.1v1.1h-1.1zM143.8 155.5h1.1v1.1h-1.1zM193.0 181.3h1.1v1.1h-1.1zM170.6 172.6h1.1v1.1h-1.1zM169.2 159.3h1.1v1.1h-1.1zM186.1 161.3h1.1v1.1h-1.1zM200.2 191.0h1.1v1.1h-1.1zM196.7 182.1h1.1v1.1h-1.1zM188.9 162.0h1.1v1.1h-1.1zM177.8 192.6h1.1v1.1h-1.1zM183.1 186.3h1.1v1.1h-1.1zM222.5 205.2h1.1v1.1h-1.1zM163.4 193.7h1.1v1.1h-1.1zM190.7 185.0h1.1v1.1h-1.1zM154.8 208.9h1.1v1.1h-1.1zM150.6 185.8h1.1v1.1h-1.1zM150.6 184.8h1.1v1.1h-1.1zM160.1 199.1h1.1v1.1h-1.1zM193.9 173.6h1.1v1.1h-1.1zM178.6 205.8h1.1v1.1h-1.1zM191.0 171.0h1.1v1.1h-1.1zM222.3 164.0h1.1v1.1h-1.1zM176.9 187.4h1.1v1.1h-1.1zM181.4 191.1h1.1v1.1h-1.1zM188.0 184.6h1.1v1.1h-1.1zM171.7 157.2h1.1v1.1h-1.1zM176.2 168.6h1.1v1.1h-1.1zM175.3 187.8h1.1v1.1h-1.1zM153.9 191.0h1.1v1.1h-1.1zM142.7 182.4h1.1v1.1h-1.1zM180.2 162.2h1.1v1.1h-1.1zM189.0 189.6h1.1v1.1h-1.1zM197.3 162.9h1.1v1.1h-1.1zM199.2 159.1h1.1v1.1h-1.1zM194.3 178.6h1.1v1.1h-1.1zM194.3 161.9h1.1v1.1h-1.1zM175.9 192.3h1.1v1.1h-1.1zM152.5 193.4h1.1v1.1h-1.1zM142.6 191.8h1.1v1.1h-1.1zM188.5 147.3h1.1v1.1h-1.1zM201.7 160.1h1.1v1.1h-1.1zM161.3 193.7h1.1v1.1h-1.1zM195.4 166.2h1.1v1.1h-1.1zM206.8 153.0h1.1v1.1h-1.1zM175.7 195.6h1.1v1.1h-1.1zM185.5 185.7h1.1v1.1h-1.1zM173.0 184.8h1.1v1.1h-1.1zM141.9 198.3h1.1v1.1h-1.1zM191.4 166.1h1.1v1.1h-1.1zM145.2 173.4h1.1v1.1h-1.1zM189.6 193.1h1.1v1.1h-1.1zM192.4 167.2h1.1v1.1h-1.1zM189.2 171.6h1.1v1.1h-1.1zM202.7 166.9h1.1v1.1h-1.1zM159.5 192.7h1.1v1.1h-1.1zM190.7 156.9h1.1v1.1h-1.1zM180.7 188.8h1.1v1.1h-1.1zM176.0 190.5h1.1v1.1h-1.1zM184.9 145.7h1.1v1.1h-1.1zM177.3 165.5h1.1v1.1h-1.1zM180.3 189.9h1.1v1.1h-1.1zM163.9 208.2h1.1v1.1h-1.1zM196.8 162.9h1.1v1.1h-1.1zM194.0 166.1h1.1v1.1h-1.1zM164.5 170.0h1.1v1.1h-1.1zM171.8 161.7h1.1v1.1h-1.1zM196.4 166.6h1.1v1.1h-1.1zM180.7 187.7h1.1v1.1h-1.1zM202.2 158.7h1.1v1.1h-1.1zM204.1 148.2h1.1v1.1h-1.1zM167.7 184.6h1.1v1.1h-1.1zM148.1 187.5h1.1v1.1h-1.1zM208.4 162.2h1.1v1.1h-1.1zM201.1 175.4h1.1v1.1h-1.1zM150.1 185.9h1.1v1.1h-1.1zM187.2 194.5h1.1v1.1h-1.1zM219.4 182.3h1.1v1.1h-1.1zM160.6 197.8h1.1v1.1h-1.1zM193.0 169.9h1.1v1.1h-1.1zM184.7 168.4h1.1v1.1h-1.1zM164.4 188.6h1.1v1.1h-1.1zM195.4 156.1h1.1v1.1h-1.1zM194.0 189.3h1.1v1.1h-1.1zM180.0 167.7h1.1v1.1h-1.1zM174.6 192.4h1.1v1.1h-1.1zM201.9 164.0h1.1v1.1h-1.1zM162.9 184.5h1.1v1.1h-1.1zM166.9 188.9h1.1v1.1h-1.1zM191.6 163.2h1.1v1.1h-1.1zM205.1 164.3h1.1v1.1h-1.1zM171.0 189.5h1.1v1.1h-1.1zM174.8 190.5h1.1v1.1h-1.1zM203.4 179.4h1.1v1.1h-1.1zM155.5 177.5h1.1v1.1h-1.1zM204.1 203.1h1.1v1.1h-1.1zM198.3 189.8h1.1v1.1h-1.1zM167.2 209.0h1.1v1.1h-1.1zM182.2 166.2h1.1v1.1h-1.1zM196.9 175.9h1.1v1.1h-1.1zM191.8 187.4h1.1v1.1h-1.1zM139.0 171.2h1.1v1.1h-1.1zM192.4 170.5h1.1v1.1h-1.1zM147.2 187.1h1.1v1.1h-1.1zM195.1 174.9h1.1v1.1h-1.1zM152.1 209.5h1.1v1.1h-1.1zM199.4 167.8h1.1v1.1h-1.1zM196.7 183.4h1.1v1.1h-1.1zM188.7 185.3h1.1v1.1h-1.1zM202.9 177.3h1.1v1.1h-1.1zM175.1 183.9h1.1v1.1h-1.1zM190.5 163.0h1.1v1.1h-1.1zM172.9 157.7h1.1v1.1h-1.1zM176.9 162.0h1.1v1.1h-1.1zM189.8 184.5h1.1v1.1h-1.1zM219.7 151.3h1.1v1.1h-1.1zM175.1 171.6h1.1v1.1h-1.1zM154.1 212.3h1.1v1.1h-1.1zM180.9 190.5h1.1v1.1h-1.1zM186.8 193.9h1.1v1.1h-1.1zM174.0 161.6h1.1v1.1h-1.1zM176.2 210.0h1.1v1.1h-1.1zM160.4 196.4h1.1v1.1h-1.1zM175.0 184.6h1.1v1.1h-1.1zM213.4 169.5h1.1v1.1h-1.1zM149.2 177.0h1.1v1.1h-1.1zM191.7 187.5h1.1v1.1h-1.1zM157.0 196.8h1.1v1.1h-1.1zM184.1 185.4h1.1v1.1h-1.1zM169.9 190.5h1.1v1.1h-1.1zM172.4 163.6h1.1v1.1h-1.1zM166.4 196.8h1.1v1.1h-1.1zM146.1 174.4h1.1v1.1h-1.1zM202.2 165.6h1.1v1.1h-1.1zM178.6 180.1h1.1v1.1h-1.1zM154.3 199.2h1.1v1.1h-1.1zM190.1 159.1h1.1v1.1h-1.1zM175.3 164.7h1.1v1.1h-1.1zM197.7 181.8h1.1v1.1h-1.1zM137.5 186.1h1.1v1.1h-1.1zM205.6 155.3h1.1v1.1h-1.1zM163.9 171.6h1.1v1.1h-1.1zM178.9 162.2h1.1v1.1h-1.1zM163.7 161.2h1.1v1.1h-1.1zM184.4 168.7h1.1v1.1h-1.1zM162.7 160.5h1.1v1.1h-1.1zM202.2 170.7h1.1v1.1h-1.1zM175.7 167.2h1.1v1.1h-1.1zM184.8 158.2h1.1v1.1h-1.1zM173.5 164.3h1.1v1.1h-1.1zM166.7 190.1h1.1v1.1h-1.1zM172.5 149.2h1.1v1.1h-1.1zM156.6 204.9h1.1v1.1h-1.1zM175.3 194.9h1.1v1.1h-1.1zM154.2 175.7h1.1v1.1h-1.1zM210.8 170.3h1.1v1.1h-1.1zM142.6 185.6h1.1v1.1h-1.1zM149.9 182.2h1.1v1.1h-1.1zM178.7 146.6h1.1v1.1h-1.1zM178.2 199.3h1.1v1.1h-1.1zM189.2 180.8h1.1v1.1h-1.1zM210.0 186.5h1.1v1.1h-1.1zM150.5 186.3h1.1v1.1h-1.1zM171.5 165.5h1.1v1.1h-1.1zM195.3 176.9h1.1v1.1h-1.1zM180.1 198.9h1.1v1.1h-1.1zM199.8 172.8h1.1v1.1h-1.1zM194.6 172.1h1.1v1.1h-1.1zM182.5 183.6h1.1v1.1h-1.1zM152.8 189.9h1.1v1.1h-1.1zM200.6 190.1h1.1v1.1h-1.1zM208.0 152.1h1.1v1.1h-1.1zM152.7 182.7h1.1v1.1h-1.1zM126.7 178.8h1.1v1.1h-1.1zM172.1 212.1h1.1v1.1h-1.1zM190.4 189.1h1.1v1.1h-1.1zM158.7 154.4h1.1v1.1h-1.1zM193.3 163.8h1.1v1.1h-1.1zM199.0 175.3h1.1v1.1h-1.1zM187.7 186.0h1.1v1.1h-1.1zM213.8 185.8h1.1v1.1h-1.1zM186.8 168.2h1.1v1.1h-1.1zM182.0 170.9h1.1v1.1h-1.1zM188.2 164.7h1.1v1.1h-1.1zM183.4 210.2h1.1v1.1h-1.1zM213.0 159.3h1.1v1.1h-1.1zM212.9 169.6h1.1v1.1h-1.1zM192.2 175.3h1.1v1.1h-1.1zM194.7 174.9h1.1v1.1h-1.1zM219.6 176.8h1.1v1.1h-1.1zM207.4 173.1h1.1v1.1h-1.1zM179.0 169.9h1.1v1.1h-1.1zM177.4 155.8h1.1v1.1h-1.1zM165.4 198.4h1.1v1.1h-1.1zM192.7 151.5h1.1v1.1h-1.1zM160.0 191.7h1.1v1.1h-1.1zM176.1 168.1h1.1v1.1h-1.1zM176.8 157.5h1.1v1.1h-1.1zM199.2 179.7h1.1v1.1h-1.1zM191.6 183.8h1.1v1.1h-1.1zM164.8 198.5h1.1v1.1h-1.1zM148.7 170.2h1.1v1.1h-1.1zM179.8 186.4h1.1v1.1h-1.1zM180.5 167.4h1.1v1.1h-1.1zM166.1 173.6h1.1v1.1h-1.1zM170.9 187.4h1.1v1.1h-1.1zM157.4 210.9h1.1v1.1h-1.1zM156.4 177.3h1.1v1.1h-1.1zM165.5 157.0h1.1v1.1h-1.1zM178.0 188.4h1.1v1.1h-1.1zM172.8 173.6h1.1v1.1h-1.1zM175.7 192.5h1.1v1.1h-1.1zM175.7 198.2h1.1v1.1h-1.1zM194.2 160.8h1.1v1.1h-1.1zM165.6 176.0h1.1v1.1h-1.1zM174.2 188.9h1.1v1.1h-1.1zM185.4 171.4h1.1v1.1h-1.1zM174.6 164.3h1.1v1.1h-1.1zM211.4 178.2h1.1v1.1h-1.1zM170.9 188.8h1.1v1.1h-1.1zM166.4 201.8h1.1v1.1h-1.1zM175.1 186.0h1.1v1.1h-1.1zM209.0 167.7h1.1v1.1h-1.1zM152.5 175.3h1.1v1.1h-1.1zM157.9 176.6h1.1v1.1h-1.1zM194.8 166.8h1.1v1.1h-1.1zM199.6 192.6h1.1v1.1h-1.1zM206.8 169.5h1.1v1.1h-1.1zM185.7 193.8h1.1v1.1h-1.1zM150.4 184.1h1.1v1.1h-1.1zM169.3 208.7h1.1v1.1h-1.1zM198.3 172.7h1.1v1.1h-1.1zM152.1 190.9h1.1v1.1h-1.1zM199.8 174.7h1.1v1.1h-1.1zM148.4 178.7h1.1v1.1h-1.1zM173.1 184.3h1.1v1.1h-1.1zM163.3 196.6h1.1v1.1h-1.1zM154.1 154.5h1.1v1.1h-1.1zM138.8 200.7h1.1v1.1h-1.1zM195.8 160.2h1.1v1.1h-1.1zM195.9 175.1h1.1v1.1h-1.1zM203.7 191.7h1.1v1.1h-1.1zM201.7 178.2h1.1v1.1h-1.1zM209.5 182.3h1.1v1.1h-1.1zM174.2 161.7h1.1v1.1h-1.1zM146.8 183.5h1.1v1.1h-1.1zM212.5 172.5h1.1v1.1h-1.1zM169.5 158.7h1.1v1.1h-1.1zM178.0 182.0h1.1v1.1h-1.1zM165.7 170.5h1.1v1.1h-1.1zM173.4 195.7h1.1v1.1h-1.1zM193.7 165.9h1.1v1.1h-1.1zM142.8 176.6h1.1v1.1h-1.1zM210.8 180.7h1.1v1.1h-1.1zM201.2 180.0h1.1v1.1h-1.1zM175.7 189.0h1.1v1.1h-1.1zM206.2 172.4h1.1v1.1h-1.1zM163.1 170.8h1.1v1.1h-1.1zM202.3 195.0h1.1v1.1h-1.1zM193.9 183.2h1.1v1.1h-1.1zM163.2 200.9h1.1v1.1h-1.1zM152.3 179.1h1.1v1.1h-1.1zM165.8 199.1h1.1v1.1h-1.1zM167.3 218.0h1.1v1.1h-1.1z"/>
<path fill="rgb(85, 95, 205)" d="M109.3 191.5h1.1v1.1h-1.1zM106.0 219.9h1.1v1.1h-1.1zM95.6 235.3h1.1v1.1h-1.1zM102.0 196.2h1.1v1.1h-1.1zM110.7 191.8h1.1v1.1h-1.1zM102.5 193.5h1.1v1.1h-1.1zM106.0 198.6h1.1v1.1h-1.1zM80.1 180.0h1.1v1.1h-1.1zM198.6 212.1h1.1v1.1h-1.1zM147.4 226.2h1.1v1.1h-1.1zM100.4 205.7h1.1v1.1h-1.1zM91.9 187.0h1.1v1.1h-1.1zM123.9 208.7h1.1v1.1h-1.1zM111.6 222.9h1.1v1.1h-1.1zM92.0 191.3h1.1v1.1h-1.1zM102.3 219.1h1.1v1.1h-1.1zM109.8 251.8h1.1v1.1h-1.1zM83.0 206.4h1.1v1.1h-1.1zM114.0 219.1h1.1v1.1h-1.1zM115.1 243.5h1.1v1.1h-1.1zM134.7 208.3h1.1v1.1h-1.1zM126.7 234.5h1.1v1.1h-1.1zM84.4 189.2h1.1v1.1h-1.1zM93.8 189.5h1.1v1.1h-1.1zM90.2 192.0h1.1v1.1h-1.1zM102.0 209.7h1.1v1.1h-1.1zM210.8 230.9h1.1v1.1h-1.1zM131.9 244.2h1.1v1.1h-1.1zM129.1 225.2h1.1v1.1h-1.1zM123.8 214.3h1.1v1.1h-1.1zM110.4 224.3h1.1v1.1h-1.1zM158.9 231.3h1.1v1.1h-1.1zM183.4 245.1h1.1v1.1h-1.1zM128.1 206.1h1.1v1.1h-1.1zM113.2 189.6h1.1v1.1h-1.1zM109.1 197.1h1.1v1.1h-1.1zM121.3 208.6h1.1v1.1h-1.1zM125.9 215.7h1.1v1.1h-1.1zM111.4 177.4h1.1v1.1h-1.1zM95.5 190.0h1.1v1.1h-1.1zM94.5 191.1h1.1v1.1h-1.1zM127.2 228.3h1.1v1.1h-1.1zM108.9 183.1h1.1v1.1h-1.1zM153.2 225.3h1.1v1.1h-1.1zM125.8 230.5h1.1v1.1h-1.1zM114.0 248.6h1.1v1.1h-1.1zM103.3 208.0h1.1v1.1h-1.1zM153.8 232.1h1.1v1.1h-1.1zM119.3 240.0h1.1v1.1h-1.1zM96.5 230.3h1.1v1.1h-1.1zM104.8 257.6h1.1v1.1h-1.1zM132.4 212.7h1.1v1.1h-1.1zM98.0 195.1h1.1v1.1h-1.1zM101.6 200.5h1.1v1.1h-1.1zM111.9 191.2h1.1v1.1h-1.1zM104.9 211.7h1.1v1.1h-1.1zM108.5 174.9h1.1v1.1h-1.1zM113.4 232.8h1.1v1.1h-1.1zM131.9 215.5h1.1v1.1h-1.1zM218.8 212.5h1.1v1.1h-1.1zM110.0 208.1h1.1v1.1h-1.1zM177.1 234.0h1.1v1.1h-1.1zM112.0 241.9h1.1v1.1h-1.1zM110.8 233.6h1.1v1.1h-1.1zM135.7 221.5h1.1v1.1h-1.1zM121.2 214.1h1.1v1.1h-1.1zM104.8 166.9h1.1v1.1h-1.1zM117.8 177.8h1.1v1.1h-1.1zM118.1 202.1h1.1v1.1h-1.1zM87.8 236.7h1.1v1.1h-1.1zM118.5 221.6h1.1v1.1h-1.1zM99.4 246.0h1.1v1.1h-1.1zM100.4 202.3h1.1v1.1h-1.1zM128.9 234.4h1.1v1.1h-1.1zM117.8 230.4h1.1v1.1h-1.1zM191.4 235.6h1.1v1.1h-1.1zM124.2 219.3h1.1v1.1h-1.1zM219.2 233.9h1.1v1.1h-1.1zM140.1 236.8h1.1v1.1h-1.1zM134.6 214.2h1.1v1.1h-1.1zM133.2 222.5h1.1v1.1h-1.1zM111.6 226.7h1.1v1.1h-1.1zM176.3 218.3h1.1v1.1h-1.1zM140.7 242.1h1.1v1.1h-1.1zM111.2 203.1h1.1v1.1h-1.1zM110.6 202.7h1.1v1.1h-1.1zM106.5 215.7h1.1v1.1h-1.1zM114.4 216.2h1.1v1.1h-1.1zM166.6 211.8h1.1v1.1h-1.1zM120.0 208.8h1.1v1.1h-1.1zM122.9 211.0h1.1v1.1h-1.1zM125.4 240.1h1.1v1.1h-1.1zM107.6 238.5h1.1v1.1h-1.1zM130.7 205.6h1.1v1.1h-1.1zM161.7 217.2h1.1v1.1h-1.1zM119.6 210.3h1.1v1.1h-1.1zM156.1 232.9h1.1v1.1h-1.1zM134.3 220.1h1.1v1.1h-1.1zM115.5 217.8h1.1v1.1h-1.1zM81.5 191.2h1.1v1.1h-1.1zM117.8 245.0h1.1v1.1h-1.1zM113.5 202.9h1.1v1.1h-1.1zM126.6 220.7h1.1v1.1h-1.1zM105.9 188.5h1.1v1.1h-1.1zM111.6 214.2h1.1v1.1h-1.1zM120.6 151.4h1.1v1.1h-1.1zM105.0 227.8h1.1v1.1h-1.1zM119.4 224.6h1.1v1.1h-1.1zM90.7 186.4h1.1v1.1h-1.1zM107.8 201.5h1.1v1.1h-1.1zM148.4 211.3h1.1v1.1h-1.1zM167.8 228.9h1.1v1.1h-1.1zM120.3 232.0h1.1v1.1h-1.1zM116.9 198.3h1.1v1.1h-1.1zM125.3 230.5h1.1v1.1h-1.1zM186.8 212.0h1.1v1.1h-1.1zM212.7 254.4h1.1v1.1h-1.1zM128.7 193.5h1.1v1.1h-1.1zM216.3 231.1h1.1v1.1h-1.1zM119.2 234.4h1.1v1.1h-1.1zM219.1 226.4h1.1v1.1h-1.1zM104.1 197.7h1.1v1.1h-1.1zM122.9 224.0h1.1v1.1h-1.1zM162.9 223.1h1.1v1.1h-1.1zM124.1 199.9h1.1v1.1h-1.1zM194.8 227.1h1.1v1.1h-1.1zM114.6 210.5h1.1v1.1h-1.1zM123.0 240.8h1.1v1.1h-1.1zM118.1 245.4h1.1v1.1h-1.1zM91.1 173.1h1.1v1.1h-1.1zM109.4 195.3h1.1v1.1h-1.1zM120.9 225.1h1.1v1.1h-1.1zM122.0 225.3h1.1v1.1h-1.1zM89.7 171.3h1.1v1.1h-1.1zM111.2 187.0h1.1v1.1h-1.1zM128.6 207.7h1.1v1.1h-1.1zM113.3 223.1h1.1v1.1h-1.1zM116.5 207.8h1.1v1.1h-1.1zM117.6 232.6h1.1v1.1h-1.1zM79.2 188.0h1.1v1.1h-1.1zM97.8 167.5h1.1v1.1h-1.1zM132.4 206.9h1.1v1.1h-1.1zM132.3 136.2h1.1v1.1h-1.1zM178.0 217.7h1.1v1.1h-1.1zM154.7 250.3h1.1v1.1h-1.1zM125.6 208.7h1.1v1.1h-1.1zM106.8 210.3h1.1v1.1h-1.1zM113.6 188.0h1.1v1.1h-1.1zM119.4 216.8h1.1v1.1h-1.1zM116.7 206.8h1.1v1.1h-1.1zM115.7 192.6h1.1v1.1h-1.1zM120.6 238.9h1.1v1.1h-1.1zM148.0 227.7h1.1v1.1h-1.1zM140.5 221.4h1.1v1.1h-1.1zM93.6 187.8h1.1v1.1h-1.1zM103.5 195.0h1.1v1.1h-1.1zM77.4 197.2h1.1v1.1h-1.1zM119.5 219.5h1.1v1.1h-1.1zM128.0 235.9h1.1v1.1h-1.1zM194.0 232.6h1.1v1.1h-1.1zM138.2 230.8h1.1v1.1h-1.1zM159.1 223.9h1.1v1.1h-1.1zM182.8 213.9h1.1v1.1h-1.1zM119.6 210.3h1.1v1.1h-1.1zM118.1 212.0h1.1v1.1h-1.1zM98.7 183.9h1.1v1.1h-1.1zM111.8 235.3h1.1v1.1h-1.1zM120.6 234.5h1.1v1.1h-1.1zM100.7 193.8h1.1v1.1h-1.1zM138.5 218.1h1.1v1.1h-1.1zM120.0 218.7h1.1v1.1h-1.1zM104.1 252.0h1.1v1.1h-1.1zM106.1 173.2h1.1v1.1h-1.1zM78.9 193.1h1.1v1.1h-1.1zM115.7 218.8h1.1v1.1h-1.1zM119.9 233.9h1.1v1.1h-1.1zM110.5 200.3h1.1v1.1h-1.1zM114.1 219.2h1.1v1.1h-1.1zM133.6 236.0h1.1v1.1h-1.1zM194.0 219.8h1.1v1.1h-1.1zM127.8 217.5h1.1v1.1h-1.1zM117.2 193.6h1.1v1.1h-1.1zM120.3 215.4h1.1v1.1h-1.1zM75.5 203.3h1.1v1.1h-1.1zM110.6 208.1h1.1v1.1h-1.1zM112.7 206.0h1.1v1.1h-1.1zM74.9 165.8h1.1v1.1h-1.1zM124.0 192.7h1.1v1.1h-1.1zM111.2 223.5h1.1v1.1h-1.1zM114.0 214.7h1.1v1.1h-1.1zM104.0 200.6h1.1v1.1h-1.1zM96.1 198.7h1.1v1.1h-1.1zM116.5 191.5h1.1v1.1h-1.1zM219.9 224.7h1.1v1.1h-1.1zM126.5 212.2h1.1v1.1h-1.1zM120.3 220.0h1.1v1.1h-1.1zM104.6 218.2h1.1v1.1h-1.1zM125.0 212.2h1.1v1.1h-1.1zM107.9 223.3h1.1v1.1h-1.1zM116.6 187.7h1.1v1.1h-1.1zM120.3 255.9h1.1v1.1h-1.1zM122.1 230.9h1.1v1.1h-1.1zM162.2 214.5h1.1v1.1h-1.1zM126.8 212.8h1.1v1.1h-1.1zM98.7 185.7h1.1v1.1h-1.1zM82.4 225.7h1.1v1.1h-1.1zM113.0 241.2h1.1v1.1h-1.1zM120.8 249.3h1.1v1.1h-1.1zM96.1 194.8h1.1v1.1h-1.1zM82.3 218.9h1.1v1.1h-1.1zM82.1 181.1h1.1v1.1h-1.1zM142.1 228.1h1.1v1.1h-1.1zM101.7 199.0h1.1v1.1h-1.1zM102.2 197.9h1.1v1.1h-1.1zM111.8 202.5h1.1v1.1h-1.1zM126.7 198.8h1.1v1.1h-1.1zM133.7 231.8h1.1v1.1h-1.1zM123.7 209.0h1.1v1.1h-1.1zM100.7 204.6h1.1v1.1h-1.1zM125.0 231.8h1.1v1.1h-1.1zM77.7 204.9h1.1v1.1h-1.1zM92.4 245.4h1.1v1.1h-1.1zM120.0 236.8h1.1v1.1h-1.1zM104.4 216.3h1.1v1.1h-1.1zM218.7 223.9h1.1v1.1h-1.1zM122.2 197.1h1.1v1.1h-1.1zM131.4 201.7h1.1v1.1h-1.1zM207.1 216.2h1.1v1.1h-1.1zM116.5 234.0h1.1v1.1h-1.1zM119.2 246.9h1.1v1.1h-1.1zM117.7 212.3h1.1v1.1h-1.1zM94.9 174.6h1.1v1.1h-1.1zM118.9 251.8h1.1v1.1h-1.1zM193.8 213.8h1.1v1.1h-1.1zM112.0 218.7h1.1v1.1h-1.1zM108.9 203.6h1.1v1.1h-1.1zM115.9 235.3h1.1v1.1h-1.1zM113.4 222.4h1.1v1.1h-1.1zM166.7 230.1h1.1v1.1h-1.1zM76.3 219.5h1.1v1.1h-1.1zM103.8 187.5h1.1v1.1h-1.1zM97.8 201.4h1.1v1.1h-1.1zM100.9 203.7h1.1v1.1h-1.1zM133.9 221.9h1.1v1.1h-1.1zM216.2 241.3h1.1v1.1h-1.1zM116.1 245.1h1.1v1.1h-1.1zM111.5 244.9h1.1v1.1h-1.1zM111.2 197.3h1.1v1.1h-1.1zM105.4 228.4h1.1v1.1h-1.1zM108.4 215.3h1.1v1.1h-1.1zM92.2 197.1h1.1v1.1h-1.1zM139.1 237.7h1.1v1.1h-1.1zM97.2 187.3h1.1v1.1h-1.1zM88.7 218.5h1.1v1.1h-1.1zM113.1 190.9h1.1v1.1h-1.1zM109.1 196.2h1.1v1.1h-1.1zM90.0 204.5h1.1v1.1h-1.1zM77.5 207.6h1.1v1.1h-1.1zM109.5 189.1h1.1v1.1h-1.1zM134.5 210.7h1.1v1.1h-1.1zM126.5 228.4h1.1v1.1h-1.1zM102.1 198.0h1.1v1.1h-1.1zM162.0 218.0h1.1v1.1h-1.1zM84.3 242.0h1.1v1.1h-1.1zM181.8 218.3h1.1v1.1h-1.1zM126.3 203.4h1.1v1.1h-1.1zM100.0 229.0h1.1v1.1h-1.1zM105.3 229.8h1.1v1.1h-1.1zM100.4 194.8h1.1v1.1h-1.1zM168.9 217.1h1.1v1.1h-1.1zM90.5 202.2h1.1v1.1h-1.1zM102.8 198.9h1.1v1.1h-1.1zM119.9 253.2h1.1v1.1h-1.1zM119.0 207.0h1.1v1.1h-1.1zM160.2 213.7h1.1v1.1h-1.1zM103.2 204.4h1.1v1.1h-1.1zM122.0 230.7h1.1v1.1h-1.1zM115.9 196.0h1.1v1.1h-1.1zM99.1 177.3h1.1v1.1h-1.1zM117.5 155.4h1.1v1.1h-1.1zM107.8 234.5h1.1v1.1h-1.1zM91.6 203.0h1.1v1.1h-1.1zM141.5 214.4h1.1v1.1h-1.1zM150.2 218.6h1.1v1.1h-1.1zM81.8 178.6h1.1v1.1h-1.1zM170.3 211.7h1.1v1.1h-1.1zM144.6 228.7h1.1v1.1h-1.1zM131.1 238.9h1.1v1.1h-1.1zM176.1 231.4h1.1v1.1h-1.1zM93.4 201.9h1.1v1.1h-1.1zM93.0 176.7h1.1v1.1h-1.1zM114.2 214.3h1.1v1.1h-1.1zM219.0 213.7h1.1v1.1h-1.1zM131.9 209.4h1.1v1.1h-1.1zM121.1 223.0h1.1v1.1h-1.1zM74.9 252.7h1.1v1.1h-1.1zM110.8 209.2h1.1v1.1h-1.1zM116.4 216.0h1.1v1.1h-1.1zM183.8 215.4h1.1v1.1h-1.1zM105.3 206.2h1.1v1.1h-1.1zM74.3 149.7h1.1v1.1h-1.1zM125.1 249.0h1.1v1.1h-1.1zM132.6 247.8h1.1v1.1h-1.1zM127.7 209.1h1.1v1.1h-1.1zM90.9 203.2h1.1v1.1h-1.1zM110.9 197.8h1.1v1.1h-1.1zM85.5 185.5h1.1v1.1h-1.1zM124.7 226.3h1.1v1.1h-1.1zM131.8 223.9h1.1v1.1h-1.1zM89.5 197.1h1.1v1.1h-1.1zM123.4 227.2h1.1v1.1h-1.1zM125.0 242.8h1.1v1.1h-1.1zM161.5 217.5h1.1v1.1h-1.1zM101.5 213.8h1.1v1.1h-1.1zM117.0 242.1h1.1v1.1h-1.1zM89.6 212.1h1.1v1.1h-1.1zM122.7 249.6h1.1v1.1h-1.1zM122.1 222.2h1.1v1.1h-1.1zM126.5 238.9h1.1v1.1h-1.1zM124.3 177.4h1.1v1.1h-1.1zM88.2 208.8h1.1v1.1h-1.1zM170.9 225.5h1.1v1.1h-1.1zM116.9 215.7h1.1v1.1h-1.1zM123.4 219.9h1.1v1.1h-1.1zM90.9 187.1h1.1v1.1h-1.1zM126.5 189.3h1.1v1.1h-1.1zM95.6 183.7h1.1v1.1h-1.1zM90.7 213.3h1.1v1.1h-1.1zM212.2 216.5h1.1v1.1h-1.1zM92.5 218.9h1.1v1.1h-1.1zM104.5 221.5h1.1v1.1h-1.1zM184.2 233.3h1.1v1.1h-1.1zM150.2 224.7h1.1v1.1h-1.1zM109.6 240.5h1.1v1.1h-1.1zM122.0 186.6h1.1v1.1h-1.1zM129.4 223.7h1.1v1.1h-1.1zM124.0 223.8h1.1v1.1h-1.1zM126.9 222.5h1.1v1.1h-1.1zM107.0 235.6h1.1v1.1h-1.1zM108.6 253.7h1.1v1.1h-1.1zM92.1 202.6h1.1v1.1h-1.1zM173.9 228.0h1.1v1.1h-1.1zM94.7 214.9h1.1v1.1h-1.1zM121.8 195.8h1.1v1.1h-1.1zM95.2 193.7h1.1v1.1h-1.1zM169.8 240.9h1.1v1.1h-1.1zM78.3 150.2h1.1v1.1h-1.1zM108.2 195.0h1.1v1.1h-1.1zM100.8 239.2h1.1v1.1h-1.1zM93.7 215.7h1.1v1.1h-1.1zM109.1 204.1h1.1v1.1h-1.1zM119.6 213.9h1.1v1.1h-1.1zM180.6 210.8h1.1v1.1h-1.1zM121.4 221.8h1.1v1.1h-1.1zM101.2 195.5h1.1v1.1h-1.1zM116.3 232.6h1.1v1.1h-1.1zM83.0 183.7h1.1v1.1h-1.1zM126.3 239.4h1.1v1.1h-1.1zM87.1 180.6h1.1v1.1h-1.1zM122.4 207.8h1.1v1.1h-1.1zM112.8 194.8h1.1v1.1h-1.1zM119.0 255.7h1.1v1.1h-1.1zM114.3 195.9h1.1v1.1h-1.1zM118.3 232.7h1.1v1.1h-1.1zM88.9 185.6h1.1v1.1h-1.1zM112.4 208.3h1.1v1.1h-1.1zM130.0 203.5h1.1v1.1h-1.1zM106.5 248.7h1.1v1.1h-1.1zM107.0 242.7h1.1v1.1h-1.1zM112.5 249.8h1.1v1.1h-1.1zM102.7 232.3h1.1v1.1h-1.1zM116.4 234.5h1.1v1.1h-1.1zM88.4 191.1h1.1v1.1h-1.1zM89.9 162.2h1.1v1.1h-1.1zM127.4 228.2h1.1v1.1h-1.1zM110.3 223.1h1.1v1.1h-1.1zM108.9 219.7h1.1v1.1h-1.1zM98.1 195.8h1.1v1.1h-1.1zM163.0 220.5h1.1v1.1h-1.1zM124.6 237.4h1.1v1.1h-1.1zM129.2 228.6h1.1v1.1h-1.1zM128.2 211.9h1.1v1.1h-1.1zM94.9 194.1h1.1v1.1h-1.1zM122.6 216.8h1.1v1.1h-1.1zM113.5 199.6h1.1v1.1h-1.1zM127.8 222.1h1.1v1.1h-1.1zM135.8 222.8h1.1v1.1h-1.1zM111.4 232.8h1.1v1.1h-1.1zM107.9 176.9h1.1v1.1h-1.1zM101.8 195.8h1.1v1.1h-1.1zM115.1 254.5h1.1v1.1h-1.1zM125.5 234.4h1.1v1.1h-1.1zM119.8 234.9h1.1v1.1h-1.1zM162.9 209.8h1.1v1.1h-1.1zM180.5 221.0h1.1v1.1h-1.1zM114.1 225.3h1.1v1.1h-1.1zM109.5 195.5h1.1v1.1h-1.1zM116.0 197.7h1.1v1.1h-1.1zM126.2 228.5h1.1v1.1h-1.1zM119.1 228.3h1.1v1.1h-1.1zM114.7 197.1h1.1v1.1h-1.1zM131.6 231.8h1.1v1.1h-1.1zM218.9 247.4h1.1v1.1h-1.1zM107.8 201.1h1.1v1.1h-1.1zM86.2 163.5h1.1v1.1h-1.1zM97.2 196.0h1.1v1.1h-1.1zM117.3 222.6h1.1v1.1h-1.1zM108.2 200.9h1.1v1.1h-1.1zM154.2 219.6h1.1v1.1h-1.1zM108.8 201.7h1.1v1.1h-1.1zM126.9 219.5h1.1v1.1h-1.1zM100.9 208.2h1.1v1.1h-1.1zM177.0 230.0h1.1v1.1h-1.1zM110.0 221.8h1.1v1.1h-1.1zM97.7 236.7h1.1v1.1h-1.1zM121.5 233.7h1.1v1.1h-1.1zM103.3 225.0h1.1v1.1h-1.1zM79.0 183.7h1.1v1.1h-1.1zM122.4 229.2h1.1v1.1h-1.1zM78.6 195.7h1.1v1.1h-1.1zM119.7 211.5h1.1v1.1h-1.1zM77.7 194.9h1.1v1.1h-1.1zM124.1 196.5h1.1v1.1h-1.1zM125.5 221.9h1.1v1.1h-1.1zM126.6 208.5h1.1v1.1h-1.1zM116.8 211.1h1.1v1.1h-1.1zM107.7 210.5h1.1v1.1h-1.1zM118.3 219.4h1.1v1.1h-1.1zM185.9 222.9h1.1v1.1h-1.1zM120.1 227.1h1.1v1.1h-1.1zM92.9 227.0h1.1v1.1h-1.1zM90.6 215.1h1.1v1.1h-1.1zM144.7 244.8h1.1v1.1h-1.1zM109.8 239.3h1.1v1.1h-1.1zM84.4 190.9h1.1v1.1h-1.1zM123.3 230.0h1.1v1.1h-1.1zM96.0 196.2h1.1v1.1h-1.1zM120.1 184.6h1.1v1.1h-1.1zM115.4 221.1h1.1v1.1h-1.1zM127.4 210.6h1.1v1.1h-1.1zM111.6 237.7h1.1v1.1h-1.1zM119.4 200.0h1.1v1.1h-1.1zM185.7 215.8h1.1v1.1h-1.1zM82.4 192.1h1.1v1.1h-1.1zM121.9 210.7h1.1v1.1h-1.1zM112.5 218.3h1.1v1.1h-1.1zM122.4 225.4h1.1v1.1h-1.1zM102.7 191.9h1.1v1.1h-1.1zM91.7 208.6h1.1v1.1h-1.1zM128.4 234.8h1.1v1.1h-1.1zM103.0 200.2h1.1v1.1h-1.1zM127.2 189.2h1.1v1.1h-1.1zM117.6 210.5h1.1v1.1h-1.1zM108.6 215.2h1.1v1.1h-1.1zM126.2 199.2h1.1v1.1h-1.1zM123.7 240.4h1.1v1.1h-1.1zM100.5 192.6h1.1v1.1h-1.1zM125.2 196.7h1.1v1.1h-1.1zM90.3 171.5h1.1v1.1h-1.1zM102.1 188.4h1.1v1.1h-1.1zM120.5 244.4h1.1v1.1h-1.1zM120.0 228.6h1.1v1.1h-1.1zM99.4 187.9h1.1v1.1h-1.1zM92.9 198.2h1.1v1.1h-1.1zM123.6 238.0h1.1v1.1h-1.1zM78.9 158.7h1.1v1.1h-1.1zM104.5 192.6h1.1v1.1h-1.1zM127.8 211.5h1.1v1.1h-1.1zM118.1 228.9h1.1v1.1h-1.1zM101.9 219.1h1.1v1.1h-1.1zM118.9 244.9h1.1v1.1h-1.1zM96.1 197.9h1.1v1.1h-1.1zM114.8 218.7h1.1v1.1h-1.1zM111.7 219.4h1.1v1.1h-1.1zM94.4 177.8h1.1v1.1h-1.1zM108.2 227.4h1.1v1.1h-1.1zM218.2 245.1h1.1v1.1h-1.1zM117.0 238.4h1.1v1.1h-1.1zM145.5 228.9h1.1v1.1h-1.1zM219.2 220.2h1.1v1.1h-1.1zM125.2 218.3h1.1v1.1h-1.1zM75.5 188.8h1.1v1.1h-1.1zM97.0 226.6h1.1v1.1h-1.1zM109.7 198.4h1.1v1.1h-1.1zM121.9 228.9h1.1v1.1h-1.1zM98.3 167.5h1.1v1.1h-1.1zM111.7 247.9h1.1v1.1h-1.1zM112.2 229.7h1.1v1.1h-1.1zM109.6 231.0h1.1v1.1h-1.1zM126.7 221.3h1.1v1.1h-1.1z"/>
<path fill="rgb(110, 190, 80)" d="M193.0 179.2h1.1v1.1h-1.1zM172.8 175.1h1.1v1.1h-1.1zM187.7 180.5h1.1v1.1h-1.1zM174.6 176.5h1.1v1.1h-1.1zM177.4 178.0h1.1v1.1h-1.1zM183.5 182.8h1.1v1.1h-1.1zM165.4 182.6h1.1v1.1h-1.1zM172.7 182.4h1.1v1.1h-1.1zM181.6 172.6h1.1v1.1h-1.1zM173.3 176.3h1.1v1.1h-1.1zM178.0 178.0h1.1v1.1h-1.1zM167.0 176.5h1.1v1.1h-1.1zM170.1 179.1h1.1v1.1h-1.1zM166.5 176.0h1.1v1.1h-1.1zM171.5 184.6h1.1v1.1h-1.1zM178.8 179.0h1.1v1.1h-1.1zM168.9 183.6h1.1v1.1h-1.1zM172.6 187.2h1.1v1.1h-1.1zM169.7 177.6h1.1v1.1h-1.1zM191.6 176.2h1.1v1.1h-1.1zM176.2 181.0h1.1v1.1h-1.1zM161.2 183.3h1.1v1.1h-1.1zM175.3 179.7h1.1v1.1h-1.1zM155.9 182.7h1.1v1.1h-1.1zM190.1 178.3h1.1v1.1h-1.1zM155.4 181.1h1.1v1.1h-1.1zM172.1 175.4h1.1v1.1h-1.1zM185.6 171.4h1.1v1.1h-1.1zM204.3 197.5h1.1v1.1h-1.1zM162.1 183.6h1.1v1.1h-1.1zM172.6 178.3h1.1v1.1h-1.1zM164.6 178.2h1.1v1.1h-1.1zM180.5 186.6h1.1v1.1h-1.1zM158.8 145.4h1.1v1.1h-1.1zM169.6 176.0h1.1v1.1h-1.1zM187.8 173.0h1.1v1.1h-1.1zM162.4 179.4h1.1v1.1h-1.1zM157.1 187.8h1.1v1.1h-1.1zM178.4 161.1h1.1v1.1h-1.1zM185.0 152.9h1.1v1.1h-1.1zM172.9 180.8h1.1v1.1h-1.1zM191.1 178.1h1.1v1.1h-1.1zM179.8 181.7h1.1v1.1h-1.1zM169.8 178.2h1.1v1.1h-1.1zM190.4 171.6h1.1v1.1h-1.1zM179.7 179.0h1.1v1.1h-1.1zM169.7 184.0h1.1v1.1h-1.1zM179.1 161.8h1.1v1.1h-1.1zM176.4 185.3h1.1v1.1h-1.1zM159.3 185.5h1.1v1.1h-1.1zM170.9 180.8h1.1v1.1h-1.1zM163.3 181.3h1.1v1.1h-1.1zM175.0 179.5h1.1v1.1h-1.1zM182.9 170.9h1.1v1.1h-1.1zM165.3 187.5h1.1v1.1h-1.1zM188.7 178.2h1.1v1.1h-1.1zM180.7 177.5h1.1v1.1h-1.1zM179.9 177.7h1.1v1.1h-1.1zM191.4 174.8h1.1v1.1h-1.1zM169.2 179.7h1.1v1.1h-1.1zM171.8 175.3h1.1v1.1h-1.1zM200.2 190.6h1.1v1.1h-1.1zM154.3 179.7h1.1v1.1h-1.1zM214.6 171.3h1.1v1.1h-1.1zM175.4 181.0h1.1v1.1h-1.1zM164.2 178.6h1.1v1.1h-1.1zM179.6 175.4h1.1v1.1h-1.1zM178.9 177.7h1.1v1.1h-1.1zM138.8 176.9h1.1v1.1h-1.1zM183.2 172.8h1.1v1.1h-1.1zM180.4 174.7h1.1v1.1h-1.1zM190.4 172.9h1.1v1.1h-1.1zM157.0 180.9h1.1v1.1h-1.1zM171.6 176.3h1.1v1.1h-1.1zM171.6 173.4h1.1v1.1h-1.1zM161.2 190.0h1.1v1.1h-1.1zM164.0 179.2h1.1v1.1h-1.1zM199.9 165.0h1.1v1.1h-1.1zM162.9 179.7h1.1v1.1h-1.1zM171.5 176.6h1.1v1.1h-1.1zM187.3 172.6h1.1v1.1h-1.1zM161.2 203.4h1.1v1.1h-1.1zM175.0 180.0h1.1v1.1h-1.1zM160.3 181.6h1.1v1.1h-1.1zM166.4 178.2h1.1v1.1h-1.1zM166.1 178.9h1.1v1.1h-1.1zM147.1 191.1h1.1v1.1h-1.1zM185.4 172.0h1.1v1.1h-1.1zM189.3 174.8h1.1v1.1h-1.1zM167.2 181.0h1.1v1.1h-1.1zM175.4 180.0h1.1v1.1h-1.1zM189.5 173.8h1.1v1.1h-1.1zM189.7 174.0h1.1v1.1h-1.1zM184.6 193.7h1.1v1.1h-1.1zM180.9 181.3h1.1v1.1h-1.1zM188.7 190.3h1.1v1.1h-1.1zM175.1 183.1h1.1v1.1h-1.1zM165.7 178.2h1.1v1.1h-1.1zM164.9 184.2h1.1v1.1h-1.1zM157.5 187.8h1.1v1.1h-1.1zM165.0 185.5h1.1v1.1h-1.1zM178.1 178.9h1.1v1.1h-1.1zM179.3 182.1h1.1v1.1h-1.1zM163.4 182.9h1.1v1.1h-1.1zM187.1 173.3h1.1v1.1h-1.1zM160.0 182.1h1.1v1.1h-1.1zM195.5 173.0h1.1v1.1h-1.1zM159.0 183.0h1.1v1.1h-1.1zM169.6 181.0h1.1v1.1h-1.1zM171.9 179.7h1.1v1.1h-1.1zM200.1 173.6h1.1v1.1h-1.1zM157.9 177.3h1.1v1.1h-1.1zM187.2 180.0h1.1v1.1h-1.1zM161.1 180.5h1.1v1.1h-1.1zM170.6 175.0h1.1v1.1h-1.1zM179.8 176.5h1.1v1.1h-1.1zM171.3 160.4h1.1v1.1h-1.1zM159.7 179.3h1.1v1.1h-1.1zM173.9 176.4h1.1v1.1h-1.1zM185.8 173.3h1.1v1.1h-1.1zM180.5 180.3h1.1v1.1h-1.1zM177.8 182.1h1.1v1.1h-1.1zM183.5 165.9h1.1v1.1h-1.1zM168.0 184.7h1.1v1.1h-1.1zM165.6 182.4h1.1v1.1h-1.1zM174.7 174.6h1.1v1.1h-1.1zM181.3 174.1h1.1v1.1h-1.1zM181.3 172.6h1.1v1.1h-1.1zM183.5 183.6h1.1v1.1h-1.1zM183.7 174.2h1.1v1.1h-1.1zM160.7 182.5h1.1v1.1h-1.1zM158.8 183.5h1.1v1.1h-1.1zM183.1 173.1h1.1v1.1h-1.1zM176.0 178.6h1.1v1.1h-1.1zM165.0 178.4h1.1v1.1h-1.1zM182.6 170.3h1.1v1.1h-1.1zM192.9 196.8h1.1v1.1h-1.1zM164.5 183.1h1.1v1.1h-1.1zM177.6 181.5h1.1v1.1h-1.1zM174.9 169.4h1.1v1.1h-1.1zM178.0 175.2h1.1v1.1h-1.1zM170.2 183.7h1.1v1.1h-1.1zM136.8 183.9h1.1v1.1h-1.1zM179.9 185.4h1.1v1.1h-1.1zM155.8 184.2h1.1v1.1h-1.1zM193.1 169.7h1.1v1.1h-1.1zM157.9 200.8h1.1v1.1h-1.1zM164.6 180.6h1.1v1.1h-1.1zM156.0 177.3h1.1v1.1h-1.1zM192.4 198.0h1.1v1.1h-1.1zM177.7 181.1h1.1v1.1h-1.1zM159.9 183.6h1.1v1.1h-1.1zM158.8 177.5h1.1v1.1h-1.1zM183.6 177.7h1.1v1.1h-1.1zM161.2 184.1h1.1v1.1h-1.1z"/>
<path fill="rgb(60, 155, 160)" d="M196.8 178.2h1.1v1.1h-1.1zM159.4 187.3h1.1v1.1h-1.1zM137.5 188.5h1.1v1.1h-1.1zM188.2 167.7h1.1v1.1h-1.1zM142.9 204.3h1.1v1.1h-1.1zM193.9 173.2h1.1v1.1h-1.1zM152.6 176.6h1.1v1.1h-1.1zM182.2 183.6h1.1v1.1h-1.1zM178.0 185.9h1.1v1.1h-1.1zM158.1 187.2h1.1v1.1h-1.1zM202.2 183.1h1.1v1.1h-1.1zM145.0 205.7h1.1v1.1h-1.1zM178.0 133.4h1.1v1.1h-1.1zM206.2 175.8h1.1v1.1h-1.1zM188.2 169.3h1.1v1.1h-1.1zM177.8 168.4h1.1v1.1h-1.1zM216.7 167.8h1.1v1.1h-1.1zM187.4 164.8h1.1v1.1h-1.1zM203.6 174.4h1.1v1.1h-1.1zM212.2 159.9h1.1v1.1h-1.1zM176.8 181.3h1.1v1.1h-1.1zM179.8 175.9h1.1v1.1h-1.1zM158.1 174.4h1.1v1.1h-1.1zM180.7 183.8h1.1v1.1h-1.1zM210.1 167.7h1.1v1.1h-1.1zM191.3 170.6h1.1v1.1h-1.1zM167.1 177.2h1.1v1.1h-1.1zM179.7 175.7h1.1v1.1h-1.1zM169.0 180.9h1.1v1.1h-1.1zM187.7 183.5h1.1v1.1h-1.1zM174.9 176.8h1.1v1.1h-1.1zM162.5 169.0h1.1v1.1h-1.1zM173.0 143.6h1.1v1.1h-1.1zM182.8 180.8h1.1v1.1h-1.1zM194.1 203.6h1.1v1.1h-1.1zM152.6 168.4h1.1v1.1h-1.1zM169.5 195.3h1.1v1.1h-1.1zM201.7 177.0h1.1v1.1h-1.1zM199.6 167.9h1.1v1.1h-1.1zM154.6 178.5h1.1v1.1h-1.1zM148.4 179.4h1.1v1.1h-1.1zM175.1 182.6h1.1v1.1h-1.1zM146.0 179.6h1.1v1.1h-1.1zM189.1 168.2h1.1v1.1h-1.1zM183.2 181.5h1.1v1.1h-1.1zM191.6 183.3h1.1v1.1h-1.1zM167.3 176.5h1.1v1.1h-1.1zM179.5 173.8h1.1v1.1h-1.1zM175.9 183.7h1.1v1.1h-1.1zM152.4 196.0h1.1v1.1h-1.1zM156.1 182.3h1.1v1.1h-1.1zM176.6 194.0h1.1v1.1h-1.1zM180.2 182.0h1.1v1.1h-1.1zM143.8 176.4h1.1v1.1h-1.1zM173.4 179.2h1.1v1.1h-1.1zM174.9 176.2h1.1v1.1h-1.1zM203.2 189.6h1.1v1.1h-1.1zM196.5 179.1h1.1v1.1h-1.1zM162.2 190.4h1.1v1.1h-1.1zM162.0 193.6h1.1v1.1h-1.1zM153.1 182.0h1.1v1.1h-1.1zM157.2 188.2h1.1v1.1h-1.1zM172.4 200.6h1.1v1.1h-1.1zM184.7 197.7h1.1v1.1h-1.1zM184.0 180.3h1.1v1.1h-1.1zM192.1 188.7h1.1v1.1h-1.1zM151.7 193.2h1.1v1.1h-1.1zM175.8 183.0h1.1v1.1h-1.1zM220.9 205.4h1.1v1.1h-1.1zM188.6 170.6h1.1v1.1h-1.1zM194.5 172.9h1.1v1.1h-1.1zM193.5 174.7h1.1v1.1h-1.1zM178.6 185.2h1.1v1.1h-1.1zM182.0 201.4h1.1v1.1h-1.1zM165.3 183.9h1.1v1.1h-1.1zM190.8 175.7h1.1v1.1h-1.1zM154.9 172.1h1.1v1.1h-1.1zM178.0 178.7h1.1v1.1h-1.1zM191.1 175.7h1.1v1.1h-1.1zM185.7 181.1h1.1v1.1h-1.1zM200.5 205.2h1.1v1.1h-1.1zM149.3 201.6h1.1v1.1h-1.1zM220.7 187.0h1.1v1.1h-1.1zM148.5 191.4h1.1v1.1h-1.1zM180.5 181.2h1.1v1.1h-1.1zM176.6 168.7h1.1v1.1h-1.1zM197.2 190.7h1.1v1.1h-1.1zM153.7 182.9h1.1v1.1h-1.1zM148.8 163.3h1.1v1.1h-1.1zM151.2 158.7h1.1v1.1h-1.1zM146.6 193.8h1.1v1.1h-1.1zM174.7 173.7h1.1v1.1h-1.1zM155.1 175.8h1.1v1.1h-1.1zM213.2 138.8h1.1v1.1h-1.1zM156.7 189.1h1.1v1.1h-1.1zM204.0 180.9h1.1v1.1h-1.1zM177.4 183.0h1.1v1.1h-1.1zM202.3 163.4h1.1v1.1h-1.1zM174.1 184.4h1.1v1.1h-1.1zM165.8 187.7h1.1v1.1h-1.1zM200.4 165.9h1.1v1.1h-1.1zM195.8 166.0h1.1v1.1h-1.1zM174.2 185.6h1.1v1.1h-1.1zM161.0 185.9h1.1v1.1h-1.1zM189.2 180.4h1.1v1.1h-1.1zM183.1 200.7h1.1v1.1h-1.1zM193.4 179.0h1.1v1.1h-1.1zM199.9 165.0h1.1v1.1h-1.1zM167.7 174.5h1.1v1.1h-1.1z"/>
<path fill="rgb(215, 135, 45)" d="M183.3 175.8h1.1v1.1h-1.1zM185.8 174.6h1.1v1.1h-1.1zM182.1 178.5h1.1v1.1h-1.1zM184.9 175.4h1.1v1.1h-1.1zM184.5 173.6h1.1v1.1h-1.1zM186.3 177.2h1.1v1.1h-1.1zM182.2 178.0h1.1v1.1h-1.1zM188.9 176.4h1.1v1.1h-1.1zM187.1 173.8h1.1v1.1h-1.1zM184.2 176.0h1.1v1.1h-1.1zM191.1 176.1h1.1v1.1h-1.1zM183.3 176.0h1.1v1.1h-1.1zM184.6 176.6h1.1v1.1h-1.1zM185.0 177.1h1.1v1.1h-1.1zM189.1 177.4h1.1v1.1h-1.1zM185.3 175.1h1.1v1.1h-1.1zM186.6 176.5h1.1v1.1h-1.1zM185.5 176.7h1.1v1.1h-1.1zM188.2 173.7h1.1v1.1h-1.1zM187.2 177.8h1.1v1.1h-1.1z"/>
<path fill="rgb(195, 195, 60)" d="M163.6 167.5h1.1v1.1h-1.1zM160.6 173.5h1.1v1.1h-1.1zM216.4 188.7h1.1v1.1h-1.1zM181.1 176.2h1.1v1.1h-1.1zM186.8 179.4h1.1v1.1h-1.1zM178.3 166.5h1.1v1.1h-1.1zM193.9 172.1h1.1v1.1h-1.1zM187.8 179.3h1.1v1.1h-1.1zM138.2 176.5h1.1v1.1h-1.1zM181.4 177.0h1.1v1.1h-1.1zM185.9 179.6h1.1v1.1h-1.1zM189.1 177.6h1.1v1.1h-1.1zM187.2 174.1h1.1v1.1h-1.1zM171.8 177.9h1.1v1.1h-1.1zM193.0 158.7h1.1v1.1h-1.1zM219.5 156.4h1.1v1.1h-1.1zM182.6 177.8h1.1v1.1h-1.1zM186.2 179.6h1.1v1.1h-1.1zM182.8 174.5h1.1v1.1h-1.1zM189.1 168.4h1.1v1.1h-1.1zM193.9 178.0h1.1v1.1h-1.1zM185.6 181.0h1.1v1.1h-1.1zM197.9 173.3h1.1v1.1h-1.1zM178.5 177.0h1.1v1.1h-1.1zM169.4 175.7h1.1v1.1h-1.1zM182.1 177.9h1.1v1.1h-1.1zM184.9 180.5h1.1v1.1h-1.1zM196.7 181.5h1.1v1.1h-1.1zM196.7 153.7h1.1v1.1h-1.1zM183.4 175.7h1.1v1.1h-1.1zM178.6 171.1h1.1v1.1h-1.1zM183.4 178.9h1.1v1.1h-1.1zM191.5 178.1h1.1v1.1h-1.1zM188.9 181.1h1.1v1.1h-1.1zM186.9 179.1h1.1v1.1h-1.1zM177.8 186.3h1.1v1.1h-1.1zM184.3 166.4h1.1v1.1h-1.1zM182.1 177.7h1.1v1.1h-1.1zM182.3 200.6h1.1v1.1h-1.1zM190.5 175.2h1.1v1.1h-1.1zM152.3 189.6h1.1v1.1h-1.1zM160.4 190.1h1.1v1.1h-1.1zM188.6 161.9h1.1v1.1h-1.1zM202.6 168.6h1.1v1.1h-1.1zM188.1 174.3h1.1v1.1h-1.1zM188.2 176.5h1.1v1.1h-1.1zM191.1 176.9h1.1v1.1h-1.1z"/>
<path fill="rgb(170, 200, 60)" d="M174.4 181.2h1.1v1.1h-1.1zM169.8 172.7h1.1v1.1h-1.1zM165.0 188.2h1.1v1.1h-1.1zM193.2 176.7h1.1v1.1h-1.1zM169.8 182.7h1.1v1.1h-1.1zM168.9 180.8h1.1v1.1h-1.1zM173.1 173.7h1.1v1.1h-1.1zM178.7 176.7h1.1v1.1h-1.1zM192.2 173.0h1.1v1.1h-1.1zM166.1 177.7h1.1v1.1h-1.1zM180.8 187.3h1.1v1.1h-1.1zM198.7 191.9h1.1v1.1h-1.1zM169.0 156.0h1.1v1.1h-1.1zM172.2 179.6h1.1v1.1h-1.1zM166.2 176.8h1.1v1.1h-1.1zM167.4 183.3h1.1v1.1h-1.1zM171.2 174.3h1.1v1.1h-1.1zM178.1 178.1h1.1v1.1h-1.1zM163.6 184.6h1.1v1.1h-1.1zM172.6 181.3h1.1v1.1h-1.1zM169.9 172.7h1.1v1.1h-1.1zM173.4 179.9h1.1v1.1h-1.1zM158.5 180.0h1.1v1.1h-1.1zM171.5 184.2h1.1v1.1h-1.1zM180.1 174.9h1.1v1.1h-1.1zM191.5 172.3h1.1v1.1h-1.1zM172.3 183.2h1.1v1.1h-1.1zM164.5 181.2h1.1v1.1h-1.1zM177.0 177.4h1.1v1.1h-1.1zM183.3 181.6h1.1v1.1h-1.1zM165.3 180.0h1.1v1.1h-1.1zM174.6 182.0h1.1v1.1h-1.1z"/>
<path fill="rgb(70, 78, 185)" d="M183.5 186.6h1.1v1.1h-1.1zM156.6 178.3h1.1v1.1h-1.1zM142.7 175.1h1.1v1.1h-1.1zM220.0 197.9h1.1v1.1h-1.1zM157.5 172.0h1.1v1.1h-1.1zM182.1 190.7h1.1v1.1h-1.1zM160.1 201.2h1.1v1.1h-1.1zM211.1 159.0h1.1v1.1h-1.1zM128.7 188.0h1.1v1.1h-1.1zM159.3 193.6h1.1v1.1h-1.1zM207.2 167.0h1.1v1.1h-1.1zM148.3 213.9h1.1v1.1h-1.1zM168.6 201.4h1.1v1.1h-1.1zM173.8 159.3h1.1v1.1h-1.1zM217.5 184.9h1.1v1.1h-1.1zM147.1 204.2h1.1v1.1h-1.1zM169.7 151.7h1.1v1.1h-1.1zM181.4 195.2h1.1v1.1h-1.1zM183.7 164.2h1.1v1.1h-1.1zM196.7 190.8h1.1v1.1h-1.1zM181.3 153.9h1.1v1.1h-1.1zM166.2 169.5h1.1v1.1h-1.1zM196.3 177.9h1.1v1.1h-1.1zM168.8 188.4h1.1v1.1h-1.1zM168.2 167.7h1.1v1.1h-1.1zM194.5 175.9h1.1v1.1h-1.1zM175.0 170.5h1.1v1.1h-1.1zM149.3 183.6h1.1v1.1h-1.1zM183.8 185.4h1.1v1.1h-1.1zM199.5 203.1h1.1v1.1h-1.1zM173.9 152.6h1.1v1.1h-1.1zM189.7 188.8h1.1v1.1h-1.1zM189.2 155.3h1.1v1.1h-1.1zM223.4 179.8h1.1v1.1h-1.1zM206.9 164.1h1.1v1.1h-1.1zM213.2 181.7h1.1v1.1h-1.1zM177.1 190.8h1.1v1.1h-1.1zM185.9 166.2h1.1v1.1h-1.1zM157.5 181.8h1.1v1.1h-1.1zM148.5 169.7h1.1v1.1h-1.1zM219.6 186.9h1.1v1.1h-1.1zM176.4 161.9h1.1v1.1h-1.1zM181.0 142.9h1.1v1.1h-1.1zM178.8 192.0h1.1v1.1h-1.1zM212.4 151.5h1.1v1.1h-1.1zM202.8 176.9h1.1v1.1h-1.1zM194.7 204.4h1.1v1.1h-1.1zM175.0 196.9h1.1v1.1h-1.1zM187.8 169.6h1.1v1.1h-1.1zM164.7 174.4h1.1v1.1h-1.1zM208.4 185.2h1.1v1.1h-1.1zM201.2 196.3h1.1v1.1h-1.1zM174.5 159.7h1.1v1.1h-1.1zM160.5 190.6h1.1v1.1h-1.1zM181.7 187.7h1.1v1.1h-1.1zM200.4 162.7h1.1v1.1h-1.1zM171.4 168.6h1.1v1.1h-1.1zM170.2 171.3h1.1v1.1h-1.1zM202.4 193.4h1.1v1.1h-1.1zM186.3 164.2h1.1v1.1h-1.1zM198.6 173.0h1.1v1.1h-1.1zM153.5 176.3h1.1v1.1h-1.1zM193.9 176.9h1.1v1.1h-1.1zM196.6 162.3h1.1v1.1h-1.1zM215.4 192.6h1.1v1.1h-1.1zM219.8 154.7h1.1v1.1h-1.1zM195.2 159.9h1.1v1.1h-1.1zM145.3 211.6h1.1v1.1h-1.1zM156.9 175.6h1.1v1.1h-1.1zM171.5 166.4h1.1v1.1h-1.1zM183.4 183.1h1.1v1.1h-1.1zM180.6 185.0h1.1v1.1h-1.1zM161.9 197.1h1.1v1.1h-1.1zM139.9 189.1h1.1v1.1h-1.1zM190.7 170.9h1.1v1.1h-1.1zM178.4 196.6h1.1v1.1h-1.1zM151.7 187.8h1.1v1.1h-1.1zM187.0 197.4h1.1v1.1h-1.1zM196.6 176.6h1.1v1.1h-1.1zM181.6 190.7h1.1v1.1h-1.1zM172.3 188.4h1.1v1.1h-1.1zM192.8 193.6h1.1v1.1h-1.1zM178.1 168.1h1.1v1.1h-1.1zM184.3 203.0h1.1v1.1h-1.1zM189.9 162.0h1.1v1.1h-1.1zM172.7 170.9h1.1v1.1h-1.1zM135.9 168.5h1.1v1.1h-1.1zM179.4 196.0h1.1v1.1h-1.1zM178.9 162.0h1.1v1.1h-1.1zM138.5 204.5h1.1v1.1h-1.1zM156.0 175.0h1.1v1.1h-1.1zM197.6 187.8h1.1v1.1h-1.1zM161.1 156.5h1.1v1.1h-1.1zM173.2 187.4h1.1v1.1h-1.1zM195.3 172.5h1.1v1.1h-1.1zM151.9 179.3h1.1v1.1h-1.1zM194.4 180.5h1.1v1.1h-1.1zM134.9 184.5h1.1v1.1h-1.1zM169.5 205.9h1.1v1.1h-1.1zM167.0 207.3h1.1v1.1h-1.1zM184.8 189.1h1.1v1.1h-1.1zM166.0 202.3h1.1v1.1h-1.1zM185.5 183.0h1.1v1.1h-1.1zM157.6 201.8h1.1v1.1h-1.1zM203.2 161.0h1.1v1.1h-1.1zM142.3 181.9h1.1v1.1h-1.1zM156.1 184.6h1.1v1.1h-1.1zM202.5 181.8h1.1v1.1h-1.1zM177.4 164.6h1.1v1.1h-1.1zM179.7 166.1h1.1v1.1h-1.1zM219.1 186.9h1.1v1.1h-1.1zM137.0 182.0h1.1v1.1h-1.1zM194.7 163.5h1.1v1.1h-1.1zM173.2 172.5h1.1v1.1h-1.1zM133.9 184.4h1.1v1.1h-1.1zM178.2 185.4h1.1v1.1h-1.1zM160.2 172.7h1.1v1.1h-1.1zM180.8 214.5h1.1v1.1h-1.1zM156.0 189.9h1.1v1.1h-1.1zM209.8 187.2h1.1v1.1h-1.1zM139.6 176.2h1.1v1.1h-1.1zM182.6 168.7h1.1v1.1h-1.1zM223.1 152.7h1.1v1.1h-1.1zM203.7 172.8h1.1v1.1h-1.1zM167.1 170.0h1.1v1.1h-1.1zM143.2 205.2h1.1v1.1h-1.1zM144.1 176.8h1.1v1.1h-1.1zM172.8 213.8h1.1v1.1h-1.1zM197.3 146.8h1.1v1.1h-1.1zM146.1 180.1h1.1v1.1h-1.1zM180.0 185.5h1.1v1.1h-1.1zM204.5 181.3h1.1v1.1h-1.1zM207.1 169.7h1.1v1.1h-1.1zM132.8 178.5h1.1v1.1h-1.1zM141.1 184.5h1.1v1.1h-1.1zM161.9 192.2h1.1v1.1h-1.1zM183.3 169.7h1.1v1.1h-1.1zM147.0 180.6h1.1v1.1h-1.1zM195.5 168.9h1.1v1.1h-1.1zM208.8 158.6h1.1v1.1h-1.1zM202.1 175.8h1.1v1.1h-1.1zM176.2 170.3h1.1v1.1h-1.1zM180.6 161.1h1.1v1.1h-1.1zM204.4 178.4h1.1v1.1h-1.1zM174.9 200.8h1.1v1.1h-1.1zM175.1 155.0h1.1v1.1h-1.1zM175.2 194.7h1.1v1.1h-1.1zM197.8 179.1h1.1v1.1h-1.1zM192.0 190.4h1.1v1.1h-1.1zM193.6 168.1h1.1v1.1h-1.1zM177.7 189.3h1.1v1.1h-1.1zM165.5 165.8h1.1v1.1h-1.1zM159.5 155.0h1.1v1.1h-1.1zM186.7 193.4h1.1v1.1h-1.1zM216.2 172.7h1.1v1.1h-1.1zM186.9 185.8h1.1v1.1h-1.1zM203.0 155.2h1.1v1.1h-1.1zM139.1 192.6h1.1v1.1h-1.1zM176.0 190.3h1.1v1.1h-1.1zM186.6 182.8h1.1v1.1h-1.1zM195.2 158.8h1.1v1.1h-1.1zM158.1 197.6h1.1v1.1h-1.1zM171.7 189.6h1.1v1.1h-1.1zM162.5 191.4h1.1v1.1h-1.1zM151.6 175.3h1.1v1.1h-1.1zM196.7 177.6h1.1v1.1h-1.1zM196.6 147.9h1.1v1.1h-1.1zM146.1 153.2h1.1v1.1h-1.1zM150.0 165.8h1.1v1.1h-1.1zM188.1 166.7h1.1v1.1h-1.1zM177.4 185.4h1.1v1.1h-1.1zM153.4 182.2h1.1v1.1h-1.1zM149.0 176.3h1.1v1.1h-1.1zM164.2 182.3h1.1v1.1h-1.1zM174.9 186.9h1.1v1.1h-1.1zM191.9 155.7h1.1v1.1h-1.1zM167.4 199.4h1.1v1.1h-1.1zM156.3 189.8h1.1v1.1h-1.1zM165.6 172.7h1.1v1.1h-1.1zM158.2 171.2h1.1v1.1h-1.1zM175.5 152.9h1.1v1.1h-1.1zM203.0 181.6h1.1v1.1h-1.1zM143.0 167.1h1.1v1.1h-1.1zM179.0 195.6h1.1v1.1h-1.1zM172.0 202.5h1.1v1.1h-1.1zM162.4 185.0h1.1v1.1h-1.1zM197.5 180.6h1.1v1.1h-1.1zM179.4 168.6h1.1v1.1h-1.1zM188.9 186.4h1.1v1.1h-1.1zM202.4 190.8h1.1v1.1h-1.1zM197.6 165.7h1.1v1.1h-1.1zM153.8 175.5h1.1v1.1h-1.1zM162.5 195.0h1.1v1.1h-1.1zM212.4 139.5h1.1v1.1h-1.1zM153.7 178.1h1.1v1.1h-1.1zM172.3 214.9h1.1v1.1h-1.1zM199.0 172.5h1.1v1.1h-1.1zM183.3 200.4h1.1v1.1h-1.1zM193.8 166.1h1.1v1.1h-1.1zM137.3 179.0h1.1v1.1h-1.1zM195.6 189.9h1.1v1.1h-1.1zM192.3 187.4h1.1v1.1h-1.1zM171.6 160.1h1.1v1.1h-1.1zM190.7 163.9h1.1v1.1h-1.1zM170.2 191.7h1.1v1.1h-1.1zM203.6 167.4h1.1v1.1h-1.1zM155.3 194.5h1.1v1.1h-1.1zM140.0 191.4h1.1v1.1h-1.1zM184.3 182.4h1.1v1.1h-1.1zM147.8 171.3h1.1v1.1h-1.1zM151.8 194.4h1.1v1.1h-1.1zM159.8 203.9h1.1v1.1h-1.1zM162.3 176.5h1.1v1.1h-1.1zM195.5 179.8h1.1v1.1h-1.1zM151.1 177.9h1.1v1.1h-1.1zM178.6 148.4h1.1v1.1h-1.1zM199.5 170.0h1.1v1.1h-1.1zM178.7 171.7h1.1v1.1h-1.1zM207.8 211.6h1.1v1.1h-1.1zM192.4 193.8h1.1v1.1h-1.1zM168.2 168.0h1.1v1.1h-1.1zM170.4 187.2h1.1v1.1h-1.1zM164.6 193.3h1.1v1.1h-1.1zM188.6 167.3h1.1v1.1h-1.1zM178.4 186.4h1.1v1.1h-1.1zM147.5 182.0h1.1v1.1h-1.1zM173.4 194.1h1.1v1.1h-1.1zM160.9 191.0h1.1v1.1h-1.1zM171.8 191.8h1.1v1.1h-1.1zM152.1 201.0h1.1v1.1h-1.1zM171.1 205.8h1.1v1.1h-1.1zM149.3 180.7h1.1v1.1h-1.1zM180.1 171.8h1.1v1.1h-1.1zM196.5 184.3h1.1v1.1h-1.1zM200.4 188.5h1.1v1.1h-1.1zM174.3 174.1h1.1v1.1h-1.1zM135.0 155.6h1.1v1.1h-1.1zM213.0 150.6h1.1v1.1h-1.1zM185.2 164.7h1.1v1.1h-1.1zM199.3 167.1h1.1v1.1h-1.1zM169.0 206.2h1.1v1.1h-1.1zM199.6 176.9h1.1v1.1h-1.1zM198.0 177.4h1.1v1.1h-1.1zM157.4 189.1h1.1v1.1h-1.1zM181.1 188.4h1.1v1.1h-1.1zM173.1 194.4h1.1v1.1h-1.1zM204.6 161.1h1.1v1.1h-1.1zM170.0 205.6h1.1v1.1h-1.1zM184.9 184.2h1.1v1.1h-1.1zM159.2 187.1h1.1v1.1h-1.1zM180.1 194.8h1.1v1.1h-1.1zM170.6 156.6h1.1v1.1h-1.1zM154.4 190.7h1.1v1.1h-1.1zM189.8 164.0h1.1v1.1h-1.1zM194.0 151.5h1.1v1.1h-1.1zM164.9 165.7h1.1v1.1h-1.1zM194.7 166.2h1.1v1.1h-1.1zM161.9 168.7h1.1v1.1h-1.1zM171.2 211.8h1.1v1.1h-1.1zM189.8 152.2h1.1v1.1h-1.1zM206.4 132.5h1.1v1.1h-1.1zM157.1 188.6h1.1v1.1h-1.1zM149.7 186.7h1.1v1.1h-1.1zM161.7 170.1h1.1v1.1h-1.1zM175.7 175.5h1.1v1.1h-1.1zM184.2 199.4h1.1v1.1h-1.1zM171.8 182.9h1.1v1.1h-1.1zM163.3 159.3h1.1v1.1h-1.1zM192.2 164.1h1.1v1.1h-1.1zM180.4 170.7h1.1v1.1h-1.1zM208.7 155.2h1.1v1.1h-1.1zM123.8 184.8h1.1v1.1h-1.1zM193.3 194.9h1.1v1.1h-1.1zM164.9 208.3h1.1v1.1h-1.1zM197.2 162.3h1.1v1.1h-1.1zM201.2 177.8h1.1v1.1h-1.1zM171.0 184.7h1.1v1.1h-1.1zM174.7 201.9h1.1v1.1h-1.1zM146.8 187.7h1.1v1.1h-1.1zM205.1 173.0h1.1v1.1h-1.1zM191.7 168.2h1.1v1.1h-1.1zM162.8 197.3h1.1v1.1h-1.1zM160.0 172.1h1.1v1.1h-1.1zM185.8 163.0h1.1v1.1h-1.1zM210.7 163.5h1.1v1.1h-1.1zM203.9 177.3h1.1v1.1h-1.1zM203.2 179.5h1.1v1.1h-1.1zM172.2 164.9h1.1v1.1h-1.1zM174.5 179.9h1.1v1.1h-1.1zM182.0 166.7h1.1v1.1h-1.1zM200.0 169.7h1.1v1.1h-1.1zM175.9 173.0h1.1v1.1h-1.1zM219.0 170.3h1.1v1.1h-1.1zM174.1 194.6h1.1v1.1h-1.1zM164.0 171.4h1.1v1.1h-1.1zM187.2 163.5h1.1v1.1h-1.1zM174.2 171.5h1.1v1.1h-1.1zM207.9 159.6h1.1v1.1h-1.1zM203.9 158.1h1.1v1.1h-1.1zM193.1 166.5h1.1v1.1h-1.1zM204.8 160.2h1.1v1.1h-1.1zM195.0 161.4h1.1v1.1h-1.1zM204.2 218.3h1.1v1.1h-1.1zM177.1 184.7h1.1v1.1h-1.1zM217.2 175.2h1.1v1.1h-1.1zM144.2 195.0h1.1v1.1h-1.1zM197.0 170.7h1.1v1.1h-1.1zM190.1 196.1h1.1v1.1h-1.1zM189.4 155.7h1.1v1.1h-1.1zM188.9 167.3h1.1v1.1h-1.1zM178.9 191.0h1.1v1.1h-1.1zM194.4 161.0h1.1v1.1h-1.1zM175.5 165.8h1.1v1.1h-1.1zM206.7 164.3h1.1v1.1h-1.1zM210.9 156.7h1.1v1.1h-1.1zM167.6 187.9h1.1v1.1h-1.1zM160.7 166.2h1.1v1.1h-1.1zM144.2 183.7h1.1v1.1h-1.1zM204.3 165.8h1.1v1.1h-1.1zM150.6 162.0h1.1v1.1h-1.1zM186.6 185.7h1.1v1.1h-1.1zM142.4 180.1h1.1v1.1h-1.1zM187.9 163.9h1.1v1.1h-1.1zM201.0 171.2h1.1v1.1h-1.1zM163.1 174.2h1.1v1.1h-1.1zM194.9 181.1h1.1v1.1h-1.1zM175.7 197.3h1.1v1.1h-1.1zM190.6 167.5h1.1v1.1h-1.1zM196.7 184.2h1.1v1.1h-1.1zM177.6 195.0h1.1v1.1h-1.1zM191.8 192.1h1.1v1.1h-1.1zM196.7 164.7h1.1v1.1h-1.1zM161.4 189.4h1.1v1.1h-1.1zM186.1 158.2h1.1v1.1h-1.1zM191.8 163.3h1.1v1.1h-1.1zM172.5 165.5h1.1v1.1h-1.1zM195.0 170.9h1.1v1.1h-1.1zM173.2 167.4h1.1v1.1h-1.1zM177.9 194.5h1.1v1.1h-1.1zM138.3 181.0h1.1v1.1h-1.1zM193.5 183.6h1.1v1.1h-1.1zM181.0 218.0h1.1v1.1h-1.1zM134.6 176.6h1.1v1.1h-1.1zM218.1 156.7h1.1v1.1h-1.1zM196.9 184.5h1.1v1.1h-1.1zM197.3 192.7h1.1v1.1h-1.1zM198.8 177.7h1.1v1.1h-1.1zM144.6 176.0h1.1v1.1h-1.1zM158.9 189.8h1.1v1.1h-1.1zM149.1 193.7h1.1v1.1h-1.1zM171.1 185.1h1.1v1.1h-1.1zM157.7 158.1h1.1v1.1h-1.1zM145.2 176.6h1.1v1.1h-1.1zM222.4 167.5h1.1v1.1h-1.1zM167.8 191.3h1.1v1.1h-1.1zM130.9 183.7h1.1v1.1h-1.1zM184.7 197.2h1.1v1.1h-1.1zM183.1 195.2h1.1v1.1h-1.1zM178.2 170.1h1.1v1.1h-1.1zM201.4 174.7h1.1v1.1h-1.1zM154.1 171.5h1.1v1.1h-1.1zM150.7 183.5h1.1v1.1h-1.1zM210.2 133.3h1.1v1.1h-1.1zM187.8 187.4h1.1v1.1h-1.1zM159.5 187.0h1.1v1.1h-1.1zM178.1 200.2h1.1v1.1h-1.1zM182.0 182.9h1.1v1.1h-1.1zM140.0 205.2h1.1v1.1h-1.1zM158.3 188.1h1.1v1.1h-1.1zM196.1 190.8h1.1v1.1h-1.1zM155.5 177.1h1.1v1.1h-1.1zM193.1 189.4h1.1v1.1h-1.1zM189.1 168.8h1.1v1.1h-1.1zM170.6 186.5h1.1v1.1h-1.1zM219.5 168.5h1.1v1.1h-1.1zM200.0 166.7h1.1v1.1h-1.1zM201.7 162.1h1.1v1.1h-1.1zM205.8 196.7h1.1v1.1h-1.1zM176.1 172.1h1.1v1.1h-1.1zM184.5 168.2h1.1v1.1h-1.1zM170.5 218.1h1.1v1.1h-1.1zM187.7 192.5h1.1v1.1h-1.1zM195.8 184.0h1.1v1.1h-1.1zM182.3 161.1h1.1v1.1h-1.1zM206.7 171.8h1.1v1.1h-1.1zM127.3 189.6h1.1v1.1h-1.1zM144.0 179.7h1.1v1.1h-1.1zM164.9 187.5h1.1v1.1h-1.1zM199.0 163.6h1.1v1.1h-1.1zM199.6 167.0h1.1v1.1h-1.1zM170.5 165.5h1.1v1.1h-1.1zM179.0 189.1h1.1v1.1h-1.1zM216.3 164.8h1.1v1.1h-1.1zM220.1 178.1h1.1v1.1h-1.1zM186.5 195.6h1.1v1.1h-1.1zM204.9 160.4h1.1v1.1h-1.1zM193.2 151.5h1.1v1.1h-1.1zM176.1 184.2h1.1v1.1h-1.1zM166.0 207.8h1.1v1.1h-1.1zM181.6 171.9h1.1v1.1h-1.1zM193.7 184.8h1.1v1.1h-1.1zM165.2 168.1h1.1v1.1h-1.1zM165.4 172.2h1.1v1.1h-1.1zM187.0 163.3h1.1v1.1h-1.1zM204.2 178.9h1.1v1.1h-1.1zM164.2 169.2h1.1v1.1h-1.1zM182.6 165.5h1.1v1.1h-1.1zM157.6 189.3h1.1v1.1h-1.1zM191.0 160.8h1.1v1.1h-1.1zM184.8 201.7h1.1v1.1h-1.1zM177.1 160.7h1.1v1.1h-1.1zM172.1 183.8h1.1v1.1h-1.1zM185.3 185.1h1.1v1.1h-1.1zM171.7 167.8h1.1v1.1h-1.1zM182.2 193.4h1.1v1.1h-1.1zM193.6 169.8h1.1v1.1h-1.1zM185.5 194.2h1.1v1.1h-1.1zM191.8 192.8h1.1v1.1h-1.1zM217.6 176.7h1.1v1.1h-1.1zM219.1 171.2h1.1v1.1h-1.1zM199.8 162.3h1.1v1.1h-1.1zM171.1 174.0h1.1v1.1h-1.1zM208.1 179.9h1.1v1.1h-1.1zM207.7 182.0h1.1v1.1h-1.1zM174.8 183.8h1.1v1.1h-1.1zM159.3 194.2h1.1v1.1h-1.1zM180.8 162.3h1.1v1.1h-1.1zM166.8 164.8h1.1v1.1h-1.1zM173.3 171.0h1.1v1.1h-1.1zM166.1 169.9h1.1v1.1h-1.1zM196.8 191.1h1.1v1.1h-1.1zM200.1 170.8h1.1v1.1h-1.1zM177.3 163.1h1.1v1.1h-1.1zM191.1 194.6h1.1v1.1h-1.1zM204.2 175.4h1.1v1.1h-1.1zM202.8 169.2h1.1v1.1h-1.1zM221.7 170.6h1.1v1.1h-1.1zM143.0 188.0h1.1v1.1h-1.1zM165.5 168.5h1.1v1.1h-1.1zM190.2 184.0h1.1v1.1h-1.1zM186.4 190.5h1.1v1.1h-1.1zM174.6 171.7h1.1v1.1h-1.1zM162.8 189.0h1.1v1.1h-1.1zM184.5 186.9h1.1v1.1h-1.1zM178.3 184.6h1.1v1.1h-1.1zM219.0 187.0h1.1v1.1h-1.1zM207.1 168.3h1.1v1.1h-1.1zM136.4 148.7h1.1v1.1h-1.1zM176.1 169.1h1.1v1.1h-1.1zM187.7 165.3h1.1v1.1h-1.1zM197.1 165.9h1.1v1.1h-1.1zM165.4 174.8h1.1v1.1h-1.1zM193.2 193.1h1.1v1.1h-1.1zM197.1 158.6h1.1v1.1h-1.1zM183.0 163.6h1.1v1.1h-1.1zM186.6 187.5h1.1v1.1h-1.1zM187.7 192.9h1.1v1.1h-1.1zM221.7 159.3h1.1v1.1h-1.1zM169.4 191.9h1.1v1.1h-1.1zM175.5 200.6h1.1v1.1h-1.1zM177.4 168.0h1.1v1.1h-1.1zM179.3 153.1h1.1v1.1h-1.1zM155.8 178.8h1.1v1.1h-1.1zM196.4 173.6h1.1v1.1h-1.1zM172.7 172.9h1.1v1.1h-1.1zM222.7 193.0h1.1v1.1h-1.1zM179.5 185.1h1.1v1.1h-1.1zM216.4 205.3h1.1v1.1h-1.1zM158.8 174.3h1.1v1.1h-1.1zM171.2 165.3h1.1v1.1h-1.1zM193.2 187.6h1.1v1.1h-1.1zM168.0 217.3h1.1v1.1h-1.1zM187.4 172.4h1.1v1.1h-1.1zM158.1 176.7h1.1v1.1h-1.1zM182.6 167.2h1.1v1.1h-1.1zM139.5 206.6h1.1v1.1h-1.1zM171.6 160.6h1.1v1.1h-1.1zM176.8 203.6h1.1v1.1h-1.1zM180.8 187.2h1.1v1.1h-1.1zM176.6 169.1h1.1v1.1h-1.1zM210.1 169.5h1.1v1.1h-1.1zM175.4 155.6h1.1v1.1h-1.1zM170.2 172.7h1.1v1.1h-1.1zM213.5 140.4h1.1v1.1h-1.1zM180.8 166.3h1.1v1.1h-1.1zM200.3 167.8h1.1v1.1h-1.1zM171.4 165.0h1.1v1.1h-1.1zM171.7 172.3h1.1v1.1h-1.1zM155.1 168.1h1.1v1.1h-1.1zM176.6 220.9h1.1v1.1h-1.1zM155.6 199.4h1.1v1.1h-1.1zM199.2 173.4h1.1v1.1h-1.1zM195.1 193.8h1.1v1.1h-1.1zM147.0 161.4h1.1v1.1h-1.1zM187.7 189.0h1.1v1.1h-1.1zM180.3 186.3h1.1v1.1h-1.1zM181.4 189.7h1.1v1.1h-1.1zM171.2 187.7h1.1v1.1h-1.1zM151.3 181.6h1.1v1.1h-1.1zM186.4 168.5h1.1v1.1h-1.1zM169.2 141.2h1.1v1.1h-1.1zM168.6 154.3h1.1v1.1h-1.1zM153.2 189.2h1.1v1.1h-1.1zM162.4 189.8h1.1v1.1h-1.1zM166.3 163.5h1.1v1.1h-1.1zM148.7 188.6h1.1v1.1h-1.1zM143.9 204.9h1.1v1.1h-1.1zM188.3 164.3h1.1v1.1h-1.1zM161.6 168.9h1.1v1.1h-1.1zM160.5 166.3h1.1v1.1h-1.1zM169.8 172.2h1.1v1.1h-1.1zM189.0 154.4h1.1v1.1h-1.1zM193.7 157.9h1.1v1.1h-1.1zM193.4 169.0h1.1v1.1h-1.1zM177.9 187.4h1.1v1.1h-1.1zM186.6 170.9h1.1v1.1h-1.1zM181.5 185.3h1.1v1.1h-1.1zM188.0 188.8h1.1v1.1h-1.1zM208.8 194.8h1.1v1.1h-1.1zM185.5 170.0h1.1v1.1h-1.1zM205.9 198.8h1.1v1.1h-1.1zM179.5 202.3h1.1v1.1h-1.1zM203.5 148.9h1.1v1.1h-1.1zM171.7 170.5h1.1v1.1h-1.1zM218.6 168.4h1.1v1.1h-1.1zM203.5 199.3h1.1v1.1h-1.1zM212.0 147.7h1.1v1.1h-1.1zM164.2 166.5h1.1v1.1h-1.1zM184.0 173.6h1.1v1.1h-1.1zM140.0 217.7h1.1v1.1h-1.1zM204.2 151.5h1.1v1.1h-1.1zM182.6 162.8h1.1v1.1h-1.1zM168.4 172.5h1.1v1.1h-1.1zM146.2 197.1h1.1v1.1h-1.1zM185.1 160.6h1.1v1.1h-1.1zM163.9 191.5h1.1v1.1h-1.1zM156.3 169.9h1.1v1.1h-1.1zM177.4 193.8h1.1v1.1h-1.1zM151.8 204.4h1.1v1.1h-1.1zM221.0 172.7h1.1v1.1h-1.1zM214.1 189.1h1.1v1.1h-1.1zM177.3 194.0h1.1v1.1h-1.1z"/>
<path fill="rgb(85, 95, 205)" d="M110.4 160.9h1.1v1.1h-1.1zM132.0 226.3h1.1v1.1h-1.1zM119.9 231.8h1.1v1.1h-1.1zM77.6 186.5h1.1v1.1h-1.1zM82.5 190.7h1.1v1.1h-1.1zM129.6 199.5h1.1v1.1h-1.1zM121.4 228.9h1.1v1.1h-1.1zM97.3 254.0h1.1v1.1h-1.1zM126.8 209.8h1.1v1.1h-1.1zM111.9 230.4h1.1v1.1h-1.1zM87.5 204.3h1.1v1.1h-1.1zM120.0 187.0h1.1v1.1h-1.1zM126.2 232.9h1.1v1.1h-1.1zM95.7 205.4h1.1v1.1h-1.1zM114.0 236.2h1.1v1.1h-1.1zM105.3 234.9h1.1v1.1h-1.1zM195.3 224.1h1.1v1.1h-1.1zM135.1 244.6h1.1v1.1h-1.1zM114.7 233.6h1.1v1.1h-1.1zM120.2 232.9h1.1v1.1h-1.1zM111.6 252.6h1.1v1.1h-1.1zM223.0 222.5h1.1v1.1h-1.1zM123.1 226.6h1.1v1.1h-1.1zM111.8 214.4h1.1v1.1h-1.1zM114.4 198.2h1.1v1.1h-1.1zM106.1 210.0h1.1v1.1h-1.1zM116.1 217.0h1.1v1.1h-1.1zM103.7 195.7h1.1v1.1h-1.1zM131.5 209.6h1.1v1.1h-1.1zM134.8 214.7h1.1v1.1h-1.1zM139.8 221.7h1.1v1.1h-1.1zM112.1 207.7h1.1v1.1h-1.1zM93.4 256.5h1.1v1.1h-1.1zM120.0 217.9h1.1v1.1h-1.1zM131.0 131.0h1.1v1.1h-1.1zM155.9 209.5h1.1v1.1h-1.1zM83.4 191.5h1.1v1.1h-1.1zM106.3 214.3h1.1v1.1h-1.1zM133.3 247.6h1.1v1.1h-1.1zM94.7 187.3h1.1v1.1h-1.1zM117.5 217.7h1.1v1.1h-1.1zM91.0 187.8h1.1v1.1h-1.1zM122.2 207.4h1.1v1.1h-1.1zM125.3 229.1h1.1v1.1h-1.1zM127.0 204.3h1.1v1.1h-1.1zM91.5 188.1h1.1v1.1h-1.1zM116.6 206.8h1.1v1.1h-1.1zM143.5 241.1h1.1v1.1h-1.1zM92.7 187.8h1.1v1.1h-1.1zM74.9 178.6h1.1v1.1h-1.1zM128.4 220.3h1.1v1.1h-1.1zM172.9 253.9h1.1v1.1h-1.1zM105.5 205.8h1.1v1.1h-1.1zM81.6 210.8h1.1v1.1h-1.1zM101.3 178.9h1.1v1.1h-1.1zM104.2 248.0h1.1v1.1h-1.1zM114.4 210.2h1.1v1.1h-1.1zM96.0 193.3h1.1v1.1h-1.1zM89.1 188.7h1.1v1.1h-1.1zM120.8 212.5h1.1v1.1h-1.1zM89.6 195.0h1.1v1.1h-1.1zM206.5 246.0h1.1v1.1h-1.1zM129.9 205.7h1.1v1.1h-1.1zM116.2 223.7h1.1v1.1h-1.1zM102.0 241.6h1.1v1.1h-1.1zM135.7 240.5h1.1v1.1h-1.1zM85.5 175.3h1.1v1.1h-1.1zM133.6 229.2h1.1v1.1h-1.1zM118.5 243.6h1.1v1.1h-1.1zM113.7 205.5h1.1v1.1h-1.1zM128.1 208.2h1.1v1.1h-1.1zM82.0 182.5h1.1v1.1h-1.1zM140.7 241.3h1.1v1.1h-1.1zM102.1 231.4h1.1v1.1h-1.1zM104.4 224.7h1.1v1.1h-1.1zM117.0 227.8h1.1v1.1h-1.1zM84.0 162.4h1.1v1.1h-1.1zM135.1 230.6h1.1v1.1h-1.1zM113.9 222.1h1.1v1.1h-1.1zM131.6 236.8h1.1v1.1h-1.1zM125.1 214.2h1.1v1.1h-1.1zM123.2 231.8h1.1v1.1h-1.1zM174.1 218.7h1.1v1.1h-1.1zM123.0 204.4h1.1v1.1h-1.1zM118.4 212.8h1.1v1.1h-1.1zM130.9 230.0h1.1v1.1h-1.1zM105.7 178.4h1.1v1.1h-1.1zM104.3 185.0h1.1v1.1h-1.1zM106.9 215.9h1.1v1.1h-1.1zM124.4 230.5h1.1v1.1h-1.1zM102.8 163.7h1.1v1.1h-1.1zM119.3 242.6h1.1v1.1h-1.1zM90.4 180.1h1.1v1.1h-1.1zM97.0 194.5h1.1v1.1h-1.1zM88.9 190.7h1.1v1.1h-1.1zM89.1 192.9h1.1v1.1h-1.1zM115.2 244.2h1.1v1.1h-1.1zM205.6 235.6h1.1v1.1h-1.1zM104.8 193.4h1.1v1.1h-1.1zM105.9 204.7h1.1v1.1h-1.1zM93.2 196.0h1.1v1.1h-1.1zM136.2 237.7h1.1v1.1h-1.1zM119.6 207.2h1.1v1.1h-1.1zM121.9 226.2h1.1v1.1h-1.1zM116.1 231.0h1.1v1.1h-1.1zM96.5 195.2h1.1v1.1h-1.1zM125.2 240.9h1.1v1.1h-1.1zM154.2 212.2h1.1v1.1h-1.1zM119.6 226.0h1.1v1.1h-1.1zM105.2 185.9h1.1v1.1h-1.1zM191.6 248.4h1.1v1.1h-1.1zM88.4 204.4h1.1v1.1h-1.1zM91.6 217.8h1.1v1.1h-1.1zM105.3 209.2h1.1v1.1h-1.1zM113.7 203.1h1.1v1.1h-1.1zM95.7 186.6h1.1v1.1h-1.1zM104.5 204.3h1.1v1.1h-1.1zM86.9 188.3h1.1v1.1h-1.1zM90.8 183.2h1.1v1.1h-1.1zM162.5 228.7h1.1v1.1h-1.1zM130.0 231.4h1.1v1.1h-1.1zM103.2 207.5h1.1v1.1h-1.1zM120.6 215.6h1.1v1.1h-1.1zM146.6 211.3h1.1v1.1h-1.1zM125.4 212.0h1.1v1.1h-1.1zM114.9 237.2h1.1v1.1h-1.1zM123.1 232.3h1.1v1.1h-1.1zM107.4 197.7h1.1v1.1h-1.1zM90.6 188.1h1.1v1.1h-1.1zM143.7 218.4h1.1v1.1h-1.1zM98.9 229.0h1.1v1.1h-1.1zM75.7 176.3h1.1v1.1h-1.1zM125.0 212.4h1.1v1.1h-1.1zM78.4 204.9h1.1v1.1h-1.1zM112.7 208.3h1.1v1.1h-1.1zM144.7 233.9h1.1v1.1h-1.1zM99.4 201.5h1.1v1.1h-1.1zM99.2 186.1h1.1v1.1h-1.1zM124.3 196.0h1.1v1.1h-1.1zM100.5 203.6h1.1v1.1h-1.1zM93.9 204.2h1.1v1.1h-1.1zM126.2 234.6h1.1v1.1h-1.1zM78.8 171.2h1.1v1.1h-1.1zM111.6 245.8h1.1v1.1h-1.1zM147.7 226.6h1.1v1.1h-1.1zM121.9 238.3h1.1v1.1h-1.1zM129.2 212.9h1.1v1.1h-1.1zM127.6 209.0h1.1v1.1h-1.1zM118.0 205.3h1.1v1.1h-1.1zM111.8 197.6h1.1v1.1h-1.1zM185.4 213.7h1.1v1.1h-1.1zM90.7 196.2h1.1v1.1h-1.1zM123.5 243.5h1.1v1.1h-1.1zM127.4 217.5h1.1v1.1h-1.1zM105.8 195.5h1.1v1.1h-1.1zM223.2 219.0h1.1v1.1h-1.1zM119.5 231.6h1.1v1.1h-1.1zM129.8 242.9h1.1v1.1h-1.1zM102.9 207.0h1.1v1.1h-1.1zM102.3 216.1h1.1v1.1h-1.1zM123.8 244.3h1.1v1.1h-1.1zM122.5 208.6h1.1v1.1h-1.1zM112.0 200.2h1.1v1.1h-1.1zM98.7 203.8h1.1v1.1h-1.1zM89.6 182.6h1.1v1.1h-1.1zM161.4 216.6h1.1v1.1h-1.1zM114.0 212.0h1.1v1.1h-1.1zM95.0 191.9h1.1v1.1h-1.1zM107.0 200.8h1.1v1.1h-1.1zM96.0 200.9h1.1v1.1h-1.1zM111.5 211.6h1.1v1.1h-1.1zM105.5 215.3h1.1v1.1h-1.1zM76.2 197.5h1.1v1.1h-1.1zM110.8 197.1h1.1v1.1h-1.1zM201.3 228.7h1.1v1.1h-1.1zM94.4 243.8h1.1v1.1h-1.1zM120.5 218.8h1.1v1.1h-1.1zM115.4 194.6h1.1v1.1h-1.1zM186.0 214.0h1.1v1.1h-1.1zM79.3 187.6h1.1v1.1h-1.1zM130.2 235.1h1.1v1.1h-1.1zM126.7 193.2h1.1v1.1h-1.1zM124.3 250.8h1.1v1.1h-1.1zM84.5 145.3h1.1v1.1h-1.1zM117.8 227.0h1.1v1.1h-1.1zM222.5 221.0h1.1v1.1h-1.1zM77.4 202.2h1.1v1.1h-1.1zM113.4 228.4h1.1v1.1h-1.1zM80.6 228.7h1.1v1.1h-1.1zM94.8 201.6h1.1v1.1h-1.1zM107.6 245.1h1.1v1.1h-1.1zM122.8 229.8h1.1v1.1h-1.1zM77.5 189.8h1.1v1.1h-1.1zM166.6 237.3h1.1v1.1h-1.1zM92.8 175.2h1.1v1.1h-1.1zM90.9 196.0h1.1v1.1h-1.1zM93.9 195.2h1.1v1.1h-1.1zM141.1 219.5h1.1v1.1h-1.1zM103.2 206.2h1.1v1.1h-1.1zM112.9 211.7h1.1v1.1h-1.1zM81.5 185.2h1.1v1.1h-1.1zM104.3 169.4h1.1v1.1h-1.1zM169.2 222.5h1.1v1.1h-1.1zM117.1 216.0h1.1v1.1h-1.1zM111.3 228.4h1.1v1.1h-1.1zM106.1 210.6h1.1v1.1h-1.1zM130.1 211.5h1.1v1.1h-1.1zM101.5 194.8h1.1v1.1h-1.1zM90.8 178.5h1.1v1.1h-1.1zM96.4 193.9h1.1v1.1h-1.1zM116.2 226.0h1.1v1.1h-1.1zM99.6 201.3h1.1v1.1h-1.1zM79.8 196.5h1.1v1.1h-1.1zM156.6 210.2h1.1v1.1h-1.1zM108.2 246.6h1.1v1.1h-1.1zM122.9 254.5h1.1v1.1h-1.1zM122.9 231.2h1.1v1.1h-1.1zM97.2 184.0h1.1v1.1h-1.1zM124.2 209.2h1.1v1.1h-1.1zM95.3 173.3h1.1v1.1h-1.1zM108.9 212.3h1.1v1.1h-1.1zM132.3 144.2h1.1v1.1h-1.1zM190.5 237.7h1.1v1.1h-1.1zM106.9 171.3h1.1v1.1h-1.1zM125.3 204.2h1.1v1.1h-1.1zM117.5 247.9h1.1v1.1h-1.1zM110.1 208.5h1.1v1.1h-1.1zM111.5 232.4h1.1v1.1h-1.1zM86.8 186.3h1.1v1.1h-1.1zM206.7 208.8h1.1v1.1h-1.1zM95.6 202.1h1.1v1.1h-1.1zM117.7 211.0h1.1v1.1h-1.1zM92.6 234.5h1.1v1.1h-1.1zM100.8 194.2h1.1v1.1h-1.1zM165.2 211.0h1.1v1.1h-1.1zM138.3 243.0h1.1v1.1h-1.1zM81.8 151.5h1.1v1.1h-1.1zM129.6 215.8h1.1v1.1h-1.1zM103.4 205.8h1.1v1.1h-1.1zM123.3 224.3h1.1v1.1h-1.1zM113.6 204.6h1.1v1.1h-1.1zM115.9 231.8h1.1v1.1h-1.1zM92.2 182.8h1.1v1.1h-1.1zM109.9 201.0h1.1v1.1h-1.1zM108.2 224.8h1.1v1.1h-1.1zM120.0 206.1h1.1v1.1h-1.1zM123.4 216.3h1.1v1.1h-1.1zM135.5 213.2h1.1v1.1h-1.1zM120.2 152.7h1.1v1.1h-1.1zM116.6 241.1h1.1v1.1h-1.1zM107.2 203.7h1.1v1.1h-1.1zM110.8 227.6h1.1v1.1h-1.1zM218.5 242.6h1.1v1.1h-1.1zM115.5 230.9h1.1v1.1h-1.1zM109.2 236.3h1.1v1.1h-1.1zM121.6 230.3h1.1v1.1h-1.1zM113.2 203.0h1.1v1.1h-1.1zM110.8 233.7h1.1v1.1h-1.1zM109.8 191.6h1.1v1.1h-1.1zM75.7 199.9h1.1v1.1h-1.1zM82.2 184.7h1.1v1.1h-1.1zM106.3 196.5h1.1v1.1h-1.1zM109.6 223.4h1.1v1.1h-1.1zM127.1 214.5h1.1v1.1h-1.1zM114.9 225.8h1.1v1.1h-1.1zM139.8 217.2h1.1v1.1h-1.1zM115.6 149.3h1.1v1.1h-1.1zM118.1 221.9h1.1v1.1h-1.1zM196.5 246.2h1.1v1.1h-1.1zM108.5 239.0h1.1v1.1h-1.1zM111.9 239.2h1.1v1.1h-1.1zM171.8 223.6h1.1v1.1h-1.1zM87.6 190.5h1.1v1.1h-1.1zM125.2 224.7h1.1v1.1h-1.1zM123.2 227.0h1.1v1.1h-1.1zM98.1 196.9h1.1v1.1h-1.1zM124.1 241.0h1.1v1.1h-1.1zM102.2 202.5h1.1v1.1h-1.1zM121.0 214.8h1.1v1.1h-1.1zM138.9 231.6h1.1v1.1h-1.1zM117.0 210.0h1.1v1.1h-1.1zM95.4 201.4h1.1v1.1h-1.1zM127.8 182.2h1.1v1.1h-1.1zM108.1 191.3h1.1v1.1h-1.1zM102.9 171.7h1.1v1.1h-1.1zM113.3 240.9h1.1v1.1h-1.1zM115.1 235.0h1.1v1.1h-1.1zM131.2 219.1h1.1v1.1h-1.1zM104.5 233.8h1.1v1.1h-1.1zM112.2 248.4h1.1v1.1h-1.1zM134.0 232.7h1.1v1.1h-1.1zM219.8 230.3h1.1v1.1h-1.1zM189.5 211.5h1.1v1.1h-1.1zM103.0 188.2h1.1v1.1h-1.1zM118.5 185.5h1.1v1.1h-1.1zM103.2 230.4h1.1v1.1h-1.1zM110.1 211.9h1.1v1.1h-1.1zM175.0 249.0h1.1v1.1h-1.1zM107.5 222.2h1.1v1.1h-1.1zM98.0 220.0h1.1v1.1h-1.1zM194.1 238.0h1.1v1.1h-1.1zM110.6 221.3h1.1v1.1h-1.1zM127.4 233.3h1.1v1.1h-1.1zM124.4 203.5h1.1v1.1h-1.1zM127.2 226.9h1.1v1.1h-1.1zM103.8 201.5h1.1v1.1h-1.1zM95.0 192.4h1.1v1.1h-1.1zM99.2 172.0h1.1v1.1h-1.1zM84.1 181.7h1.1v1.1h-1.1zM110.5 195.9h1.1v1.1h-1.1zM86.5 191.1h1.1v1.1h-1.1zM110.6 243.9h1.1v1.1h-1.1zM122.4 218.8h1.1v1.1h-1.1zM130.7 255.8h1.1v1.1h-1.1zM114.7 237.0h1.1v1.1h-1.1zM105.5 199.8h1.1v1.1h-1.1zM171.4 207.1h1.1v1.1h-1.1zM174.1 214.8h1.1v1.1h-1.1zM118.8 241.6h1.1v1.1h-1.1zM154.5 208.1h1.1v1.1h-1.1zM111.2 203.2h1.1v1.1h-1.1zM99.9 195.0h1.1v1.1h-1.1zM124.6 238.8h1.1v1.1h-1.1zM128.1 207.8h1.1v1.1h-1.1zM130.1 233.8h1.1v1.1h-1.1zM104.7 245.5h1.1v1.1h-1.1zM114.1 225.5h1.1v1.1h-1.1zM181.0 232.3h1.1v1.1h-1.1zM115.1 249.3h1.1v1.1h-1.1zM105.3 234.4h1.1v1.1h-1.1zM124.1 230.2h1.1v1.1h-1.1zM106.0 194.9h1.1v1.1h-1.1zM106.2 174.4h1.1v1.1h-1.1zM179.6 215.1h1.1v1.1h-1.1zM105.2 188.9h1.1v1.1h-1.1zM163.2 219.4h1.1v1.1h-1.1zM187.6 207.9h1.1v1.1h-1.1zM132.3 190.7h1.1v1.1h-1.1zM117.2 236.1h1.1v1.1h-1.1zM129.0 218.3h1.1v1.1h-1.1zM117.4 219.5h1.1v1.1h-1.1zM153.5 221.0h1.1v1.1h-1.1zM200.1 226.4h1.1v1.1h-1.1zM108.2 203.6h1.1v1.1h-1.1zM88.4 233.6h1.1v1.1h-1.1zM119.4 234.8h1.1v1.1h-1.1zM90.3 186.6h1.1v1.1h-1.1zM198.7 212.7h1.1v1.1h-1.1zM109.9 199.0h1.1v1.1h-1.1zM183.2 234.6h1.1v1.1h-1.1zM89.9 168.3h1.1v1.1h-1.1zM131.2 233.3h1.1v1.1h-1.1zM120.3 216.7h1.1v1.1h-1.1zM106.9 229.9h1.1v1.1h-1.1zM126.6 204.1h1.1v1.1h-1.1zM119.7 232.0h1.1v1.1h-1.1zM133.6 212.3h1.1v1.1h-1.1zM135.7 214.8h1.1v1.1h-1.1zM100.9 226.9h1.1v1.1h-1.1zM139.0 222.7h1.1v1.1h-1.1zM121.4 224.4h1.1v1.1h-1.1zM98.4 206.0h1.1v1.1h-1.1zM192.6 212.2h1.1v1.1h-1.1zM118.1 220.8h1.1v1.1h-1.1zM110.3 219.4h1.1v1.1h-1.1zM111.6 229.0h1.1v1.1h-1.1zM96.2 203.4h1.1v1.1h-1.1zM222.7 256.2h1.1v1.1h-1.1zM101.0 239.1h1.1v1.1h-1.1zM77.4 243.9h1.1v1.1h-1.1zM189.8 216.8h1.1v1.1h-1.1zM129.3 217.8h1.1v1.1h-1.1zM125.1 229.0h1.1v1.1h-1.1zM79.0 252.9h1.1v1.1h-1.1zM133.8 215.2h1.1v1.1h-1.1zM108.2 210.4h1.1v1.1h-1.1zM192.8 220.0h1.1v1.1h-1.1zM126.4 231.5h1.1v1.1h-1.1zM97.4 199.2h1.1v1.1h-1.1zM125.0 203.5h1.1v1.1h-1.1zM172.7 229.2h1.1v1.1h-1.1zM105.9 172.7h1.1v1.1h-1.1zM100.9 214.1h1.1v1.1h-1.1zM126.1 255.1h1.1v1.1h-1.1zM126.4 224.0h1.1v1.1h-1.1zM98.5 196.6h1.1v1.1h-1.1zM125.6 181.8h1.1v1.1h-1.1zM111.5 232.7h1.1v1.1h-1.1zM79.1 193.0h1.1v1.1h-1.1zM213.6 228.1h1.1v1.1h-1.1zM108.4 204.1h1.1v1.1h-1.1zM118.1 229.4h1.1v1.1h-1.1zM123.2 237.5h1.1v1.1h-1.1zM80.9 191.5h1.1v1.1h-1.1zM105.5 235.2h1.1v1.1h-1.1zM108.1 233.3h1.1v1.1h-1.1zM105.5 238.8h1.1v1.1h-1.1zM104.9 167.4h1.1v1.1h-1.1zM195.6 253.9h1.1v1.1h-1.1zM99.3 206.6h1.1v1.1h-1.1zM112.2 221.0h1.1v1.1h-1.1zM120.8 205.5h1.1v1.1h-1.1zM110.6 226.8h1.1v1.1h-1.1zM113.0 199.1h1.1v1.1h-1.1zM101.3 206.6h1.1v1.1h-1.1zM106.0 190.0h1.1v1.1h-1.1zM132.5 218.4h1.1v1.1h-1.1zM116.6 212.4h1.1v1.1h-1.1zM182.8 210.3h1.1v1.1h-1.1zM198.0 223.4h1.1v1.1h-1.1zM113.9 187.1h1.1v1.1h-1.1zM104.8 178.8h1.1v1.1h-1.1zM130.6 254.5h1.1v1.1h-1.1zM195.7 217.1h1.1v1.1h-1.1zM104.1 201.7h1.1v1.1h-1.1zM93.1 211.1h1.1v1.1h-1.1zM114.9 236.3h1.1v1.1h-1.1zM113.1 239.6h1.1v1.1h-1.1zM140.3 211.6h1.1v1.1h-1.1zM90.3 194.9h1.1v1.1h-1.1zM112.6 236.8h1.1v1.1h-1.1zM134.2 241.5h1.1v1.1h-1.1zM123.2 223.5h1.1v1.1h-1.1zM129.7 159.0h1.1v1.1h-1.1zM114.2 210.1h1.1v1.1h-1.1zM79.8 202.9h1.1v1.1h-1.1zM99.5 206.5h1.1v1.1h-1.1zM115.2 194.8h1.1v1.1h-1.1zM114.5 236.9h1.1v1.1h-1.1zM130.5 239.8h1.1v1.1h-1.1zM125.2 234.4h1.1v1.1h-1.1zM121.1 246.3h1.1v1.1h-1.1zM218.4 235.1h1.1v1.1h-1.1zM117.6 216.2h1.1v1.1h-1.1zM121.6 213.3h1.1v1.1h-1.1zM92.9 201.4h1.1v1.1h-1.1zM104.5 254.6h1.1v1.1h-1.1zM107.5 197.7h1.1v1.1h-1.1zM94.7 193.3h1.1v1.1h-1.1zM131.2 238.4h1.1v1.1h-1.1zM120.2 224.1h1.1v1.1h-1.1zM89.8 197.7h1.1v1.1h-1.1zM223.3 246.6h1.1v1.1h-1.1zM86.6 202.3h1.1v1.1h-1.1zM123.9 212.5h1.1v1.1h-1.1zM127.0 203.4h1.1v1.1h-1.1zM120.6 185.8h1.1v1.1h-1.1zM105.1 188.5h1.1v1.1h-1.1zM112.4 199.9h1.1v1.1h-1.1zM124.6 229.7h1.1v1.1h-1.1zM106.0 212.9h1.1v1.1h-1.1zM87.5 201.5h1.1v1.1h-1.1zM100.1 191.8h1.1v1.1h-1.1zM131.3 217.1h1.1v1.1h-1.1zM101.0 197.3h1.1v1.1h-1.1zM117.8 201.3h1.1v1.1h-1.1zM99.8 194.2h1.1v1.1h-1.1zM98.4 199.5h1.1v1.1h-1.1zM139.5 232.6h1.1v1.1h-1.1zM118.0 235.6h1.1v1.1h-1.1zM126.7 213.1h1.1v1.1h-1.1zM151.6 216.5h1.1v1.1h-1.1zM132.8 226.5h1.1v1.1h-1.1zM116.7 234.8h1.1v1.1h-1.1zM117.5 199.6h1.1v1.1h-1.1zM128.6 216.7h1.1v1.1h-1.1zM145.6 234.0h1.1v1.1h-1.1zM121.3 199.0h1.1v1.1h-1.1zM109.7 199.2h1.1v1.1h-1.1zM179.6 210.7h1.1v1.1h-1.1zM116.0 244.7h1.1v1.1h-1.1zM117.5 215.3h1.1v1.1h-1.1zM110.2 209.1h1.1v1.1h-1.1zM194.3 211.0h1.1v1.1h-1.1zM85.6 199.7h1.1v1.1h-1.1zM166.1 231.3h1.1v1.1h-1.1zM117.0 223.3h1.1v1.1h-1.1zM91.6 168.6h1.1v1.1h-1.1zM122.3 205.4h1.1v1.1h-1.1zM98.0 195.4h1.1v1.1h-1.1zM89.7 223.6h1.1v1.1h-1.1zM121.0 217.5h1.1v1.1h-1.1zM104.5 245.4h1.1v1.1h-1.1zM130.2 174.7h1.1v1.1h-1.1zM115.1 205.4h1.1v1.1h-1.1zM201.2 245.8h1.1v1.1h-1.1zM100.9 216.8h1.1v1.1h-1.1zM91.7 169.1h1.1v1.1h-1.1zM118.6 208.3h1.1v1.1h-1.1z"/>
<path fill="rgb(110, 190, 80)" d="M190.6 186.2h1.1v1.1h-1.1zM160.3 178.5h1.1v1.1h-1.1zM192.2 172.6h1.1v1.1h-1.1zM166.6 182.5h1.1v1.1h-1.1zM154.6 184.2h1.1v1.1h-1.1zM184.8 184.7h1.1v1.1h-1.1zM177.8 176.9h1.1v1.1h-1.1zM208.4 202.4h1.1v1.1h-1.1zM193.4 173.9h1.1v1.1h-1.1zM160.9 178.8h1.1v1.1h-1.1zM165.4 182.7h1.1v1.1h-1.1zM173.0 177.1h1.1v1.1h-1.1zM173.3 178.9h1.1v1.1h-1.1zM170.3 177.6h1.1v1.1h-1.1zM161.0 181.7h1.1v1.1h-1.1zM179.2 181.1h1.1v1.1h-1.1zM166.2 183.6h1.1v1.1h-1.1zM174.3 184.8h1.1v1.1h-1.1zM194.5 175.0h1.1v1.1h-1.1zM169.5 179.2h1.1v1.1h-1.1zM155.4 176.2h1.1v1.1h-1.1zM175.2 189.3h1.1v1.1h-1.1zM158.0 180.3h1.1v1.1h-1.1zM168.3 186.0h1.1v1.1h-1.1zM177.1 180.0h1.1v1.1h-1.1zM167.8 185.7h1.1v1.1h-1.1zM169.5 177.1h1.1v1.1h-1.1zM185.1 181.6h1.1v1.1h-1.1zM197.4 168.9h1.1v1.1h-1.1zM192.0 169.4h1.1v1.1h-1.1zM185.4 182.1h1.1v1.1h-1.1zM191.7 179.3h1.1v1.1h-1.1zM141.5 174.8h1.1v1.1h-1.1zM177.3 182.2h1.1v1.1h-1.1zM189.7 179.7h1.1v1.1h-1.1zM170.7 181.5h1.1v1.1h-1.1zM189.1 172.7h1.1v1.1h-1.1zM177.1 176.4h1.1v1.1h-1.1zM201.8 189.3h1.1v1.1h-1.1zM167.1 180.0h1.1v1.1h-1.1zM170.7 180.9h1.1v1.1h-1.1zM180.7 178.2h1.1v1.1h-1.1zM187.5 173.4h1.1v1.1h-1.1zM176.2 178.3h1.1v1.1h-1.1zM174.0 180.7h1.1v1.1h-1.1zM149.9 181.0h1.1v1.1h-1.1zM185.1 198.8h1.1v1.1h-1.1zM159.6 188.1h1.1v1.1h-1.1zM156.4 180.1h1.1v1.1h-1.1zM168.2 182.7h1.1v1.1h-1.1zM186.7 161.7h1.1v1.1h-1.1zM176.0 181.4h1.1v1.1h-1.1zM189.8 172.6h1.1v1.1h-1.1zM171.6 202.1h1.1v1.1h-1.1zM222.0 168.2h1.1v1.1h-1.1zM172.6 181.7h1.1v1.1h-1.1zM177.0 178.5h1.1v1.1h-1.1zM136.2 202.7h1.1v1.1h-1.1zM187.5 171.8h1.1v1.1h-1.1zM184.2 166.2h1.1v1.1h-1.1zM214.0 157.3h1.1v1.1h-1.1zM172.2 176.0h1.1v1.1h-1.1zM198.6 179.2h1.1v1.1h-1.1zM179.3 179.6h1.1v1.1h-1.1zM167.4 179.7h1.1v1.1h-1.1zM172.2 186.1h1.1v1.1h-1.1zM176.8 171.2h1.1v1.1h-1.1zM173.5 181.2h1.1v1.1h-1.1zM191.1 176.3h1.1v1.1h-1.1zM185.6 186.5h1.1v1.1h-1.1zM169.2 178.9h1.1v1.1h-1.1zM173.3 182.3h1.1v1.1h-1.1zM175.3 180.8h1.1v1.1h-1.1zM156.9 186.9h1.1v1.1h-1.1zM165.6 177.8h1.1v1.1h-1.1zM160.6 184.5h1.1v1.1h-1.1zM163.6 184.6h1.1v1.1h-1.1zM186.8 184.4h1.1v1.1h-1.1zM192.4 198.2h1.1v1.1h-1.1zM153.5 180.0h1.1v1.1h-1.1zM182.1 177.9h1.1v1.1h-1.1zM166.2 181.4h1.1v1.1h-1.1zM159.6 175.6h1.1v1.1h-1.1zM192.9 173.0h1.1v1.1h-1.1zM165.2 180.9h1.1v1.1h-1.1zM186.7 187.5h1.1v1.1h-1.1zM179.0 180.8h1.1v1.1h-1.1zM160.3 184.4h1.1v1.1h-1.1zM165.5 184.3h1.1v1.1h-1.1zM179.5 173.0h1.1v1.1h-1.1zM163.8 144.5h1.1v1.1h-1.1zM171.5 182.6h1.1v1.1h-1.1zM171.3 179.9h1.1v1.1h-1.1zM167.8 182.6h1.1v1.1h-1.1zM161.1 179.5h1.1v1.1h-1.1zM166.1 179.5h1.1v1.1h-1.1zM188.4 171.7h1.1v1.1h-1.1zM172.2 178.5h1.1v1.1h-1.1zM206.7 156.7h1.1v1.1h-1.1zM206.0 188.7h1.1v1.1h-1.1zM168.3 182.7h1.1v1.1h-1.1zM159.5 184.0h1.1v1.1h-1.1zM158.4 184.8h1.1v1.1h-1.1zM192.1 182.3h1.1v1.1h-1.1zM205.3 162.9h1.1v1.1h-1.1zM167.1 174.7h1.1v1.1h-1.1zM153.2 180.8h1.1v1.1h-1.1zM171.0 183.1h1.1v1.1h-1.1zM186.2 172.6h1.1v1.1h-1.1zM178.0 172.7h1.1v1.1h-1.1zM162.5 182.5h1.1v1.1h-1.1zM163.4 183.3h1.1v1.1h-1.1zM209.9 153.0h1.1v1.1h-1.1zM181.9 178.7h1.1v1.1h-1.1zM163.4 183.3h1.1v1.1h-1.1zM167.0 176.3h1.1v1.1h-1.1zM160.5 174.1h1.1v1.1h-1.1zM156.8 185.6h1.1v1.1h-1.1zM185.2 179.9h1.1v1.1h-1.1zM169.0 181.6h1.1v1.1h-1.1zM186.9 180.7h1.1v1.1h-1.1zM179.6 180.4h1.1v1.1h-1.1zM184.4 181.1h1.1v1.1h-1.1zM172.5 176.2h1.1v1.1h-1.1zM156.8 184.9h1.1v1.1h-1.1zM207.6 202.3h1.1v1.1h-1.1zM161.8 178.4h1.1v1.1h-1.1zM174.5 172.8h1.1v1.1h-1.1zM166.3 179.2h1.1v1.1h-1.1zM173.3 171.8h1.1v1.1h-1.1zM176.5 175.8h1.1v1.1h-1.1zM170.1 182.5h1.1v1.1h-1.1zM165.2 178.0h1.1v1.1h-1.1zM167.3 175.8h1.1v1.1h-1.1zM135.2 177.0h1.1v1.1h-1.1zM168.8 180.9h1.1v1.1h-1.1zM190.0 173.7h1.1v1.1h-1.1zM156.0 184.9h1.1v1.1h-1.1zM143.3 174.9h1.1v1.1h-1.1zM190.7 171.8h1.1v1.1h-1.1zM170.7 181.8h1.1v1.1h-1.1zM158.0 186.1h1.1v1.1h-1.1zM183.9 173.8h1.1v1.1h-1.1zM176.4 179.8h1.1v1.1h-1.1zM173.9 171.7h1.1v1.1h-1.1zM179.3 173.8h1.1v1.1h-1.1zM181.2 186.2h1.1v1.1h-1.1zM148.9 183.1h1.1v1.1h-1.1zM165.5 183.0h1.1v1.1h-1.1zM184.4 172.3h1.1v1.1h-1.1zM176.1 176.8h1.1v1.1h-1.1zM169.7 204.6h1.1v1.1h-1.1zM167.8 181.4h1.1v1.1h-1.1zM178.2 180.5h1.1v1.1h-1.1z"/>
<path fill="rgb(60, 155, 160)" d="M165.3 183.6h1.1v1.1h-1.1zM201.2 180.3h1.1v1.1h-1.1zM180.2 191.8h1.1v1.1h-1.1zM167.7 170.9h1.1v1.1h-1.1zM154.7 189.8h1.1v1.1h-1.1zM180.5 177.2h1.1v1.1h-1.1zM192.3 174.2h1.1v1.1h-1.1zM191.3 158.6h1.1v1.1h-1.1zM196.2 179.9h1.1v1.1h-1.1zM148.0 176.8h1.1v1.1h-1.1zM201.6 185.6h1.1v1.1h-1.1zM177.2 171.5h1.1v1.1h-1.1zM218.3 170.0h1.1v1.1h-1.1zM164.3 182.0h1.1v1.1h-1.1zM178.7 186.8h1.1v1.1h-1.1zM219.7 184.2h1.1v1.1h-1.1zM196.7 146.4h1.1v1.1h-1.1zM162.9 174.9h1.1v1.1h-1.1zM178.6 185.4h1.1v1.1h-1.1zM179.0 175.3h1.1v1.1h-1.1zM185.4 167.8h1.1v1.1h-1.1zM171.4 183.4h1.1v1.1h-1.1zM210.8 168.9h1.1v1.1h-1.1zM170.6 186.1h1.1v1.1h-1.1zM186.1 187.5h1.1v1.1h-1.1zM180.0 168.5h1.1v1.1h-1.1zM178.4 199.1h1.1v1.1h-1.1zM174.6 166.6h1.1v1.1h-1.1zM162.8 186.7h1.1v1.1h-1.1zM182.9 179.0h1.1v1.1h-1.1zM165.1 170.0h1.1v1.1h-1.1zM212.5 159.4h1.1v1.1h-1.1zM172.8 183.5h1.1v1.1h-1.1zM149.8 174.7h1.1v1.1h-1.1zM160.9 174.3h1.1v1.1h-1.1zM151.3 182.3h1.1v1.1h-1.1zM178.5 182.3h1.1v1.1h-1.1zM153.5 186.4h1.1v1.1h-1.1zM181.6 185.3h1.1v1.1h-1.1zM178.2 172.3h1.1v1.1h-1.1zM182.9 174.1h1.1v1.1h-1.1zM162.6 184.4h1.1v1.1h-1.1zM177.2 184.1h1.1v1.1h-1.1zM160.1 180.6h1.1v1.1h-1.1zM177.3 193.2h1.1v1.1h-1.1zM164.2 162.6h1.1v1.1h-1.1zM170.6 158.8h1.1v1.1h-1.1zM185.7 187.8h1.1v1.1h-1.1zM201.6 184.8h1.1v1.1h-1.1zM181.9 184.1h1.1v1.1h-1.1zM176.5 162.2h1.1v1.1h-1.1zM209.1 159.9h1.1v1.1h-1.1zM181.2 203.0h1.1v1.1h-1.1zM166.4 198.1h1.1v1.1h-1.1zM157.9 175.8h1.1v1.1h-1.1zM192.1 171.2h1.1v1.1h-1.1zM179.5 188.6h1.1v1.1h-1.1zM157.6 183.2h1.1v1.1h-1.1zM209.9 169.5h1.1v1.1h-1.1zM194.9 191.6h1.1v1.1h-1.1zM191.5 168.9h1.1v1.1h-1.1zM143.5 196.8h1.1v1.1h-1.1zM151.6 184.0h1.1v1.1h-1.1zM177.4 168.4h1.1v1.1h-1.1zM158.5 188.3h1.1v1.1h-1.1zM167.8 182.3h1.1v1.1h-1.1zM157.6 190.1h1.1v1.1h-1.1zM174.7 172.0h1.1v1.1h-1.1zM160.5 168.4h1.1v1.1h-1.1zM173.0 183.8h1.1v1.1h-1.1zM191.6 198.9h1.1v1.1h-1.1zM181.2 173.2h1.1v1.1h-1.1zM214.7 177.0h1.1v1.1h-1.1zM145.0 178.9h1.1v1.1h-1.1zM179.8 187.3h1.1v1.1h-1.1zM199.3 172.1h1.1v1.1h-1.1zM184.0 171.4h1.1v1.1h-1.1zM171.0 174.2h1.1v1.1h-1.1zM171.7 181.0h1.1v1.1h-1.1zM139.3 188.5h1.1v1.1h-1.1zM223.3 159.3h1.1v1.1h-1.1zM148.0 156.4h1.1v1.1h-1.1zM172.8 184.0h1.1v1.1h-1.1zM178.4 172.0h1.1v1.1h-1.1zM163.1 182.9h1.1v1.1h-1.1zM176.4 183.6h1.1v1.1h-1.1zM152.0 182.9h1.1v1.1h-1.1zM164.0 178.5h1.1v1.1h-1.1zM170.3 168.0h1.1v1.1h-1.1zM193.9 162.9h1.1v1.1h-1.1zM188.2 171.6h1.1v1.1h-1.1zM168.6 185.9h1.1v1.1h-1.1zM154.5 190.3h1.1v1.1h-1.1zM152.1 198.1h1.1v1.1h-1.1zM177.3 183.6h1.1v1.1h-1.1zM193.7 163.3h1.1v1.1h-1.1zM171.3 182.2h1.1v1.1h-1.1zM164.6 194.1h1.1v1.1h-1.1zM166.3 187.1h1.1v1.1h-1.1zM148.6 155.4h1.1v1.1h-1.1zM211.7 164.5h1.1v1.1h-1.1zM182.3 181.3h1.1v1.1h-1.1zM159.1 193.1h1.1v1.1h-1.1zM162.2 184.7h1.1v1.1h-1.1zM159.7 175.9h1.1v1.1h-1.1zM165.9 174.4h1.1v1.1h-1.1zM183.9 181.8h1.1v1.1h-1.1zM177.0 161.8h1.1v1.1h-1.1z"/>
<path fill="rgb(215, 135, 45)" d="M184.2 177.9h1.1v1.1h-1.1zM185.6 175.5h1.1v1.1h-1.1zM183.3 177.9h1.1v1.1h-1.1zM185.9 180.0h1.1v1.1h-1.1zM185.3 178.0h1.1v1.1h-1.1zM190.5 177.3h1.1v1.1h-1.1zM185.5 176.4h1.1v1.1h-1.1zM184.8 177.7h1.1v1.1h-1.1zM186.8 178.7h1.1v1.1h-1.1zM186.9 175.5h1.1v1.1h-1.1zM180.7 176.7h1.1v1.1h-1.1zM190.1 176.9h1.1v1.1h-1.1zM186.2 175.5h1.1v1.1h-1.1zM186.3 173.9h1.1v1.1h-1.1zM185.3 179.2h1.1v1.1h-1.1zM187.4 177.5h1.1v1.1h-1.1zM182.8 177.8h1.1v1.1h-1.1zM184.3 176.6h1.1v1.1h-1.1zM185.4 177.2h1.1v1.1h-1.1zM186.7 175.4h1.1v1.1h-1.1z"/>
<path fill="rgb(195, 195, 60)" d="M186.8 181.2h1.1v1.1h-1.1zM184.2 179.5h1.1v1.1h-1.1zM188.0 174.0h1.1v1.1h-1.1zM193.9 167.3h1.1v1.1h-1.1zM182.1 177.8h1.1v1.1h-1.1zM188.1 178.7h1.1v1.1h-1.1zM190.6 179.6h1.1v1.1h-1.1zM183.0 180.3h1.1v1.1h-1.1zM190.5 177.3h1.1v1.1h-1.1zM184.6 178.2h1.1v1.1h-1.1zM180.3 177.4h1.1v1.1h-1.1zM189.7 175.7h1.1v1.1h-1.1zM184.6 169.2h1.1v1.1h-1.1zM177.8 165.1h1.1v1.1h-1.1zM179.5 181.9h1.1v1.1h-1.1zM186.1 173.1h1.1v1.1h-1.1zM184.0 182.0h1.1v1.1h-1.1zM183.4 174.2h1.1v1.1h-1.1zM186.4 181.0h1.1v1.1h-1.1zM180.0 169.9h1.1v1.1h-1.1zM190.8 182.1h1.1v1.1h-1.1zM151.4 169.0h1.1v1.1h-1.1zM165.1 159.5h1.1v1.1h-1.1zM181.9 178.3h1.1v1.1h-1.1zM174.4 179.1h1.1v1.1h-1.1zM180.8 173.9h1.1v1.1h-1.1zM194.6 159.1h1.1v1.1h-1.1zM156.0 176.7h1.1v1.1h-1.1zM186.7 171.8h1.1v1.1h-1.1zM186.3 177.5h1.1v1.1h-1.1zM184.4 179.8h1.1v1.1h-1.1zM192.3 182.5h1.1v1.1h-1.1zM163.0 179.9h1.1v1.1h-1.1zM187.6 173.4h1.1v1.1h-1.1zM186.1 180.1h1.1v1.1h-1.1zM182.5 177.5h1.1v1.1h-1.1zM163.9 187.1h1.1v1.1h-1.1zM195.2 175.3h1.1v1.1h-1.1zM192.1 157.8h1.1v1.1h-1.1zM193.5 175.2h1.1v1.1h-1.1zM181.4 176.9h1.1v1.1h-1.1zM162.2 186.7h1.1v1.1h-1.1zM197.0 182.5h1.1v1.1h-1.1zM155.9 183.3h1.1v1.1h-1.1zM183.3 160.0h1.1v1.1h-1.1zM189.2 181.6h1.1v1.1h-1.1zM177.6 161.1h1.1v1.1h-1.1z"/>
<path fill="rgb(170, 200, 60)" d="M156.0 178.2h1.1v1.1h-1.1zM179.9 172.7h1.1v1.1h-1.1zM176.6 180.1h1.1v1.1h-1.1zM191.4 178.7h1.1v1.1h-1.1zM166.6 177.6h1.1v1.1h-1.1zM173.6 179.3h1.1v1.1h-1.1zM163.9 181.5h1.1v1.1h-1.1zM176.3 177.9h1.1v1.1h-1.1zM184.5 179.4h1.1v1.1h-1.1zM191.8 175.5h1.1v1.1h-1.1zM182.2 174.0h1.1v1.1h-1.1zM172.8 179.3h1.1v1.1h-1.1zM174.0 179.6h1.1v1.1h-1.1zM160.9 182.5h1.1v1.1h-1.1zM170.5 178.8h1.1v1.1h-1.1zM180.0 176.3h1.1v1.1h-1.1zM176.8 173.6h1.1v1.1h-1.1zM187.4 173.9h1.1v1.1h-1.1zM167.6 179.1h1.1v1.1h-1.1zM172.1 182.8h1.1v1.1h-1.1zM150.2 180.3h1.1v1.1h-1.1zM189.0 171.2h1.1v1.1h-1.1zM178.2 175.3h1.1v1.1h-1.1zM181.0 181.5h1.1v1.1h-1.1zM175.1 176.9h1.1v1.1h-1.1zM157.8 184.8h1.1v1.1h-1.1zM160.1 179.0h1.1v1.1h-1.1zM176.5 184.4h1.1v1.1h-1.1zM172.0 178.3h1.1v1.1h-1.1zM163.9 183.9h1.1v1.1h-1.1zM178.1 177.1h1.1v1.1h-1.1zM164.8 179.4h1.1v1.1h-1.1z"/></g>
<rect x="73.5" y="119" width="150.5" height="139.3" fill="none" stroke="#222" stroke-width="1.2"/>
<path d="M73.5 130.2H128.4V211.1H73.5" fill="none" stroke="#333" stroke-width="1.3"/>
<rect x="131" y="120.7" width="90" height="88.6" fill="none" stroke="#444" stroke-width="1.3"/>
<path d="M73.5 212.6H146.5V258.5" fill="none" stroke="#444" stroke-width="1.3"/>
<path d="M69.5 258.3H73.5M71.5 247.8H73.5M71.5 241.7H73.5M71.5 237.4H73.5M71.5 234.0H73.5M71.5 231.3H73.5M71.5 228.9H73.5M71.5 226.9H73.5M71.5 225.1H73.5M69.5 223.6H73.5M71.5 213.1H73.5M71.5 207.0H73.5M71.5 202.6H73.5M71.5 199.3H73.5M71.5 196.5H73.5M71.5 194.2H73.5M71.5 192.2H73.5M71.5 190.4H73.5M69.5 188.8H73.5M71.5 178.3H73.5M71.5 172.2H73.5M71.5 167.9H73.5M71.5 164.5H73.5M71.5 161.8H73.5M71.5 159.4H73.5M71.5 157.4H73.5M71.5 155.6H73.5M69.5 154.1H73.5M71.5 143.6H73.5M71.5 137.5H73.5M71.5 133.1H73.5M71.5 129.8H73.5M71.5 127.0H73.5M71.5 124.7H73.5M71.5 122.7H73.5M71.5 120.9H73.5M69.5 119.3H73.5M73.5 258.5V262.5M84.8 258.5V260.5M91.5 258.5V260.5M96.2 258.5V260.5M99.8 258.5V260.5M102.8 258.5V260.5M105.3 258.5V260.5M107.5 258.5V260.5M109.4 258.5V260.5M111.1 258.5V262.5M122.5 258.5V260.5M129.1 258.5V260.5M133.8 258.5V260.5M137.4 258.5V260.5M140.4 258.5V260.5M142.9 258.5V260.5M145.1 258.5V260.5M147.0 258.5V260.5M148.8 258.5V262.5M160.1 258.5V260.5M166.7 258.5V260.5M171.4 258.5V260.5M175.0 258.5V260.5M178.0 258.5V260.5M180.5 258.5V260.5M182.7 258.5V260.5M184.7 258.5V260.5M186.4 258.5V262.5M197.7 258.5V260.5M204.3 258.5V260.5M209.0 258.5V260.5M212.7 258.5V260.5M215.7 258.5V260.5M218.2 258.5V260.5M220.4 258.5V260.5M222.3 258.5V260.5M224.0 258.5V262.5" stroke="#222" stroke-width="0.9" fill="none"/>
<text x="55.4" y="260.2" font-family="Liberation Sans" font-size="7" font-weight="bold" fill="#333">10<tspan dy="-4.9" dx="0.3" font-size="6.2">0</tspan></text>
<text x="55.4" y="226.2" font-family="Liberation Sans" font-size="7" font-weight="bold" fill="#333">10<tspan dy="-4.9" dx="0.3" font-size="6.2">1</tspan></text>
<text x="55.4" y="191.7" font-family="Liberation Sans" font-size="7" font-weight="bold" fill="#333">10<tspan dy="-4.9" dx="0.3" font-size="6.2">2</tspan></text>
<text x="55.4" y="157.2" font-family="Liberation Sans" font-size="7" font-weight="bold" fill="#333">10<tspan dy="-4.9" dx="0.3" font-size="6.2">3</tspan></text>
<text x="55.4" y="121.8" font-family="Liberation Sans" font-size="7" font-weight="bold" fill="#333">10<tspan dy="-4.9" dx="0.3" font-size="6.2">4</tspan></text>
<rect x="50" y="105" width="19" height="13.8" fill="#fff"/>
<text x="73" y="277.8" font-family="Liberation Sans" font-size="7" font-weight="bold" fill="#333">10<tspan dy="-4.9" dx="0.3" font-size="6.2">0</tspan></text>
<text x="108.4" y="277.8" font-family="Liberation Sans" font-size="7" font-weight="bold" fill="#333">10<tspan dy="-4.9" dx="0.3" font-size="6.2">1</tspan></text>
<text x="143.8" y="277.8" font-family="Liberation Sans" font-size="7" font-weight="bold" fill="#333">10<tspan dy="-4.9" dx="0.3" font-size="6.2">2</tspan></text>
<text x="179.2" y="277.8" font-family="Liberation Sans" font-size="7" font-weight="bold" fill="#333">10<tspan dy="-4.9" dx="0.3" font-size="6.2">3</tspan></text>
<text x="214.6" y="277.8" font-family="Liberation Sans" font-size="7" font-weight="bold" fill="#333">10<tspan dy="-4.9" dx="0.3" font-size="6.2">4</tspan></text>
<rect x="224.9" y="264" width="8" height="10" fill="#fff"/>
<text transform="translate(83.4,142.7) scale(1,1.13)" font-family="Liberation Serif" font-size="12.5">R2</text>
<text transform="translate(168.2,142.9) scale(1,1.13)" font-family="Liberation Serif" font-size="12.5">R3</text>
<text transform="translate(83.3,245) scale(1,1.13)" font-family="Liberation Serif" font-size="12.5">R1</text>
<path d="M43 287V123.5M38.4 130.2L43 123.2L47.6 130.2" stroke="#333" stroke-width="1.3" fill="none"/>
<path d="M43 287.3H224M216.2 282.6L224.1 287.3L216.2 292" stroke="#222" stroke-width="1.3" fill="none"/>
<text transform="translate(34.4,237.8) rotate(-90) scale(1.015,1.2)" font-family="Liberation Serif" font-size="13">Annexin-V</text>
<text transform="translate(125.4,304.6) scale(1,1.12)" font-family="Liberation Serif" font-size="13">7-AAD</text>
<text transform="translate(320.3,26.6) scale(1,1.17)" font-family="Liberation Serif" font-size="13.5">CCR7</text>
<text transform="translate(450.5,27.2) scale(1,1.12)" font-family="Liberation Serif" font-size="13.5">CCR5</text>
<text transform="translate(251.3,95.9) scale(1,1.1)" font-family="Liberation Serif" font-size="12.5">R1</text>
<text transform="translate(251.3,210.7) scale(1,1.13)" font-family="Liberation Serif" font-size="12.5">R2</text>
<text transform="translate(251.3,325.8) scale(1,1.13)" font-family="Liberation Serif" font-size="12.5">R3</text>
<path d="M290.8 136.5 L298.7 129.0 L301.9 114.7 L304.3 92.5 L305.9 71.8 L307.1 55.9 L308.3 49.5 L309.8 55.9 L310.6 71.8 L311.4 92.5 L314.6 110.0 L317.8 112.3 L320.2 119.5 L324.2 130.6 L327.3 134.6 L333.7 136.5 L333.7 136.5Z" fill="#818181" stroke="#555" stroke-width="0.6"/>
<path d="M289.5 136.5 L296.0 134.0 L301.1 125.9 L305.0 111.5 L308.3 87.7 L309.8 63.8 L311.4 52.0 L313.0 48.7 L315.4 54.3 L318.6 65.4 L320.2 76.6 L322.6 90.9 L325.0 106.8 L328.1 119.5 L332.1 127.4 L336.9 132.2 L340.8 133.8 L349.6 135.4 L359.0 136.5" fill="none" stroke="#333" stroke-width="0.9"/>
<path d="M288.2 38.7H386.0V136.5" fill="none" stroke="#555" stroke-width="1.2"/>
<path d="M288.2 38.7V136.5H386.0" fill="none" stroke="#222" stroke-width="1.1"/>
<path d="M288.2 136.5v2.6M295.6 136.5v1.8M299.9 136.5v1.8M302.9 136.5v1.8M305.3 136.5v1.8M307.2 136.5v1.8M308.9 136.5v1.8M310.3 136.5v1.8M311.5 136.5v1.8M312.6 136.5v2.6M320.0 136.5v1.8M324.3 136.5v1.8M327.4 136.5v1.8M329.7 136.5v1.8M331.7 136.5v1.8M333.3 136.5v1.8M334.7 136.5v1.8M336.0 136.5v1.8M337.1 136.5v2.6M344.5 136.5v1.8M348.8 136.5v1.8M351.8 136.5v1.8M354.2 136.5v1.8M356.1 136.5v1.8M357.8 136.5v1.8M359.2 136.5v1.8M360.4 136.5v1.8M361.6 136.5v2.6M368.9 136.5v1.8M373.2 136.5v1.8M376.3 136.5v1.8M378.6 136.5v1.8M380.6 136.5v1.8M382.2 136.5v1.8M383.6 136.5v1.8M384.9 136.5v1.8M386.0 136.5v2.6M288.2 136.5h-2.5M288.2 127.2h-1.5M288.2 117.9h-2.5M288.2 108.6h-1.5M288.2 99.3h-2.5M288.2 90.0h-1.5M288.2 80.7h-2.5M288.2 71.4h-1.5M288.2 62.1h-2.5M288.2 52.8h-1.5M288.2 43.5h-2.5" stroke="#222" stroke-width="0.85" fill="none"/>
<text x="283.8" y="120.3" text-anchor="end" font-family="Liberation Sans" font-size="4.7" font-weight="bold" fill="#444">20</text>
<text x="283.8" y="101.7" text-anchor="end" font-family="Liberation Sans" font-size="4.7" font-weight="bold" fill="#444">40</text>
<text x="283.8" y="83.1" text-anchor="end" font-family="Liberation Sans" font-size="4.7" font-weight="bold" fill="#444">60</text>
<text x="283.8" y="64.5" text-anchor="end" font-family="Liberation Sans" font-size="4.7" font-weight="bold" fill="#444">80</text>
<text x="283.8" y="45.9" text-anchor="end" font-family="Liberation Sans" font-size="4.7" font-weight="bold" fill="#444">100</text>
<text x="287.9" y="149.9" font-family="Liberation Sans" font-size="5" font-weight="bold" fill="#333" letter-spacing="0.3">10<tspan dy="-3.4" font-size="4.2">0</tspan></text>
<text x="310.4" y="149.9" font-family="Liberation Sans" font-size="5" font-weight="bold" fill="#333" letter-spacing="0.3">10<tspan dy="-3.4" font-size="4.2">1</tspan></text>
<text x="333.0" y="149.9" font-family="Liberation Sans" font-size="5" font-weight="bold" fill="#333" letter-spacing="0.3">10<tspan dy="-3.4" font-size="4.2">2</tspan></text>
<text x="355.6" y="149.9" font-family="Liberation Sans" font-size="5" font-weight="bold" fill="#333" letter-spacing="0.3">10<tspan dy="-3.4" font-size="4.2">3</tspan></text>
<text x="378.1" y="149.9" font-family="Liberation Sans" font-size="5" font-weight="bold" fill="#333" letter-spacing="0.3">10<tspan dy="-3.4" font-size="4.2">4</tspan></text>
<path d="M289.2 252.3 L295.5 250.4 L301.9 246.4 L305.9 240.9 L308.3 226.5 L309.8 202.7 L311.1 178.8 L311.9 172.5 L313.0 180.4 L314.6 210.6 L317.0 234.5 L319.4 247.2 L321.8 252.3 L321.8 252.3Z" fill="#818181" stroke="#555" stroke-width="0.6"/>
<path d="M289.2 252.3 L295.5 250.6 L301.9 246.8 L306.7 242.4 L309.5 230.0 L311.4 202.7 L313.8 182.0 L315.4 172.5 L316.2 170.1 L317.8 186.8 L319.4 218.6 L321.8 240.9 L324.2 250.4 L326.0 252.3" fill="none" stroke="#333" stroke-width="0.9"/>
<path d="M288.2 154.6H386.0V252.3" fill="none" stroke="#555" stroke-width="1.2"/>
<path d="M288.2 154.6V252.3H386.0" fill="none" stroke="#222" stroke-width="1.1"/>
<path d="M288.2 252.3v2.6M295.6 252.3v1.8M299.9 252.3v1.8M302.9 252.3v1.8M305.3 252.3v1.8M307.2 252.3v1.8M308.9 252.3v1.8M310.3 252.3v1.8M311.5 252.3v1.8M312.6 252.3v2.6M320.0 252.3v1.8M324.3 252.3v1.8M327.4 252.3v1.8M329.7 252.3v1.8M331.7 252.3v1.8M333.3 252.3v1.8M334.7 252.3v1.8M336.0 252.3v1.8M337.1 252.3v2.6M344.5 252.3v1.8M348.8 252.3v1.8M351.8 252.3v1.8M354.2 252.3v1.8M356.1 252.3v1.8M357.8 252.3v1.8M359.2 252.3v1.8M360.4 252.3v1.8M361.6 252.3v2.6M368.9 252.3v1.8M373.2 252.3v1.8M376.3 252.3v1.8M378.6 252.3v1.8M380.6 252.3v1.8M382.2 252.3v1.8M383.6 252.3v1.8M384.9 252.3v1.8M386.0 252.3v2.6M288.2 252.3h-2.5M288.2 243.0h-1.5M288.2 233.7h-2.5M288.2 224.4h-1.5M288.2 215.1h-2.5M288.2 205.8h-1.5M288.2 196.6h-2.5M288.2 187.3h-1.5M288.2 178.0h-2.5M288.2 168.7h-1.5M288.2 159.4h-2.5" stroke="#222" stroke-width="0.85" fill="none"/>
<text x="283.8" y="236.1" text-anchor="end" font-family="Liberation Sans" font-size="4.7" font-weight="bold" fill="#444">20</text>
<text x="283.8" y="217.5" text-anchor="end" font-family="Liberation Sans" font-size="4.7" font-weight="bold" fill="#444">40</text>
<text x="283.8" y="199.0" text-anchor="end" font-family="Liberation Sans" font-size="4.7" font-weight="bold" fill="#444">60</text>
<text x="283.8" y="180.4" text-anchor="end" font-family="Liberation Sans" font-size="4.7" font-weight="bold" fill="#444">80</text>
<text x="283.8" y="161.8" text-anchor="end" font-family="Liberation Sans" font-size="4.7" font-weight="bold" fill="#444">100</text>
<text x="287.9" y="265.7" font-family="Liberation Sans" font-size="5" font-weight="bold" fill="#333" letter-spacing="0.3">10<tspan dy="-3.4" font-size="4.2">0</tspan></text>
<text x="310.4" y="265.7" font-family="Liberation Sans" font-size="5" font-weight="bold" fill="#333" letter-spacing="0.3">10<tspan dy="-3.4" font-size="4.2">1</tspan></text>
<text x="333.0" y="265.7" font-family="Liberation Sans" font-size="5" font-weight="bold" fill="#333" letter-spacing="0.3">10<tspan dy="-3.4" font-size="4.2">2</tspan></text>
<text x="355.6" y="265.7" font-family="Liberation Sans" font-size="5" font-weight="bold" fill="#333" letter-spacing="0.3">10<tspan dy="-3.4" font-size="4.2">3</tspan></text>
<text x="378.1" y="265.7" font-family="Liberation Sans" font-size="5" font-weight="bold" fill="#333" letter-spacing="0.3">10<tspan dy="-3.4" font-size="4.2">4</tspan></text>
<path d="M309.0 368.5 L311.4 360.0 L313.8 342.5 L315.4 318.7 L317.0 299.6 L318.6 288.5 L320.2 285.3 L321.8 281.3 L322.9 286.9 L324.2 310.7 L325.4 334.6 L327.0 353.7 L328.9 364.8 L330.5 368.5 L330.5 368.5Z" fill="#818181" stroke="#555" stroke-width="0.6"/>
<path d="M309.5 368.5 L312.0 360.0 L314.3 342.5 L315.9 318.7 L317.3 299.6 L318.6 287.0 L319.8 289.0 L321.8 280.5 L323.5 288.0 L325.0 302.8 L326.5 326.6 L328.1 347.3 L330.5 361.6 L332.9 368.5 L340.0 368.5 L342.0 366.5 L344.0 367.0 L345.6 364.0 L347.5 366.5 L349.6 368.5" fill="none" stroke="#333" stroke-width="0.9"/>
<path d="M288.2 271.4H386.0V368.5" fill="none" stroke="#555" stroke-width="1.2"/>
<path d="M288.2 271.4V368.5H386.0" fill="none" stroke="#222" stroke-width="1.1"/>
<path d="M288.2 368.5v2.6M295.6 368.5v1.8M299.9 368.5v1.8M302.9 368.5v1.8M305.3 368.5v1.8M307.2 368.5v1.8M308.9 368.5v1.8M310.3 368.5v1.8M311.5 368.5v1.8M312.6 368.5v2.6M320.0 368.5v1.8M324.3 368.5v1.8M327.4 368.5v1.8M329.7 368.5v1.8M331.7 368.5v1.8M333.3 368.5v1.8M334.7 368.5v1.8M336.0 368.5v1.8M337.1 368.5v2.6M344.5 368.5v1.8M348.8 368.5v1.8M351.8 368.5v1.8M354.2 368.5v1.8M356.1 368.5v1.8M357.8 368.5v1.8M359.2 368.5v1.8M360.4 368.5v1.8M361.6 368.5v2.6M368.9 368.5v1.8M373.2 368.5v1.8M376.3 368.5v1.8M378.6 368.5v1.8M380.6 368.5v1.8M382.2 368.5v1.8M383.6 368.5v1.8M384.9 368.5v1.8M386.0 368.5v2.6M288.2 368.5h-2.5M288.2 359.3h-1.5M288.2 350.0h-2.5M288.2 340.8h-1.5M288.2 331.6h-2.5M288.2 322.3h-1.5M288.2 313.1h-2.5M288.2 303.9h-1.5M288.2 294.7h-2.5M288.2 285.4h-1.5M288.2 276.2h-2.5" stroke="#222" stroke-width="0.85" fill="none"/>
<text x="283.8" y="352.4" text-anchor="end" font-family="Liberation Sans" font-size="4.7" font-weight="bold" fill="#444">20</text>
<text x="283.8" y="334.0" text-anchor="end" font-family="Liberation Sans" font-size="4.7" font-weight="bold" fill="#444">40</text>
<text x="283.8" y="315.5" text-anchor="end" font-family="Liberation Sans" font-size="4.7" font-weight="bold" fill="#444">60</text>
<text x="283.8" y="297.1" text-anchor="end" font-family="Liberation Sans" font-size="4.7" font-weight="bold" fill="#444">80</text>
<text x="283.8" y="278.6" text-anchor="end" font-family="Liberation Sans" font-size="4.7" font-weight="bold" fill="#444">100</text>
<text x="287.9" y="381.9" font-family="Liberation Sans" font-size="5" font-weight="bold" fill="#333" letter-spacing="0.3">10<tspan dy="-3.4" font-size="4.2">0</tspan></text>
<text x="310.4" y="381.9" font-family="Liberation Sans" font-size="5" font-weight="bold" fill="#333" letter-spacing="0.3">10<tspan dy="-3.4" font-size="4.2">1</tspan></text>
<text x="333.0" y="381.9" font-family="Liberation Sans" font-size="5" font-weight="bold" fill="#333" letter-spacing="0.3">10<tspan dy="-3.4" font-size="4.2">2</tspan></text>
<text x="355.6" y="381.9" font-family="Liberation Sans" font-size="5" font-weight="bold" fill="#333" letter-spacing="0.3">10<tspan dy="-3.4" font-size="4.2">3</tspan></text>
<text x="378.1" y="381.9" font-family="Liberation Sans" font-size="5" font-weight="bold" fill="#333" letter-spacing="0.3">10<tspan dy="-3.4" font-size="4.2">4</tspan></text>
<path d="M414.7 136.5 L414.7 119.5 L416.0 127.0 L417.6 132.0 L420.0 134.5 L426.0 135.0 L430.3 130.6 L432.7 122.7 L435.0 95.6 L437.4 71.8 L439.8 55.1 L441.4 63.8 L443.0 95.6 L444.6 119.5 L446.2 130.6 L447.0 134.0 L449.0 136.5 L449.0 136.5Z" fill="#818181" stroke="#555" stroke-width="0.6"/>
<path d="M414.7 119.5 L416.0 127.0 L417.6 132.0 L420.0 134.5 L426.0 135.0 L430.3 130.6 L432.7 122.7 L435.0 95.6 L437.4 71.8 L439.8 54.5 L441.6 63.8 L443.2 95.6 L444.8 119.5 L446.4 130.6 L446.8 133.8 L459.7 133.8 L460.5 136.5" fill="none" stroke="#333" stroke-width="0.9"/>
<path d="M414.7 38.7H512.5V136.5" fill="none" stroke="#555" stroke-width="1.2"/>
<path d="M414.7 38.7V136.5H512.5" fill="none" stroke="#222" stroke-width="1.1"/>
<path d="M414.7 136.5v2.6M422.1 136.5v1.8M426.4 136.5v1.8M429.4 136.5v1.8M431.8 136.5v1.8M433.7 136.5v1.8M435.4 136.5v1.8M436.8 136.5v1.8M438.0 136.5v1.8M439.1 136.5v2.6M446.5 136.5v1.8M450.8 136.5v1.8M453.9 136.5v1.8M456.2 136.5v1.8M458.2 136.5v1.8M459.8 136.5v1.8M461.2 136.5v1.8M462.5 136.5v1.8M463.6 136.5v2.6M471.0 136.5v1.8M475.3 136.5v1.8M478.3 136.5v1.8M480.7 136.5v1.8M482.6 136.5v1.8M484.3 136.5v1.8M485.7 136.5v1.8M486.9 136.5v1.8M488.1 136.5v2.6M495.4 136.5v1.8M499.7 136.5v1.8M502.8 136.5v1.8M505.1 136.5v1.8M507.1 136.5v1.8M508.7 136.5v1.8M510.1 136.5v1.8M511.4 136.5v1.8M512.5 136.5v2.6M414.7 136.5h-2.5M414.7 127.2h-1.5M414.7 117.9h-2.5M414.7 108.6h-1.5M414.7 99.3h-2.5M414.7 90.0h-1.5M414.7 80.7h-2.5M414.7 71.4h-1.5M414.7 62.1h-2.5M414.7 52.8h-1.5M414.7 43.5h-2.5" stroke="#222" stroke-width="0.85" fill="none"/>
<text x="410.3" y="120.3" text-anchor="end" font-family="Liberation Sans" font-size="4.7" font-weight="bold" fill="#444">20</text>
<text x="410.3" y="101.7" text-anchor="end" font-family="Liberation Sans" font-size="4.7" font-weight="bold" fill="#444">40</text>
<text x="410.3" y="83.1" text-anchor="end" font-family="Liberation Sans" font-size="4.7" font-weight="bold" fill="#444">60</text>
<text x="410.3" y="64.5" text-anchor="end" font-family="Liberation Sans" font-size="4.7" font-weight="bold" fill="#444">80</text>
<text x="410.3" y="45.9" text-anchor="end" font-family="Liberation Sans" font-size="4.7" font-weight="bold" fill="#444">100</text>
<text x="414.4" y="149.9" font-family="Liberation Sans" font-size="5" font-weight="bold" fill="#333" letter-spacing="0.3">10<tspan dy="-3.4" font-size="4.2">0</tspan></text>
<text x="436.9" y="149.9" font-family="Liberation Sans" font-size="5" font-weight="bold" fill="#333" letter-spacing="0.3">10<tspan dy="-3.4" font-size="4.2">1</tspan></text>
<text x="459.5" y="149.9" font-family="Liberation Sans" font-size="5" font-weight="bold" fill="#333" letter-spacing="0.3">10<tspan dy="-3.4" font-size="4.2">2</tspan></text>
<text x="482.1" y="149.9" font-family="Liberation Sans" font-size="5" font-weight="bold" fill="#333" letter-spacing="0.3">10<tspan dy="-3.4" font-size="4.2">3</tspan></text>
<text x="504.6" y="149.9" font-family="Liberation Sans" font-size="5" font-weight="bold" fill="#333" letter-spacing="0.3">10<tspan dy="-3.4" font-size="4.2">4</tspan></text>
<path d="M421.5 252.3 L426.3 247.2 L430.3 240.9 L432.7 226.5 L434.3 202.7 L435.8 183.6 L437.4 174.1 L439.0 182.0 L440.6 202.7 L442.2 226.5 L444.6 244.0 L447.8 250.4 L450.2 252.3 L450.2 252.3Z" fill="#818181" stroke="#555" stroke-width="0.6"/>
<path d="M421.5 252.3 L426.3 247.6 L430.5 241.5 L432.9 226.5 L434.5 202.7 L436.0 183.6 L437.4 173.5 L439.2 182.0 L441.2 202.7 L443.8 226.5 L447.8 244.0 L450.0 250.0 L451.7 252.3" fill="none" stroke="#333" stroke-width="0.9"/>
<path d="M414.7 154.6H512.5V252.3" fill="none" stroke="#555" stroke-width="1.2"/>
<path d="M414.7 154.6V252.3H512.5" fill="none" stroke="#222" stroke-width="1.1"/>
<path d="M414.7 252.3v2.6M422.1 252.3v1.8M426.4 252.3v1.8M429.4 252.3v1.8M431.8 252.3v1.8M433.7 252.3v1.8M435.4 252.3v1.8M436.8 252.3v1.8M438.0 252.3v1.8M439.1 252.3v2.6M446.5 252.3v1.8M450.8 252.3v1.8M453.9 252.3v1.8M456.2 252.3v1.8M458.2 252.3v1.8M459.8 252.3v1.8M461.2 252.3v1.8M462.5 252.3v1.8M463.6 252.3v2.6M471.0 252.3v1.8M475.3 252.3v1.8M478.3 252.3v1.8M480.7 252.3v1.8M482.6 252.3v1.8M484.3 252.3v1.8M485.7 252.3v1.8M486.9 252.3v1.8M488.1 252.3v2.6M495.4 252.3v1.8M499.7 252.3v1.8M502.8 252.3v1.8M505.1 252.3v1.8M507.1 252.3v1.8M508.7 252.3v1.8M510.1 252.3v1.8M511.4 252.3v1.8M512.5 252.3v2.6M414.7 252.3h-2.5M414.7 243.0h-1.5M414.7 233.7h-2.5M414.7 224.4h-1.5M414.7 215.1h-2.5M414.7 205.8h-1.5M414.7 196.6h-2.5M414.7 187.3h-1.5M414.7 178.0h-2.5M414.7 168.7h-1.5M414.7 159.4h-2.5" stroke="#222" stroke-width="0.85" fill="none"/>
<text x="410.3" y="236.1" text-anchor="end" font-family="Liberation Sans" font-size="4.7" font-weight="bold" fill="#444">20</text>
<text x="410.3" y="217.5" text-anchor="end" font-family="Liberation Sans" font-size="4.7" font-weight="bold" fill="#444">40</text>
<text x="410.3" y="199.0" text-anchor="end" font-family="Liberation Sans" font-size="4.7" font-weight="bold" fill="#444">60</text>
<text x="410.3" y="180.4" text-anchor="end" font-family="Liberation Sans" font-size="4.7" font-weight="bold" fill="#444">80</text>
<text x="410.3" y="161.8" text-anchor="end" font-family="Liberation Sans" font-size="4.7" font-weight="bold" fill="#444">100</text>
<text x="414.4" y="265.7" font-family="Liberation Sans" font-size="5" font-weight="bold" fill="#333" letter-spacing="0.3">10<tspan dy="-3.4" font-size="4.2">0</tspan></text>
<text x="436.9" y="265.7" font-family="Liberation Sans" font-size="5" font-weight="bold" fill="#333" letter-spacing="0.3">10<tspan dy="-3.4" font-size="4.2">1</tspan></text>
<text x="459.5" y="265.7" font-family="Liberation Sans" font-size="5" font-weight="bold" fill="#333" letter-spacing="0.3">10<tspan dy="-3.4" font-size="4.2">2</tspan></text>
<text x="482.1" y="265.7" font-family="Liberation Sans" font-size="5" font-weight="bold" fill="#333" letter-spacing="0.3">10<tspan dy="-3.4" font-size="4.2">3</tspan></text>
<text x="504.6" y="265.7" font-family="Liberation Sans" font-size="5" font-weight="bold" fill="#333" letter-spacing="0.3">10<tspan dy="-3.4" font-size="4.2">4</tspan></text>
<path d="M414.7 368.5 L414.7 356.8 L416.8 368.0 L418.4 368.5 L423.1 358.4 L427.1 347.3 L430.3 331.4 L432.7 310.7 L434.3 296.4 L435.8 289.3 L437.1 294.8 L438.2 290.9 L439.8 306.0 L441.4 320.3 L443.0 334.6 L445.4 350.5 L448.6 361.6 L453.3 364.8 L464.5 366.4 L467.6 368.5 L467.6 368.5Z" fill="#818181" stroke="#555" stroke-width="0.6"/>
<path d="M421.5 368.5 L429.5 363.2 L435.8 353.7 L439.8 341.0 L443.0 329.8 L445.4 321.9 L447.8 315.5 L449.4 302.8 L451.0 294.8 L452.5 300.4 L454.1 293.3 L455.7 291.7 L457.3 299.6 L458.9 297.2 L460.5 309.2 L462.9 318.7 L464.5 331.4 L466.8 342.5 L469.2 350.5 L471.6 355.3 L474.0 361.6 L477.2 366.4 L480.4 368.5" fill="none" stroke="#333" stroke-width="0.9"/>
<path d="M414.7 271.4H512.5V368.5" fill="none" stroke="#555" stroke-width="1.2"/>
<path d="M414.7 271.4V368.5H512.5" fill="none" stroke="#222" stroke-width="1.1"/>
<path d="M414.7 368.5v2.6M422.1 368.5v1.8M426.4 368.5v1.8M429.4 368.5v1.8M431.8 368.5v1.8M433.7 368.5v1.8M435.4 368.5v1.8M436.8 368.5v1.8M438.0 368.5v1.8M439.1 368.5v2.6M446.5 368.5v1.8M450.8 368.5v1.8M453.9 368.5v1.8M456.2 368.5v1.8M458.2 368.5v1.8M459.8 368.5v1.8M461.2 368.5v1.8M462.5 368.5v1.8M463.6 368.5v2.6M471.0 368.5v1.8M475.3 368.5v1.8M478.3 368.5v1.8M480.7 368.5v1.8M482.6 368.5v1.8M484.3 368.5v1.8M485.7 368.5v1.8M486.9 368.5v1.8M488.1 368.5v2.6M495.4 368.5v1.8M499.7 368.5v1.8M502.8 368.5v1.8M505.1 368.5v1.8M507.1 368.5v1.8M508.7 368.5v1.8M510.1 368.5v1.8M511.4 368.5v1.8M512.5 368.5v2.6M414.7 368.5h-2.5M414.7 359.3h-1.5M414.7 350.0h-2.5M414.7 340.8h-1.5M414.7 331.6h-2.5M414.7 322.3h-1.5M414.7 313.1h-2.5M414.7 303.9h-1.5M414.7 294.7h-2.5M414.7 285.4h-1.5M414.7 276.2h-2.5" stroke="#222" stroke-width="0.85" fill="none"/>
<text x="410.3" y="352.4" text-anchor="end" font-family="Liberation Sans" font-size="4.7" font-weight="bold" fill="#444">20</text>
<text x="410.3" y="334.0" text-anchor="end" font-family="Liberation Sans" font-size="4.7" font-weight="bold" fill="#444">40</text>
<text x="410.3" y="315.5" text-anchor="end" font-family="Liberation Sans" font-size="4.7" font-weight="bold" fill="#444">60</text>
<text x="410.3" y="297.1" text-anchor="end" font-family="Liberation Sans" font-size="4.7" font-weight="bold" fill="#444">80</text>
<text x="410.3" y="278.6" text-anchor="end" font-family="Liberation Sans" font-size="4.7" font-weight="bold" fill="#444">100</text>
<text x="414.4" y="381.9" font-family="Liberation Sans" font-size="5" font-weight="bold" fill="#333" letter-spacing="0.3">10<tspan dy="-3.4" font-size="4.2">0</tspan></text>
<text x="436.9" y="381.9" font-family="Liberation Sans" font-size="5" font-weight="bold" fill="#333" letter-spacing="0.3">10<tspan dy="-3.4" font-size="4.2">1</tspan></text>
<text x="459.5" y="381.9" font-family="Liberation Sans" font-size="5" font-weight="bold" fill="#333" letter-spacing="0.3">10<tspan dy="-3.4" font-size="4.2">2</tspan></text>
<text x="482.1" y="381.9" font-family="Liberation Sans" font-size="5" font-weight="bold" fill="#333" letter-spacing="0.3">10<tspan dy="-3.4" font-size="4.2">3</tspan></text>
<text x="504.6" y="381.9" font-family="Liberation Sans" font-size="5" font-weight="bold" fill="#333" letter-spacing="0.3">10<tspan dy="-3.4" font-size="4.2">4</tspan></text>
<path d="M72.5 408.5V600.8H278" stroke="#8a8a8a" stroke-width="1.1" fill="none"/>
<path d="M67.5 600.8H72.5M67.5 536.6H72.5M67.5 472.3H72.5M67.5 408.1H72.5M70 568.7H72.5M70 504.4H72.5M70 440.2H72.5M72.5 600.8v3M175.3 600.8v3M278 600.8v3" stroke="#8a8a8a" stroke-width="1.1" fill="none"/>
<text x="65.3" y="608.4" text-anchor="end" font-family="Liberation Serif" font-size="16" fill="#222">0</text>
<text x="65.3" y="544.2" text-anchor="end" font-family="Liberation Serif" font-size="16" fill="#222">20</text>
<text x="65.3" y="479.9" text-anchor="end" font-family="Liberation Serif" font-size="16" fill="#222">40</text>
<text x="65.3" y="415.7" text-anchor="end" font-family="Liberation Serif" font-size="16" fill="#222">60</text>
<text transform="translate(41.3,522) rotate(-90)" font-family="Liberation Serif" font-weight="bold" font-size="15.3">MFI</text>
<rect x="94.3" y="536.6" width="29.60000000000001" height="64.2" fill="#000" stroke="#000" stroke-width="1.1"/>
<path d="M109 536.6V521.1M106.2 521.1H111.8" stroke="#222" stroke-width="1.1" fill="none"/>
<rect x="123.9" y="575.1" width="28.400000000000006" height="25.7" fill="#fff" stroke="#000" stroke-width="1.1"/>
<path d="M138.4 575.1V565.5M135.6 565.5H141.20000000000002" stroke="#222" stroke-width="1.1" fill="none"/>
<rect x="196.5" y="578.3" width="29.900000000000006" height="22.5" fill="#000" stroke="#000" stroke-width="1.1"/>
<path d="M211.8 578.3V559.7M209.0 559.7H214.60000000000002" stroke="#222" stroke-width="1.1" fill="none"/>
<rect x="226.4" y="441.8" width="29.0" height="159.0" fill="#fff" stroke="#000" stroke-width="1.1"/>
<path d="M241.2 441.8V424.8M238.39999999999998 424.8H244.0" stroke="#222" stroke-width="1.1" fill="none"/>
<path d="M109.2 512.5V508.3H141V512.5M209.4 415.8V411.6H240.5V415.8" stroke="#222" stroke-width="1.2" fill="none"/>
<text x="125" y="513" text-anchor="middle" font-family="Liberation Serif" font-size="18" fill="#555">*</text>
<text x="225.1" y="415.4" text-anchor="middle" font-family="Liberation Serif" font-size="18" fill="#555">*</text>
<rect x="85.8" y="413.3" width="14.6" height="15" fill="#000" stroke="#000" stroke-width="1"/>
<rect x="85.8" y="437.5" width="14.6" height="13.5" fill="#fff" stroke="#000" stroke-width="1.1"/>
<text x="107" y="426.5" font-family="Liberation Serif" font-size="16">Live PMN</text>
<text x="107.6" y="449.4" font-family="Liberation Serif" font-size="16" textLength="99.6" lengthAdjust="spacingAndGlyphs">Apoptotic PMN</text>
<text x="121.2" y="624.4" text-anchor="middle" font-family="Liberation Serif" font-weight="bold" font-size="13">CCR7</text>
<text x="224.5" y="624" text-anchor="middle" font-family="Liberation Serif" font-weight="bold" font-size="13">CCR5</text>
</svg>
</body></html>
